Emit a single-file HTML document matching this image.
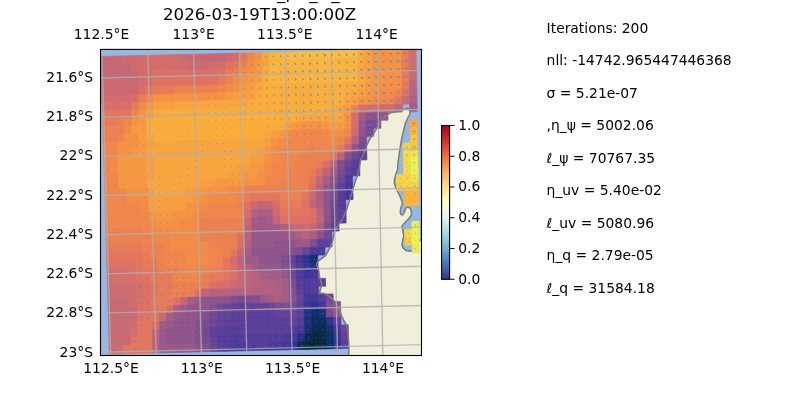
<!DOCTYPE html>
<html lang="en"><head><meta charset="utf-8"><title>2026-03-19T13:00:00Z</title>
<style>html,body{margin:0;padding:0;background:#fff;overflow:hidden}svg{display:block}text{font-family:"DejaVu Sans","Liberation Sans",sans-serif;fill:#000}.t10{font-size:13.89px}.t12{font-size:16.67px}.g{stroke:#b0b0b0;stroke-opacity:.78;stroke-width:1.4;fill:none}.q{fill:#4f8fd4;fill-opacity:.88;stroke:none}.qd{fill:#4f8fd4;fill-opacity:.5;stroke:none}</style></head><body>
<svg width="800" height="400" viewBox="0 0 800 400">
<defs><clipPath id="ax"><rect x="100.5" y="49.4" width="321.0" height="306.1"/></clipPath>
<linearGradient id="cb" x1="0" y1="1" x2="0" y2="0"><stop offset="0%" stop-color="#313695"/><stop offset="10%" stop-color="#4575b4"/><stop offset="20%" stop-color="#74add1"/><stop offset="30%" stop-color="#abd9e9"/><stop offset="40%" stop-color="#e0f3f8"/><stop offset="50%" stop-color="#ffffbf"/><stop offset="60%" stop-color="#fee090"/><stop offset="70%" stop-color="#fdae61"/><stop offset="80%" stop-color="#f46d43"/><stop offset="90%" stop-color="#d73027"/><stop offset="100%" stop-color="#a50026"/></linearGradient></defs>
<rect width="800" height="400" fill="#fff"/>
<g clip-path="url(#ax)">
<rect x="100.5" y="49.4" width="321.0" height="306.1" fill="#97b6e1"/>
<path d="M407.5,108.3 L403.8,109.4 L397.5,111.2 L390.0,113.0 L385.0,116.2 L381.2,120.0 L378.0,126.0 L374.4,132.5 L370.0,138.8 L366.9,145.0 L363.8,153.8 L360.6,160.0 L359.4,167.5 L357.5,175.0 L355.0,182.5 L353.0,188.8 L351.2,195.0 L348.8,202.5 L345.6,212.5 L341.9,220.0 L337.5,226.2 L335.0,230.0 L333.8,235.0 L332.5,241.2 L330.6,246.2 L328.1,251.2 L325.6,255.6 L321.2,258.8 L318.1,261.2 L316.5,264.4 L317.5,266.9 L318.8,271.2 L319.4,276.2 L320.6,280.0 L321.9,285.0 L320.6,288.8 L319.4,293.1 L323.8,293.5 L327.5,295.0 L331.2,298.1 L335.0,301.9 L337.5,305.6 L339.4,310.0 L341.2,315.0 L343.8,320.5 L346.6,325.3 L347.8,331.2 L348.5,340.0 L348.8,347.5 L348.8,358.0 L424.0,358.0 L424.0,236.0 L420.6,240.0 L416.3,245.0 L414.0,248.5 L412.0,250.5 L410.0,251.2 L406.2,250.6 L403.0,248.0 L401.9,245.0 L402.5,241.2 L403.8,236.2 L403.0,231.2 L401.9,226.2 L405.0,222.5 L408.8,218.8 L411.5,215.0 L411.2,211.0 L410.0,208.0 L407.5,207.0 L405.5,208.5 L404.5,212.0 L402.8,215.0 L401.0,214.5 L400.2,212.0 L400.8,208.0 L402.5,203.5 L402.0,201.5 L399.4,195.0 L396.2,188.8 L394.4,183.8 L394.4,180.0 L395.6,175.0 L397.5,170.0 L398.0,162.5 L399.4,152.5 L400.6,145.0 L401.9,137.5 L403.8,130.0 L405.6,122.5 L408.0,117.5 L410.0,113.8 L409.8,110.5Z" fill="#efefdb"/>
<g>
<path d="M100.8,56.5 L122.8,55.9 L123.0,63.8 L101.0,64.3Z" fill="#c76774" stroke="#c76774" stroke-width="0.7"/>
<path d="M122.8,55.9 L137.4,55.6 L137.6,63.4 L123.0,63.8Z" fill="#ce696f" stroke="#ce696f" stroke-width="0.7"/>
<path d="M137.4,55.6 L181.4,54.5 L181.6,62.4 L137.6,63.4Z" fill="#d46c6b" stroke="#d46c6b" stroke-width="0.7"/>
<path d="M181.4,54.5 L188.7,54.4 L188.9,62.2 L181.6,62.4Z" fill="#ce696f" stroke="#ce696f" stroke-width="0.7"/>
<path d="M188.7,54.4 L225.4,53.5 L225.6,61.3 L188.9,62.2Z" fill="#c76774" stroke="#c76774" stroke-width="0.7"/>
<path d="M225.4,53.5 L232.7,53.3 L232.9,61.2 L225.6,61.3Z" fill="#ce696f" stroke="#ce696f" stroke-width="0.7"/>
<path d="M232.7,53.3 L240.1,53.1 L240.2,61.0 L232.9,61.2Z" fill="#d46c6b" stroke="#d46c6b" stroke-width="0.7"/>
<path d="M240.1,53.1 L247.4,53.0 L247.6,60.8 L240.2,61.0Z" fill="#e5765b" stroke="#e5765b" stroke-width="0.7"/>
<path d="M247.4,53.0 L254.7,52.8 L254.9,60.6 L247.6,60.8Z" fill="#f2864b" stroke="#f2864b" stroke-width="0.7"/>
<path d="M254.7,52.8 L262.1,52.6 L262.2,60.5 L254.9,60.6Z" fill="#f79243" stroke="#f79243" stroke-width="0.7"/>
<path d="M262.1,52.6 L269.4,52.5 L269.6,60.3 L262.2,60.5Z" fill="#faa63e" stroke="#faa63e" stroke-width="0.7"/>
<path d="M269.4,52.5 L284.1,52.1 L284.2,59.9 L269.6,60.3Z" fill="#fab53e" stroke="#fab53e" stroke-width="0.7"/>
<path d="M284.1,52.1 L357.4,50.4 L357.5,58.2 L284.2,59.9Z" fill="#f9bc40" stroke="#f9bc40" stroke-width="0.7"/>
<path d="M357.4,50.4 L364.7,50.2 L364.9,58.0 L357.5,58.2Z" fill="#fbad3c" stroke="#fbad3c" stroke-width="0.7"/>
<path d="M364.7,50.2 L372.1,50.0 L372.2,57.9 L364.9,58.0Z" fill="#f99f40" stroke="#f99f40" stroke-width="0.7"/>
<path d="M372.1,50.0 L401.4,49.3 L401.5,57.2 L372.2,57.9Z" fill="#f79243" stroke="#f79243" stroke-width="0.7"/>
<path d="M401.4,49.3 L408.7,49.2 L408.9,57.0 L401.5,57.2Z" fill="#ee8150" stroke="#ee8150" stroke-width="0.7"/>
<path d="M408.7,49.2 L416.1,49.0 L416.2,56.8 L408.9,57.0Z" fill="#db6e66" stroke="#db6e66" stroke-width="0.7"/>
<path d="M101.0,64.3 L130.3,63.6 L130.5,71.4 L101.2,72.1Z" fill="#c76774" stroke="#c76774" stroke-width="0.7"/>
<path d="M130.3,63.6 L137.6,63.4 L137.9,71.2 L130.5,71.4Z" fill="#ce696f" stroke="#ce696f" stroke-width="0.7"/>
<path d="M137.6,63.4 L188.9,62.2 L189.1,70.0 L137.9,71.2Z" fill="#d46c6b" stroke="#d46c6b" stroke-width="0.7"/>
<path d="M188.9,62.2 L210.9,61.7 L211.1,69.5 L189.1,70.0Z" fill="#ce696f" stroke="#ce696f" stroke-width="0.7"/>
<path d="M210.9,61.7 L225.6,61.3 L225.8,69.2 L211.1,69.5Z" fill="#d46c6b" stroke="#d46c6b" stroke-width="0.7"/>
<path d="M225.6,61.3 L232.9,61.2 L233.1,69.0 L225.8,69.2Z" fill="#e17161" stroke="#e17161" stroke-width="0.7"/>
<path d="M232.9,61.2 L240.2,61.0 L240.4,68.8 L233.1,69.0Z" fill="#e5765b" stroke="#e5765b" stroke-width="0.7"/>
<path d="M240.2,61.0 L247.6,60.8 L247.8,68.6 L240.4,68.8Z" fill="#ee8150" stroke="#ee8150" stroke-width="0.7"/>
<path d="M247.6,60.8 L254.9,60.6 L255.1,68.5 L247.8,68.6Z" fill="#f68b45" stroke="#f68b45" stroke-width="0.7"/>
<path d="M254.9,60.6 L262.2,60.5 L262.4,68.3 L255.1,68.5Z" fill="#f89941" stroke="#f89941" stroke-width="0.7"/>
<path d="M262.2,60.5 L269.6,60.3 L269.8,68.1 L262.4,68.3Z" fill="#faa63e" stroke="#faa63e" stroke-width="0.7"/>
<path d="M269.6,60.3 L357.5,58.2 L357.7,66.0 L269.8,68.1Z" fill="#fab53e" stroke="#fab53e" stroke-width="0.7"/>
<path d="M357.5,58.2 L364.9,58.0 L365.0,65.9 L357.7,66.0Z" fill="#fbad3c" stroke="#fbad3c" stroke-width="0.7"/>
<path d="M364.9,58.0 L372.2,57.9 L372.4,65.7 L365.0,65.9Z" fill="#f99f40" stroke="#f99f40" stroke-width="0.7"/>
<path d="M372.2,57.9 L401.5,57.2 L401.7,65.0 L372.4,65.7Z" fill="#f79243" stroke="#f79243" stroke-width="0.7"/>
<path d="M401.5,57.2 L408.9,57.0 L409.0,64.8 L401.7,65.0Z" fill="#e97b56" stroke="#e97b56" stroke-width="0.7"/>
<path d="M408.9,57.0 L416.2,56.8 L416.3,64.6 L409.0,64.8Z" fill="#d46c6b" stroke="#d46c6b" stroke-width="0.7"/>
<path d="M101.2,72.1 L137.9,71.2 L138.1,79.1 L101.4,79.9Z" fill="#c76774" stroke="#c76774" stroke-width="0.7"/>
<path d="M137.9,71.2 L152.5,70.9 L152.7,78.7 L138.1,79.1Z" fill="#d46c6b" stroke="#d46c6b" stroke-width="0.7"/>
<path d="M152.5,70.9 L218.5,69.3 L218.6,77.2 L152.7,78.7Z" fill="#db6e66" stroke="#db6e66" stroke-width="0.7"/>
<path d="M218.5,69.3 L225.8,69.2 L226.0,77.0 L218.6,77.2Z" fill="#e17161" stroke="#e17161" stroke-width="0.7"/>
<path d="M225.8,69.2 L233.1,69.0 L233.3,76.8 L226.0,77.0Z" fill="#e97b56" stroke="#e97b56" stroke-width="0.7"/>
<path d="M233.1,69.0 L240.4,68.8 L240.6,76.6 L233.3,76.8Z" fill="#ee8150" stroke="#ee8150" stroke-width="0.7"/>
<path d="M240.4,68.8 L247.8,68.6 L248.0,76.5 L240.6,76.6Z" fill="#f68b45" stroke="#f68b45" stroke-width="0.7"/>
<path d="M247.8,68.6 L255.1,68.5 L255.3,76.3 L248.0,76.5Z" fill="#f79243" stroke="#f79243" stroke-width="0.7"/>
<path d="M255.1,68.5 L262.4,68.3 L262.6,76.1 L255.3,76.3Z" fill="#f89941" stroke="#f89941" stroke-width="0.7"/>
<path d="M262.4,68.3 L269.8,68.1 L269.9,75.9 L262.6,76.1Z" fill="#faa63e" stroke="#faa63e" stroke-width="0.7"/>
<path d="M269.8,68.1 L357.7,66.0 L357.9,73.9 L269.9,75.9Z" fill="#fab53e" stroke="#fab53e" stroke-width="0.7"/>
<path d="M357.7,66.0 L365.0,65.9 L365.2,73.7 L357.9,73.9Z" fill="#faa63e" stroke="#faa63e" stroke-width="0.7"/>
<path d="M365.0,65.9 L372.4,65.7 L372.5,73.5 L365.2,73.7Z" fill="#f99f40" stroke="#f99f40" stroke-width="0.7"/>
<path d="M372.4,65.7 L401.7,65.0 L401.8,72.8 L372.5,73.5Z" fill="#f79243" stroke="#f79243" stroke-width="0.7"/>
<path d="M401.7,65.0 L409.0,64.8 L409.2,72.7 L401.8,72.8Z" fill="#e97b56" stroke="#e97b56" stroke-width="0.7"/>
<path d="M409.0,64.8 L416.3,64.6 L416.5,72.5 L409.2,72.7Z" fill="#d46c6b" stroke="#d46c6b" stroke-width="0.7"/>
<path d="M101.4,79.9 L138.1,79.1 L138.3,86.9 L101.7,87.8Z" fill="#ce696f" stroke="#ce696f" stroke-width="0.7"/>
<path d="M138.1,79.1 L145.4,78.9 L145.6,86.7 L138.3,86.9Z" fill="#d46c6b" stroke="#d46c6b" stroke-width="0.7"/>
<path d="M145.4,78.9 L152.7,78.7 L152.9,86.6 L145.6,86.7Z" fill="#db6e66" stroke="#db6e66" stroke-width="0.7"/>
<path d="M152.7,78.7 L218.6,77.2 L218.8,85.0 L152.9,86.6Z" fill="#e17161" stroke="#e17161" stroke-width="0.7"/>
<path d="M218.6,77.2 L226.0,77.0 L226.2,84.8 L218.8,85.0Z" fill="#e97b56" stroke="#e97b56" stroke-width="0.7"/>
<path d="M226.0,77.0 L233.3,76.8 L233.5,84.6 L226.2,84.8Z" fill="#ee8150" stroke="#ee8150" stroke-width="0.7"/>
<path d="M233.3,76.8 L240.6,76.6 L240.8,84.5 L233.5,84.6Z" fill="#f68b45" stroke="#f68b45" stroke-width="0.7"/>
<path d="M240.6,76.6 L248.0,76.5 L248.1,84.3 L240.8,84.5Z" fill="#f79243" stroke="#f79243" stroke-width="0.7"/>
<path d="M248.0,76.5 L255.3,76.3 L255.5,84.1 L248.1,84.3Z" fill="#f89941" stroke="#f89941" stroke-width="0.7"/>
<path d="M255.3,76.3 L262.6,76.1 L262.8,84.0 L255.5,84.1Z" fill="#f99f40" stroke="#f99f40" stroke-width="0.7"/>
<path d="M262.6,76.1 L269.9,75.9 L270.1,83.8 L262.8,84.0Z" fill="#fbad3c" stroke="#fbad3c" stroke-width="0.7"/>
<path d="M269.9,75.9 L357.9,73.9 L358.0,81.7 L270.1,83.8Z" fill="#fab53e" stroke="#fab53e" stroke-width="0.7"/>
<path d="M357.9,73.9 L365.2,73.7 L365.3,81.5 L358.0,81.7Z" fill="#faa63e" stroke="#faa63e" stroke-width="0.7"/>
<path d="M365.2,73.7 L372.5,73.5 L372.7,81.4 L365.3,81.5Z" fill="#f99f40" stroke="#f99f40" stroke-width="0.7"/>
<path d="M372.5,73.5 L401.8,72.8 L402.0,80.7 L372.7,81.4Z" fill="#f79243" stroke="#f79243" stroke-width="0.7"/>
<path d="M401.8,72.8 L409.2,72.7 L409.3,80.5 L402.0,80.7Z" fill="#e97b56" stroke="#e97b56" stroke-width="0.7"/>
<path d="M409.2,72.7 L416.5,72.5 L416.6,80.3 L409.3,80.5Z" fill="#ce696f" stroke="#ce696f" stroke-width="0.7"/>
<path d="M101.7,87.8 L138.3,86.9 L138.5,94.7 L101.9,95.6Z" fill="#ce696f" stroke="#ce696f" stroke-width="0.7"/>
<path d="M138.3,86.9 L145.6,86.7 L145.8,94.6 L138.5,94.7Z" fill="#db6e66" stroke="#db6e66" stroke-width="0.7"/>
<path d="M145.6,86.7 L152.9,86.6 L153.1,94.4 L145.8,94.6Z" fill="#e5765b" stroke="#e5765b" stroke-width="0.7"/>
<path d="M152.9,86.6 L174.9,86.0 L175.1,93.9 L153.1,94.4Z" fill="#e97b56" stroke="#e97b56" stroke-width="0.7"/>
<path d="M174.9,86.0 L218.8,85.0 L219.0,92.8 L175.1,93.9Z" fill="#ee8150" stroke="#ee8150" stroke-width="0.7"/>
<path d="M218.8,85.0 L226.2,84.8 L226.4,92.7 L219.0,92.8Z" fill="#f2864b" stroke="#f2864b" stroke-width="0.7"/>
<path d="M226.2,84.8 L233.5,84.6 L233.7,92.5 L226.4,92.7Z" fill="#f68b45" stroke="#f68b45" stroke-width="0.7"/>
<path d="M233.5,84.6 L240.8,84.5 L241.0,92.3 L233.7,92.5Z" fill="#f79243" stroke="#f79243" stroke-width="0.7"/>
<path d="M240.8,84.5 L248.1,84.3 L248.3,92.1 L241.0,92.3Z" fill="#f89941" stroke="#f89941" stroke-width="0.7"/>
<path d="M248.1,84.3 L255.5,84.1 L255.6,92.0 L248.3,92.1Z" fill="#f99f40" stroke="#f99f40" stroke-width="0.7"/>
<path d="M255.5,84.1 L262.8,84.0 L263.0,91.8 L255.6,92.0Z" fill="#faa63e" stroke="#faa63e" stroke-width="0.7"/>
<path d="M262.8,84.0 L358.0,81.7 L358.2,89.5 L263.0,91.8Z" fill="#fbad3c" stroke="#fbad3c" stroke-width="0.7"/>
<path d="M358.0,81.7 L365.3,81.5 L365.5,89.4 L358.2,89.5Z" fill="#faa63e" stroke="#faa63e" stroke-width="0.7"/>
<path d="M365.3,81.5 L372.7,81.4 L372.8,89.2 L365.5,89.4Z" fill="#f89941" stroke="#f89941" stroke-width="0.7"/>
<path d="M372.7,81.4 L402.0,80.7 L402.1,88.5 L372.8,89.2Z" fill="#f79243" stroke="#f79243" stroke-width="0.7"/>
<path d="M402.0,80.7 L409.3,80.5 L409.4,88.3 L402.1,88.5Z" fill="#e97b56" stroke="#e97b56" stroke-width="0.7"/>
<path d="M409.3,80.5 L416.6,80.3 L416.8,88.1 L409.4,88.3Z" fill="#c16479" stroke="#c16479" stroke-width="0.7"/>
<path d="M101.9,95.6 L131.2,94.9 L131.4,102.7 L102.1,103.4Z" fill="#d46c6b" stroke="#d46c6b" stroke-width="0.7"/>
<path d="M131.2,94.9 L138.5,94.7 L138.7,102.6 L131.4,102.7Z" fill="#db6e66" stroke="#db6e66" stroke-width="0.7"/>
<path d="M138.5,94.7 L145.8,94.6 L146.0,102.4 L138.7,102.6Z" fill="#e97b56" stroke="#e97b56" stroke-width="0.7"/>
<path d="M145.8,94.6 L153.1,94.4 L153.4,102.2 L146.0,102.4Z" fill="#f2864b" stroke="#f2864b" stroke-width="0.7"/>
<path d="M153.1,94.4 L226.4,92.7 L226.6,100.5 L153.4,102.2Z" fill="#f79243" stroke="#f79243" stroke-width="0.7"/>
<path d="M226.4,92.7 L233.7,92.5 L233.9,100.3 L226.6,100.5Z" fill="#f89941" stroke="#f89941" stroke-width="0.7"/>
<path d="M233.7,92.5 L255.6,92.0 L255.8,99.8 L233.9,100.3Z" fill="#f99f40" stroke="#f99f40" stroke-width="0.7"/>
<path d="M255.6,92.0 L350.8,89.7 L351.0,97.5 L255.8,99.8Z" fill="#fbad3c" stroke="#fbad3c" stroke-width="0.7"/>
<path d="M350.8,89.7 L358.2,89.5 L358.3,97.4 L351.0,97.5Z" fill="#faa63e" stroke="#faa63e" stroke-width="0.7"/>
<path d="M358.2,89.5 L365.5,89.4 L365.6,97.2 L358.3,97.4Z" fill="#f99f40" stroke="#f99f40" stroke-width="0.7"/>
<path d="M365.5,89.4 L372.8,89.2 L373.0,97.0 L365.6,97.2Z" fill="#f89941" stroke="#f89941" stroke-width="0.7"/>
<path d="M372.8,89.2 L380.1,89.0 L380.3,96.8 L373.0,97.0Z" fill="#f79243" stroke="#f79243" stroke-width="0.7"/>
<path d="M380.1,89.0 L394.8,88.7 L394.9,96.5 L380.3,96.8Z" fill="#f68b45" stroke="#f68b45" stroke-width="0.7"/>
<path d="M394.8,88.7 L402.1,88.5 L402.2,96.3 L394.9,96.5Z" fill="#f2864b" stroke="#f2864b" stroke-width="0.7"/>
<path d="M402.1,88.5 L409.4,88.3 L409.6,96.1 L402.2,96.3Z" fill="#e17161" stroke="#e17161" stroke-width="0.7"/>
<path d="M409.4,88.3 L416.8,88.1 L416.9,96.0 L409.6,96.1Z" fill="#ba627c" stroke="#ba627c" stroke-width="0.7"/>
<path d="M102.1,103.4 L131.4,102.7 L131.6,110.6 L102.4,111.3Z" fill="#db6e66" stroke="#db6e66" stroke-width="0.7"/>
<path d="M131.4,102.7 L138.7,102.6 L138.9,110.4 L131.6,110.6Z" fill="#e97b56" stroke="#e97b56" stroke-width="0.7"/>
<path d="M138.7,102.6 L146.0,102.4 L146.3,110.2 L138.9,110.4Z" fill="#f68b45" stroke="#f68b45" stroke-width="0.7"/>
<path d="M146.0,102.4 L153.4,102.2 L153.6,110.1 L146.3,110.2Z" fill="#f89941" stroke="#f89941" stroke-width="0.7"/>
<path d="M153.4,102.2 L175.3,101.7 L175.5,109.5 L153.6,110.1Z" fill="#f99f40" stroke="#f99f40" stroke-width="0.7"/>
<path d="M175.3,101.7 L248.5,100.0 L248.7,107.8 L175.5,109.5Z" fill="#faa63e" stroke="#faa63e" stroke-width="0.7"/>
<path d="M248.5,100.0 L343.7,97.7 L343.8,105.5 L248.7,107.8Z" fill="#fbad3c" stroke="#fbad3c" stroke-width="0.7"/>
<path d="M343.7,97.7 L351.0,97.5 L351.2,105.4 L343.8,105.5Z" fill="#faa63e" stroke="#faa63e" stroke-width="0.7"/>
<path d="M351.0,97.5 L358.3,97.4 L358.5,105.2 L351.2,105.4Z" fill="#f99f40" stroke="#f99f40" stroke-width="0.7"/>
<path d="M358.3,97.4 L373.0,97.0 L373.1,104.8 L358.5,105.2Z" fill="#f79243" stroke="#f79243" stroke-width="0.7"/>
<path d="M373.0,97.0 L394.9,96.5 L395.1,104.3 L373.1,104.8Z" fill="#f2864b" stroke="#f2864b" stroke-width="0.7"/>
<path d="M394.9,96.5 L402.2,96.3 L402.4,104.2 L395.1,104.3Z" fill="#e5765b" stroke="#e5765b" stroke-width="0.7"/>
<path d="M402.2,96.3 L409.6,96.1 L409.7,104.0 L402.4,104.2Z" fill="#ce696f" stroke="#ce696f" stroke-width="0.7"/>
<path d="M409.6,96.1 L416.9,96.0 L417.0,103.8 L409.7,104.0Z" fill="#b3607f" stroke="#b3607f" stroke-width="0.7"/>
<path d="M102.4,111.3 L131.6,110.6 L131.8,118.4 L102.6,119.1Z" fill="#e5765b" stroke="#e5765b" stroke-width="0.7"/>
<path d="M131.6,110.6 L138.9,110.4 L139.2,118.2 L131.8,118.4Z" fill="#f2864b" stroke="#f2864b" stroke-width="0.7"/>
<path d="M138.9,110.4 L146.3,110.2 L146.5,118.1 L139.2,118.2Z" fill="#f79243" stroke="#f79243" stroke-width="0.7"/>
<path d="M146.3,110.2 L153.6,110.1 L153.8,117.9 L146.5,118.1Z" fill="#f99f40" stroke="#f99f40" stroke-width="0.7"/>
<path d="M153.6,110.1 L336.5,105.7 L336.7,113.5 L153.8,117.9Z" fill="#fbad3c" stroke="#fbad3c" stroke-width="0.7"/>
<path d="M336.5,105.7 L343.8,105.5 L344.0,113.4 L336.7,113.5Z" fill="#faa63e" stroke="#faa63e" stroke-width="0.7"/>
<path d="M343.8,105.5 L351.2,105.4 L351.3,113.2 L344.0,113.4Z" fill="#f89941" stroke="#f89941" stroke-width="0.7"/>
<path d="M351.2,105.4 L358.5,105.2 L358.6,113.0 L351.3,113.2Z" fill="#ee8150" stroke="#ee8150" stroke-width="0.7"/>
<path d="M358.5,105.2 L365.8,105.0 L365.9,112.9 L358.6,113.0Z" fill="#db6e66" stroke="#db6e66" stroke-width="0.7"/>
<path d="M365.8,105.0 L395.1,104.3 L395.2,112.2 L365.9,112.9Z" fill="#d46c6b" stroke="#d46c6b" stroke-width="0.7"/>
<path d="M395.1,104.3 L402.4,104.2 L402.5,112.0 L395.2,112.2Z" fill="#c16479" stroke="#c16479" stroke-width="0.7"/>
<path d="M102.6,119.1 L117.2,118.7 L117.4,126.6 L102.8,126.9Z" fill="#e97b56" stroke="#e97b56" stroke-width="0.7"/>
<path d="M117.2,118.7 L124.5,118.6 L124.8,126.4 L117.4,126.6Z" fill="#ee8150" stroke="#ee8150" stroke-width="0.7"/>
<path d="M124.5,118.6 L131.8,118.4 L132.1,126.2 L124.8,126.4Z" fill="#f2864b" stroke="#f2864b" stroke-width="0.7"/>
<path d="M131.8,118.4 L139.2,118.2 L139.4,126.1 L132.1,126.2Z" fill="#f79243" stroke="#f79243" stroke-width="0.7"/>
<path d="M139.2,118.2 L146.5,118.1 L146.7,125.9 L139.4,126.1Z" fill="#f89941" stroke="#f89941" stroke-width="0.7"/>
<path d="M146.5,118.1 L300.1,114.4 L300.3,122.2 L146.7,125.9Z" fill="#fbad3c" stroke="#fbad3c" stroke-width="0.7"/>
<path d="M300.1,114.4 L344.0,113.4 L344.2,121.2 L300.3,122.2Z" fill="#faa63e" stroke="#faa63e" stroke-width="0.7"/>
<path d="M344.0,113.4 L351.3,113.2 L351.5,121.0 L344.2,121.2Z" fill="#f79243" stroke="#f79243" stroke-width="0.7"/>
<path d="M351.3,113.2 L358.6,113.0 L358.8,120.9 L351.5,121.0Z" fill="#db6e66" stroke="#db6e66" stroke-width="0.7"/>
<path d="M358.6,113.0 L365.9,112.9 L366.1,120.7 L358.8,120.9Z" fill="#a55b84" stroke="#a55b84" stroke-width="0.7"/>
<path d="M365.9,112.9 L380.6,112.5 L380.7,120.3 L366.1,120.7Z" fill="#8b528c" stroke="#8b528c" stroke-width="0.7"/>
<path d="M380.6,112.5 L387.9,112.3 L388.0,120.2 L380.7,120.3Z" fill="#985789" stroke="#985789" stroke-width="0.7"/>
<path d="M102.8,126.9 L124.8,126.4 L125.0,134.2 L103.0,134.8Z" fill="#ee8150" stroke="#ee8150" stroke-width="0.7"/>
<path d="M124.8,126.4 L132.1,126.2 L132.3,134.1 L125.0,134.2Z" fill="#f68b45" stroke="#f68b45" stroke-width="0.7"/>
<path d="M132.1,126.2 L146.7,125.9 L146.9,133.7 L132.3,134.1Z" fill="#f89941" stroke="#f89941" stroke-width="0.7"/>
<path d="M146.7,125.9 L285.6,122.6 L285.8,130.4 L146.9,133.7Z" fill="#fbad3c" stroke="#fbad3c" stroke-width="0.7"/>
<path d="M285.6,122.6 L293.0,122.4 L293.1,130.3 L285.8,130.4Z" fill="#f99f40" stroke="#f99f40" stroke-width="0.7"/>
<path d="M293.0,122.4 L300.3,122.2 L300.4,130.1 L293.1,130.3Z" fill="#f89941" stroke="#f89941" stroke-width="0.7"/>
<path d="M300.3,122.2 L322.2,121.7 L322.4,129.6 L300.4,130.1Z" fill="#f79243" stroke="#f79243" stroke-width="0.7"/>
<path d="M322.2,121.7 L329.5,121.6 L329.7,129.4 L322.4,129.6Z" fill="#f89941" stroke="#f89941" stroke-width="0.7"/>
<path d="M329.5,121.6 L344.2,121.2 L344.3,129.0 L329.7,129.4Z" fill="#f99f40" stroke="#f99f40" stroke-width="0.7"/>
<path d="M344.2,121.2 L351.5,121.0 L351.6,128.9 L344.3,129.0Z" fill="#f79243" stroke="#f79243" stroke-width="0.7"/>
<path d="M351.5,121.0 L358.8,120.9 L358.9,128.7 L351.6,128.9Z" fill="#db6e66" stroke="#db6e66" stroke-width="0.7"/>
<path d="M358.8,120.9 L366.1,120.7 L366.3,128.5 L358.9,128.7Z" fill="#985789" stroke="#985789" stroke-width="0.7"/>
<path d="M366.1,120.7 L373.4,120.5 L373.6,128.3 L366.3,128.5Z" fill="#774a91" stroke="#774a91" stroke-width="0.7"/>
<path d="M373.4,120.5 L380.7,120.3 L380.9,128.2 L373.6,128.3Z" fill="#7e4d8f" stroke="#7e4d8f" stroke-width="0.7"/>
<path d="M103.0,134.8 L117.7,134.4 L117.9,142.2 L103.3,142.6Z" fill="#ee8150" stroke="#ee8150" stroke-width="0.7"/>
<path d="M117.7,134.4 L125.0,134.2 L125.2,142.1 L117.9,142.2Z" fill="#f2864b" stroke="#f2864b" stroke-width="0.7"/>
<path d="M125.0,134.2 L139.6,133.9 L139.8,141.7 L125.2,142.1Z" fill="#f79243" stroke="#f79243" stroke-width="0.7"/>
<path d="M139.6,133.9 L146.9,133.7 L147.1,141.5 L139.8,141.7Z" fill="#f99f40" stroke="#f99f40" stroke-width="0.7"/>
<path d="M146.9,133.7 L154.2,133.5 L154.4,141.4 L147.1,141.5Z" fill="#faa63e" stroke="#faa63e" stroke-width="0.7"/>
<path d="M154.2,133.5 L263.9,130.9 L264.1,138.8 L154.4,141.4Z" fill="#fbad3c" stroke="#fbad3c" stroke-width="0.7"/>
<path d="M263.9,130.9 L271.2,130.8 L271.4,138.6 L264.1,138.8Z" fill="#faa63e" stroke="#faa63e" stroke-width="0.7"/>
<path d="M271.2,130.8 L278.5,130.6 L278.7,138.4 L271.4,138.6Z" fill="#f99f40" stroke="#f99f40" stroke-width="0.7"/>
<path d="M278.5,130.6 L285.8,130.4 L286.0,138.3 L278.7,138.4Z" fill="#f89941" stroke="#f89941" stroke-width="0.7"/>
<path d="M285.8,130.4 L293.1,130.3 L293.3,138.1 L286.0,138.3Z" fill="#f68b45" stroke="#f68b45" stroke-width="0.7"/>
<path d="M293.1,130.3 L322.4,129.6 L322.5,137.4 L293.3,138.1Z" fill="#f2864b" stroke="#f2864b" stroke-width="0.7"/>
<path d="M322.4,129.6 L329.7,129.4 L329.9,137.2 L322.5,137.4Z" fill="#f68b45" stroke="#f68b45" stroke-width="0.7"/>
<path d="M329.7,129.4 L344.3,129.0 L344.5,136.9 L329.9,137.2Z" fill="#f79243" stroke="#f79243" stroke-width="0.7"/>
<path d="M344.3,129.0 L351.6,128.9 L351.8,136.7 L344.5,136.9Z" fill="#f2864b" stroke="#f2864b" stroke-width="0.7"/>
<path d="M351.6,128.9 L358.9,128.7 L359.1,136.5 L351.8,136.7Z" fill="#ce696f" stroke="#ce696f" stroke-width="0.7"/>
<path d="M358.9,128.7 L366.3,128.5 L366.4,136.4 L359.1,136.5Z" fill="#91548a" stroke="#91548a" stroke-width="0.7"/>
<path d="M366.3,128.5 L373.6,128.3 L373.7,136.2 L366.4,136.4Z" fill="#774a91" stroke="#774a91" stroke-width="0.7"/>
<path d="M103.3,142.6 L117.9,142.2 L118.1,150.1 L103.5,150.4Z" fill="#f2864b" stroke="#f2864b" stroke-width="0.7"/>
<path d="M117.9,142.2 L139.8,141.7 L140.0,149.6 L118.1,150.1Z" fill="#f79243" stroke="#f79243" stroke-width="0.7"/>
<path d="M139.8,141.7 L147.1,141.5 L147.3,149.4 L140.0,149.6Z" fill="#f89941" stroke="#f89941" stroke-width="0.7"/>
<path d="M147.1,141.5 L154.4,141.4 L154.6,149.2 L147.3,149.4Z" fill="#f99f40" stroke="#f99f40" stroke-width="0.7"/>
<path d="M154.4,141.4 L264.1,138.8 L264.2,146.6 L154.6,149.2Z" fill="#faa63e" stroke="#faa63e" stroke-width="0.7"/>
<path d="M264.1,138.8 L271.4,138.6 L271.6,146.4 L264.2,146.6Z" fill="#f99f40" stroke="#f99f40" stroke-width="0.7"/>
<path d="M271.4,138.6 L278.7,138.4 L278.9,146.3 L271.6,146.4Z" fill="#f79243" stroke="#f79243" stroke-width="0.7"/>
<path d="M278.7,138.4 L286.0,138.3 L286.2,146.1 L278.9,146.3Z" fill="#f68b45" stroke="#f68b45" stroke-width="0.7"/>
<path d="M286.0,138.3 L329.9,137.2 L330.0,145.0 L286.2,146.1Z" fill="#f2864b" stroke="#f2864b" stroke-width="0.7"/>
<path d="M329.9,137.2 L337.2,137.0 L337.3,144.9 L330.0,145.0Z" fill="#f68b45" stroke="#f68b45" stroke-width="0.7"/>
<path d="M337.2,137.0 L344.5,136.9 L344.6,144.7 L337.3,144.9Z" fill="#f2864b" stroke="#f2864b" stroke-width="0.7"/>
<path d="M344.5,136.9 L351.8,136.7 L351.9,144.5 L344.6,144.7Z" fill="#e5765b" stroke="#e5765b" stroke-width="0.7"/>
<path d="M351.8,136.7 L359.1,136.5 L359.2,144.4 L351.9,144.5Z" fill="#b3607f" stroke="#b3607f" stroke-width="0.7"/>
<path d="M359.1,136.5 L366.4,136.4 L366.6,144.2 L359.2,144.4Z" fill="#7e4d8f" stroke="#7e4d8f" stroke-width="0.7"/>
<path d="M103.5,150.4 L118.1,150.1 L118.3,157.9 L103.7,158.2Z" fill="#f2864b" stroke="#f2864b" stroke-width="0.7"/>
<path d="M118.1,150.1 L132.7,149.7 L132.9,157.6 L118.3,157.9Z" fill="#f79243" stroke="#f79243" stroke-width="0.7"/>
<path d="M132.7,149.7 L147.3,149.4 L147.6,157.2 L132.9,157.6Z" fill="#f89941" stroke="#f89941" stroke-width="0.7"/>
<path d="M147.3,149.4 L256.9,146.8 L257.1,154.6 L147.6,157.2Z" fill="#faa63e" stroke="#faa63e" stroke-width="0.7"/>
<path d="M256.9,146.8 L264.2,146.6 L264.4,154.4 L257.1,154.6Z" fill="#f99f40" stroke="#f99f40" stroke-width="0.7"/>
<path d="M264.2,146.6 L271.6,146.4 L271.7,154.3 L264.4,154.4Z" fill="#f89941" stroke="#f89941" stroke-width="0.7"/>
<path d="M271.6,146.4 L278.9,146.3 L279.0,154.1 L271.7,154.3Z" fill="#f68b45" stroke="#f68b45" stroke-width="0.7"/>
<path d="M278.9,146.3 L308.1,145.6 L308.3,153.4 L279.0,154.1Z" fill="#f2864b" stroke="#f2864b" stroke-width="0.7"/>
<path d="M308.1,145.6 L315.4,145.4 L315.6,153.2 L308.3,153.4Z" fill="#ee8150" stroke="#ee8150" stroke-width="0.7"/>
<path d="M315.4,145.4 L337.3,144.9 L337.5,152.7 L315.6,153.2Z" fill="#f2864b" stroke="#f2864b" stroke-width="0.7"/>
<path d="M337.3,144.9 L344.6,144.7 L344.8,152.5 L337.5,152.7Z" fill="#e97b56" stroke="#e97b56" stroke-width="0.7"/>
<path d="M344.6,144.7 L351.9,144.5 L352.1,152.4 L344.8,152.5Z" fill="#c76774" stroke="#c76774" stroke-width="0.7"/>
<path d="M351.9,144.5 L359.2,144.4 L359.4,152.2 L352.1,152.4Z" fill="#91548a" stroke="#91548a" stroke-width="0.7"/>
<path d="M359.2,144.4 L366.6,144.2 L366.7,152.0 L359.4,152.2Z" fill="#714793" stroke="#714793" stroke-width="0.7"/>
<path d="M103.7,158.2 L111.0,158.1 L111.3,165.9 L104.0,166.1Z" fill="#f2864b" stroke="#f2864b" stroke-width="0.7"/>
<path d="M111.0,158.1 L118.3,157.9 L118.6,165.7 L111.3,165.9Z" fill="#f68b45" stroke="#f68b45" stroke-width="0.7"/>
<path d="M118.3,157.9 L147.6,157.2 L147.8,165.0 L118.6,165.7Z" fill="#f89941" stroke="#f89941" stroke-width="0.7"/>
<path d="M147.6,157.2 L154.9,157.0 L155.1,164.9 L147.8,165.0Z" fill="#f99f40" stroke="#f99f40" stroke-width="0.7"/>
<path d="M154.9,157.0 L249.8,154.8 L250.0,162.6 L155.1,164.9Z" fill="#faa63e" stroke="#faa63e" stroke-width="0.7"/>
<path d="M249.8,154.8 L264.4,154.4 L264.6,162.3 L250.0,162.6Z" fill="#f99f40" stroke="#f99f40" stroke-width="0.7"/>
<path d="M264.4,154.4 L271.7,154.3 L271.9,162.1 L264.6,162.3Z" fill="#f79243" stroke="#f79243" stroke-width="0.7"/>
<path d="M271.7,154.3 L279.0,154.1 L279.2,161.9 L271.9,162.1Z" fill="#f68b45" stroke="#f68b45" stroke-width="0.7"/>
<path d="M279.0,154.1 L301.0,153.6 L301.1,161.4 L279.2,161.9Z" fill="#f2864b" stroke="#f2864b" stroke-width="0.7"/>
<path d="M301.0,153.6 L330.2,152.9 L330.3,160.7 L301.1,161.4Z" fill="#ee8150" stroke="#ee8150" stroke-width="0.7"/>
<path d="M330.2,152.9 L337.5,152.7 L337.6,160.5 L330.3,160.7Z" fill="#e5765b" stroke="#e5765b" stroke-width="0.7"/>
<path d="M337.5,152.7 L344.8,152.5 L344.9,160.4 L337.6,160.5Z" fill="#ba627c" stroke="#ba627c" stroke-width="0.7"/>
<path d="M344.8,152.5 L352.1,152.4 L352.3,160.2 L344.9,160.4Z" fill="#844f8d" stroke="#844f8d" stroke-width="0.7"/>
<path d="M352.1,152.4 L359.4,152.2 L359.6,160.0 L352.3,160.2Z" fill="#6a4495" stroke="#6a4495" stroke-width="0.7"/>
<path d="M359.4,152.2 L366.7,152.0 L366.9,159.8 L359.6,160.0Z" fill="#5d3e99" stroke="#5d3e99" stroke-width="0.7"/>
<path d="M104.0,166.1 L111.3,165.9 L111.5,173.7 L104.2,173.9Z" fill="#f2864b" stroke="#f2864b" stroke-width="0.7"/>
<path d="M111.3,165.9 L118.6,165.7 L118.8,173.6 L111.5,173.7Z" fill="#f68b45" stroke="#f68b45" stroke-width="0.7"/>
<path d="M118.6,165.7 L147.8,165.0 L148.0,172.9 L118.8,173.6Z" fill="#f89941" stroke="#f89941" stroke-width="0.7"/>
<path d="M147.8,165.0 L155.1,164.9 L155.3,172.7 L148.0,172.9Z" fill="#f99f40" stroke="#f99f40" stroke-width="0.7"/>
<path d="M155.1,164.9 L235.4,163.0 L235.6,170.8 L155.3,172.7Z" fill="#faa63e" stroke="#faa63e" stroke-width="0.7"/>
<path d="M235.4,163.0 L250.0,162.6 L250.2,170.4 L235.6,170.8Z" fill="#f99f40" stroke="#f99f40" stroke-width="0.7"/>
<path d="M250.0,162.6 L264.6,162.3 L264.8,170.1 L250.2,170.4Z" fill="#f89941" stroke="#f89941" stroke-width="0.7"/>
<path d="M264.6,162.3 L271.9,162.1 L272.1,169.9 L264.8,170.1Z" fill="#f68b45" stroke="#f68b45" stroke-width="0.7"/>
<path d="M271.9,162.1 L293.8,161.6 L294.0,169.4 L272.1,169.9Z" fill="#f2864b" stroke="#f2864b" stroke-width="0.7"/>
<path d="M293.8,161.6 L315.7,161.1 L315.9,168.9 L294.0,169.4Z" fill="#ee8150" stroke="#ee8150" stroke-width="0.7"/>
<path d="M315.7,161.1 L323.0,160.9 L323.2,168.7 L315.9,168.9Z" fill="#e97b56" stroke="#e97b56" stroke-width="0.7"/>
<path d="M323.0,160.9 L330.3,160.7 L330.5,168.5 L323.2,168.7Z" fill="#db6e66" stroke="#db6e66" stroke-width="0.7"/>
<path d="M330.3,160.7 L337.6,160.5 L337.8,168.4 L330.5,168.5Z" fill="#ba627c" stroke="#ba627c" stroke-width="0.7"/>
<path d="M337.6,160.5 L344.9,160.4 L345.1,168.2 L337.8,168.4Z" fill="#844f8d" stroke="#844f8d" stroke-width="0.7"/>
<path d="M344.9,160.4 L352.3,160.2 L352.4,168.0 L345.1,168.2Z" fill="#6a4495" stroke="#6a4495" stroke-width="0.7"/>
<path d="M352.3,160.2 L359.6,160.0 L359.7,167.9 L352.4,168.0Z" fill="#553c99" stroke="#553c99" stroke-width="0.7"/>
<path d="M104.2,173.9 L118.8,173.6 L119.0,181.4 L104.4,181.7Z" fill="#f2864b" stroke="#f2864b" stroke-width="0.7"/>
<path d="M118.8,173.6 L148.0,172.9 L148.2,180.7 L119.0,181.4Z" fill="#f89941" stroke="#f89941" stroke-width="0.7"/>
<path d="M148.0,172.9 L155.3,172.7 L155.5,180.5 L148.2,180.7Z" fill="#f99f40" stroke="#f99f40" stroke-width="0.7"/>
<path d="M155.3,172.7 L228.3,171.0 L228.5,178.8 L155.5,180.5Z" fill="#faa63e" stroke="#faa63e" stroke-width="0.7"/>
<path d="M228.3,171.0 L242.9,170.6 L243.1,178.5 L228.5,178.8Z" fill="#f99f40" stroke="#f99f40" stroke-width="0.7"/>
<path d="M242.9,170.6 L257.5,170.3 L257.7,178.1 L243.1,178.5Z" fill="#f89941" stroke="#f89941" stroke-width="0.7"/>
<path d="M257.5,170.3 L264.8,170.1 L265.0,177.9 L257.7,178.1Z" fill="#f79243" stroke="#f79243" stroke-width="0.7"/>
<path d="M264.8,170.1 L272.1,169.9 L272.3,177.8 L265.0,177.9Z" fill="#f68b45" stroke="#f68b45" stroke-width="0.7"/>
<path d="M272.1,169.9 L286.7,169.6 L286.9,177.4 L272.3,177.8Z" fill="#f2864b" stroke="#f2864b" stroke-width="0.7"/>
<path d="M286.7,169.6 L308.6,169.1 L308.8,176.9 L286.9,177.4Z" fill="#ee8150" stroke="#ee8150" stroke-width="0.7"/>
<path d="M308.6,169.1 L315.9,168.9 L316.1,176.7 L308.8,176.9Z" fill="#e97b56" stroke="#e97b56" stroke-width="0.7"/>
<path d="M315.9,168.9 L323.2,168.7 L323.4,176.6 L316.1,176.7Z" fill="#db6e66" stroke="#db6e66" stroke-width="0.7"/>
<path d="M323.2,168.7 L330.5,168.5 L330.7,176.4 L323.4,176.6Z" fill="#c16479" stroke="#c16479" stroke-width="0.7"/>
<path d="M330.5,168.5 L337.8,168.4 L338.0,176.2 L330.7,176.4Z" fill="#9e5987" stroke="#9e5987" stroke-width="0.7"/>
<path d="M337.8,168.4 L345.1,168.2 L345.3,176.0 L338.0,176.2Z" fill="#774a91" stroke="#774a91" stroke-width="0.7"/>
<path d="M345.1,168.2 L352.4,168.0 L352.6,175.9 L345.3,176.0Z" fill="#5d3e99" stroke="#5d3e99" stroke-width="0.7"/>
<path d="M352.4,168.0 L359.7,167.9 L359.9,175.7 L352.6,175.9Z" fill="#553c99" stroke="#553c99" stroke-width="0.7"/>
<path d="M104.4,181.7 L119.0,181.4 L119.2,189.2 L104.6,189.6Z" fill="#f2864b" stroke="#f2864b" stroke-width="0.7"/>
<path d="M119.0,181.4 L148.2,180.7 L148.4,188.5 L119.2,189.2Z" fill="#f89941" stroke="#f89941" stroke-width="0.7"/>
<path d="M148.2,180.7 L199.3,179.5 L199.5,187.3 L148.4,188.5Z" fill="#faa63e" stroke="#faa63e" stroke-width="0.7"/>
<path d="M199.3,179.5 L213.9,179.1 L214.1,187.0 L199.5,187.3Z" fill="#f99f40" stroke="#f99f40" stroke-width="0.7"/>
<path d="M213.9,179.1 L243.1,178.5 L243.3,186.3 L214.1,187.0Z" fill="#f89941" stroke="#f89941" stroke-width="0.7"/>
<path d="M243.1,178.5 L265.0,177.9 L265.2,185.8 L243.3,186.3Z" fill="#f79243" stroke="#f79243" stroke-width="0.7"/>
<path d="M265.0,177.9 L279.6,177.6 L279.7,185.4 L265.2,185.8Z" fill="#f2864b" stroke="#f2864b" stroke-width="0.7"/>
<path d="M279.6,177.6 L308.8,176.9 L308.9,184.7 L279.7,185.4Z" fill="#ee8150" stroke="#ee8150" stroke-width="0.7"/>
<path d="M308.8,176.9 L316.1,176.7 L316.2,184.6 L308.9,184.7Z" fill="#e5765b" stroke="#e5765b" stroke-width="0.7"/>
<path d="M316.1,176.7 L323.4,176.6 L323.5,184.4 L316.2,184.6Z" fill="#c76774" stroke="#c76774" stroke-width="0.7"/>
<path d="M323.4,176.6 L330.7,176.4 L330.8,184.2 L323.5,184.4Z" fill="#ac5d81" stroke="#ac5d81" stroke-width="0.7"/>
<path d="M330.7,176.4 L338.0,176.2 L338.1,184.0 L330.8,184.2Z" fill="#8b528c" stroke="#8b528c" stroke-width="0.7"/>
<path d="M338.0,176.2 L345.3,176.0 L345.4,183.9 L338.1,184.0Z" fill="#6a4495" stroke="#6a4495" stroke-width="0.7"/>
<path d="M345.3,176.0 L352.6,175.9 L352.7,183.7 L345.4,183.9Z" fill="#4d399a" stroke="#4d399a" stroke-width="0.7"/>
<path d="M104.6,189.6 L126.5,189.1 L126.8,196.9 L104.9,197.4Z" fill="#f2864b" stroke="#f2864b" stroke-width="0.7"/>
<path d="M126.5,189.1 L148.4,188.5 L148.6,196.4 L126.8,196.9Z" fill="#f79243" stroke="#f79243" stroke-width="0.7"/>
<path d="M148.4,188.5 L155.7,188.4 L155.9,196.2 L148.6,196.4Z" fill="#f99f40" stroke="#f99f40" stroke-width="0.7"/>
<path d="M155.7,188.4 L184.9,187.7 L185.1,195.5 L155.9,196.2Z" fill="#faa63e" stroke="#faa63e" stroke-width="0.7"/>
<path d="M184.9,187.7 L192.2,187.5 L192.4,195.3 L185.1,195.5Z" fill="#f99f40" stroke="#f99f40" stroke-width="0.7"/>
<path d="M192.2,187.5 L206.8,187.2 L207.0,195.0 L192.4,195.3Z" fill="#f89941" stroke="#f89941" stroke-width="0.7"/>
<path d="M206.8,187.2 L228.7,186.6 L228.9,194.5 L207.0,195.0Z" fill="#f79243" stroke="#f79243" stroke-width="0.7"/>
<path d="M228.7,186.6 L243.3,186.3 L243.5,194.1 L228.9,194.5Z" fill="#f68b45" stroke="#f68b45" stroke-width="0.7"/>
<path d="M243.3,186.3 L308.9,184.7 L309.1,192.6 L243.5,194.1Z" fill="#ee8150" stroke="#ee8150" stroke-width="0.7"/>
<path d="M308.9,184.7 L316.2,184.6 L316.4,192.4 L309.1,192.6Z" fill="#db6e66" stroke="#db6e66" stroke-width="0.7"/>
<path d="M316.2,184.6 L323.5,184.4 L323.7,192.2 L316.4,192.4Z" fill="#ba627c" stroke="#ba627c" stroke-width="0.7"/>
<path d="M323.5,184.4 L330.8,184.2 L331.0,192.0 L323.7,192.2Z" fill="#985789" stroke="#985789" stroke-width="0.7"/>
<path d="M330.8,184.2 L338.1,184.0 L338.3,191.9 L331.0,192.0Z" fill="#7e4d8f" stroke="#7e4d8f" stroke-width="0.7"/>
<path d="M338.1,184.0 L345.4,183.9 L345.6,191.7 L338.3,191.9Z" fill="#5d3e99" stroke="#5d3e99" stroke-width="0.7"/>
<path d="M345.4,183.9 L352.7,183.7 L352.9,191.5 L345.6,191.7Z" fill="#45379a" stroke="#45379a" stroke-width="0.7"/>
<path d="M104.9,197.4 L126.8,196.9 L127.0,204.7 L105.1,205.2Z" fill="#f2864b" stroke="#f2864b" stroke-width="0.7"/>
<path d="M126.8,196.9 L148.6,196.4 L148.8,204.2 L127.0,204.7Z" fill="#f68b45" stroke="#f68b45" stroke-width="0.7"/>
<path d="M148.6,196.4 L192.4,195.3 L192.6,203.2 L148.8,204.2Z" fill="#f99f40" stroke="#f99f40" stroke-width="0.7"/>
<path d="M192.4,195.3 L199.7,195.2 L199.9,203.0 L192.6,203.2Z" fill="#f89941" stroke="#f89941" stroke-width="0.7"/>
<path d="M199.7,195.2 L207.0,195.0 L207.2,202.8 L199.9,203.0Z" fill="#f79243" stroke="#f79243" stroke-width="0.7"/>
<path d="M207.0,195.0 L236.2,194.3 L236.4,202.1 L207.2,202.8Z" fill="#f68b45" stroke="#f68b45" stroke-width="0.7"/>
<path d="M236.2,194.3 L243.5,194.1 L243.6,201.9 L236.4,202.1Z" fill="#f2864b" stroke="#f2864b" stroke-width="0.7"/>
<path d="M243.5,194.1 L250.7,193.9 L250.9,201.8 L243.6,201.9Z" fill="#e97b56" stroke="#e97b56" stroke-width="0.7"/>
<path d="M250.7,193.9 L279.9,193.3 L280.1,201.1 L250.9,201.8Z" fill="#e5765b" stroke="#e5765b" stroke-width="0.7"/>
<path d="M279.9,193.3 L301.8,192.7 L302.0,200.6 L280.1,201.1Z" fill="#ee8150" stroke="#ee8150" stroke-width="0.7"/>
<path d="M301.8,192.7 L309.1,192.6 L309.3,200.4 L302.0,200.6Z" fill="#e5765b" stroke="#e5765b" stroke-width="0.7"/>
<path d="M309.1,192.6 L316.4,192.4 L316.6,200.2 L309.3,200.4Z" fill="#ce696f" stroke="#ce696f" stroke-width="0.7"/>
<path d="M316.4,192.4 L323.7,192.2 L323.9,200.0 L316.6,200.2Z" fill="#ac5d81" stroke="#ac5d81" stroke-width="0.7"/>
<path d="M323.7,192.2 L331.0,192.0 L331.2,199.9 L323.9,200.0Z" fill="#91548a" stroke="#91548a" stroke-width="0.7"/>
<path d="M331.0,192.0 L338.3,191.9 L338.5,199.7 L331.2,199.9Z" fill="#774a91" stroke="#774a91" stroke-width="0.7"/>
<path d="M338.3,191.9 L345.6,191.7 L345.7,199.5 L338.5,199.7Z" fill="#553c99" stroke="#553c99" stroke-width="0.7"/>
<path d="M345.6,191.7 L352.9,191.5 L353.0,199.4 L345.7,199.5Z" fill="#45379a" stroke="#45379a" stroke-width="0.7"/>
<path d="M105.1,205.2 L141.6,204.4 L141.8,212.2 L105.3,213.1Z" fill="#f2864b" stroke="#f2864b" stroke-width="0.7"/>
<path d="M141.6,204.4 L148.8,204.2 L149.1,212.0 L141.8,212.2Z" fill="#f68b45" stroke="#f68b45" stroke-width="0.7"/>
<path d="M148.8,204.2 L185.3,203.3 L185.5,211.2 L149.1,212.0Z" fill="#f99f40" stroke="#f99f40" stroke-width="0.7"/>
<path d="M185.3,203.3 L199.9,203.0 L200.1,210.8 L185.5,211.2Z" fill="#f79243" stroke="#f79243" stroke-width="0.7"/>
<path d="M199.9,203.0 L207.2,202.8 L207.4,210.6 L200.1,210.8Z" fill="#f68b45" stroke="#f68b45" stroke-width="0.7"/>
<path d="M207.2,202.8 L236.4,202.1 L236.5,210.0 L207.4,210.6Z" fill="#f2864b" stroke="#f2864b" stroke-width="0.7"/>
<path d="M236.4,202.1 L243.6,201.9 L243.8,209.8 L236.5,210.0Z" fill="#ee8150" stroke="#ee8150" stroke-width="0.7"/>
<path d="M243.6,201.9 L250.9,201.8 L251.1,209.6 L243.8,209.8Z" fill="#e17161" stroke="#e17161" stroke-width="0.7"/>
<path d="M250.9,201.8 L258.2,201.6 L258.4,209.4 L251.1,209.6Z" fill="#ce696f" stroke="#ce696f" stroke-width="0.7"/>
<path d="M258.2,201.6 L265.5,201.4 L265.7,209.3 L258.4,209.4Z" fill="#c16479" stroke="#c16479" stroke-width="0.7"/>
<path d="M265.5,201.4 L272.8,201.3 L273.0,209.1 L265.7,209.3Z" fill="#c76774" stroke="#c76774" stroke-width="0.7"/>
<path d="M272.8,201.3 L280.1,201.1 L280.3,208.9 L273.0,209.1Z" fill="#db6e66" stroke="#db6e66" stroke-width="0.7"/>
<path d="M280.1,201.1 L302.0,200.6 L302.2,208.4 L280.3,208.9Z" fill="#e97b56" stroke="#e97b56" stroke-width="0.7"/>
<path d="M302.0,200.6 L309.3,200.4 L309.4,208.2 L302.2,208.4Z" fill="#e17161" stroke="#e17161" stroke-width="0.7"/>
<path d="M309.3,200.4 L316.6,200.2 L316.7,208.1 L309.4,208.2Z" fill="#c16479" stroke="#c16479" stroke-width="0.7"/>
<path d="M316.6,200.2 L323.9,200.0 L324.0,207.9 L316.7,208.1Z" fill="#ac5d81" stroke="#ac5d81" stroke-width="0.7"/>
<path d="M323.9,200.0 L331.2,199.9 L331.3,207.7 L324.0,207.9Z" fill="#8b528c" stroke="#8b528c" stroke-width="0.7"/>
<path d="M331.2,199.9 L338.5,199.7 L338.6,207.5 L331.3,207.7Z" fill="#714793" stroke="#714793" stroke-width="0.7"/>
<path d="M338.5,199.7 L345.7,199.5 L345.9,207.4 L338.6,207.5Z" fill="#553c99" stroke="#553c99" stroke-width="0.7"/>
<path d="M105.3,213.1 L149.1,212.0 L149.3,219.9 L105.6,220.9Z" fill="#f2864b" stroke="#f2864b" stroke-width="0.7"/>
<path d="M149.1,212.0 L156.4,211.9 L156.6,219.7 L149.3,219.9Z" fill="#f79243" stroke="#f79243" stroke-width="0.7"/>
<path d="M156.4,211.9 L170.9,211.5 L171.1,219.3 L156.6,219.7Z" fill="#f89941" stroke="#f89941" stroke-width="0.7"/>
<path d="M170.9,211.5 L192.8,211.0 L193.0,218.8 L171.1,219.3Z" fill="#f79243" stroke="#f79243" stroke-width="0.7"/>
<path d="M192.8,211.0 L200.1,210.8 L200.3,218.6 L193.0,218.8Z" fill="#f68b45" stroke="#f68b45" stroke-width="0.7"/>
<path d="M200.1,210.8 L243.8,209.8 L244.0,217.6 L200.3,218.6Z" fill="#f2864b" stroke="#f2864b" stroke-width="0.7"/>
<path d="M243.8,209.8 L251.1,209.6 L251.3,217.4 L244.0,217.6Z" fill="#db6e66" stroke="#db6e66" stroke-width="0.7"/>
<path d="M251.1,209.6 L258.4,209.4 L258.6,217.3 L251.3,217.4Z" fill="#b3607f" stroke="#b3607f" stroke-width="0.7"/>
<path d="M258.4,209.4 L265.7,209.3 L265.9,217.1 L258.6,217.3Z" fill="#ac5d81" stroke="#ac5d81" stroke-width="0.7"/>
<path d="M265.7,209.3 L273.0,209.1 L273.2,216.9 L265.9,217.1Z" fill="#b3607f" stroke="#b3607f" stroke-width="0.7"/>
<path d="M273.0,209.1 L280.3,208.9 L280.5,216.7 L273.2,216.9Z" fill="#ce696f" stroke="#ce696f" stroke-width="0.7"/>
<path d="M280.3,208.9 L309.4,208.2 L309.6,216.1 L280.5,216.7Z" fill="#e5765b" stroke="#e5765b" stroke-width="0.7"/>
<path d="M309.4,208.2 L316.7,208.1 L316.9,215.9 L309.6,216.1Z" fill="#db6e66" stroke="#db6e66" stroke-width="0.7"/>
<path d="M316.7,208.1 L324.0,207.9 L324.2,215.7 L316.9,215.9Z" fill="#ba627c" stroke="#ba627c" stroke-width="0.7"/>
<path d="M324.0,207.9 L331.3,207.7 L331.5,215.5 L324.2,215.7Z" fill="#91548a" stroke="#91548a" stroke-width="0.7"/>
<path d="M331.3,207.7 L338.6,207.5 L338.8,215.4 L331.5,215.5Z" fill="#6a4495" stroke="#6a4495" stroke-width="0.7"/>
<path d="M338.6,207.5 L345.9,207.4 L346.1,215.2 L338.8,215.4Z" fill="#5d3e99" stroke="#5d3e99" stroke-width="0.7"/>
<path d="M105.6,220.9 L149.3,219.9 L149.5,227.7 L105.8,228.7Z" fill="#f2864b" stroke="#f2864b" stroke-width="0.7"/>
<path d="M149.3,219.9 L156.6,219.7 L156.8,227.5 L149.5,227.7Z" fill="#f68b45" stroke="#f68b45" stroke-width="0.7"/>
<path d="M156.6,219.7 L178.4,219.2 L178.6,227.0 L156.8,227.5Z" fill="#f79243" stroke="#f79243" stroke-width="0.7"/>
<path d="M178.4,219.2 L200.3,218.6 L200.5,226.5 L178.6,227.0Z" fill="#f68b45" stroke="#f68b45" stroke-width="0.7"/>
<path d="M200.3,218.6 L244.0,217.6 L244.2,225.4 L200.5,226.5Z" fill="#ee8150" stroke="#ee8150" stroke-width="0.7"/>
<path d="M244.0,217.6 L251.3,217.4 L251.5,225.3 L244.2,225.4Z" fill="#ce696f" stroke="#ce696f" stroke-width="0.7"/>
<path d="M251.3,217.4 L258.6,217.3 L258.8,225.1 L251.5,225.3Z" fill="#a55b84" stroke="#a55b84" stroke-width="0.7"/>
<path d="M258.6,217.3 L265.9,217.1 L266.1,224.9 L258.8,225.1Z" fill="#9e5987" stroke="#9e5987" stroke-width="0.7"/>
<path d="M265.9,217.1 L273.2,216.9 L273.4,224.8 L266.1,224.9Z" fill="#a55b84" stroke="#a55b84" stroke-width="0.7"/>
<path d="M273.2,216.9 L280.5,216.7 L280.6,224.6 L273.4,224.8Z" fill="#c16479" stroke="#c16479" stroke-width="0.7"/>
<path d="M280.5,216.7 L309.6,216.1 L309.8,223.9 L280.6,224.6Z" fill="#e17161" stroke="#e17161" stroke-width="0.7"/>
<path d="M309.6,216.1 L316.9,215.9 L317.1,223.7 L309.8,223.9Z" fill="#db6e66" stroke="#db6e66" stroke-width="0.7"/>
<path d="M316.9,215.9 L324.2,215.7 L324.4,223.5 L317.1,223.7Z" fill="#c16479" stroke="#c16479" stroke-width="0.7"/>
<path d="M324.2,215.7 L331.5,215.5 L331.6,223.4 L324.4,223.5Z" fill="#8b528c" stroke="#8b528c" stroke-width="0.7"/>
<path d="M331.5,215.5 L338.8,215.4 L338.9,223.2 L331.6,223.4Z" fill="#6a4495" stroke="#6a4495" stroke-width="0.7"/>
<path d="M338.8,215.4 L346.1,215.2 L346.2,223.0 L338.9,223.2Z" fill="#5d3e99" stroke="#5d3e99" stroke-width="0.7"/>
<path d="M105.8,228.7 L142.2,227.9 L142.4,235.7 L106.0,236.6Z" fill="#ee8150" stroke="#ee8150" stroke-width="0.7"/>
<path d="M142.2,227.9 L149.5,227.7 L149.7,235.5 L142.4,235.7Z" fill="#f2864b" stroke="#f2864b" stroke-width="0.7"/>
<path d="M149.5,227.7 L200.5,226.5 L200.7,234.3 L149.7,235.5Z" fill="#f68b45" stroke="#f68b45" stroke-width="0.7"/>
<path d="M200.5,226.5 L244.2,225.4 L244.4,233.3 L200.7,234.3Z" fill="#ee8150" stroke="#ee8150" stroke-width="0.7"/>
<path d="M244.2,225.4 L251.5,225.3 L251.7,233.1 L244.4,233.3Z" fill="#c16479" stroke="#c16479" stroke-width="0.7"/>
<path d="M251.5,225.3 L280.6,224.6 L280.8,232.4 L251.7,233.1Z" fill="#9e5987" stroke="#9e5987" stroke-width="0.7"/>
<path d="M280.6,224.6 L287.9,224.4 L288.1,232.2 L280.8,232.4Z" fill="#ac5d81" stroke="#ac5d81" stroke-width="0.7"/>
<path d="M287.9,224.4 L295.2,224.2 L295.4,232.1 L288.1,232.2Z" fill="#c16479" stroke="#c16479" stroke-width="0.7"/>
<path d="M295.2,224.2 L302.5,224.1 L302.7,231.9 L295.4,232.1Z" fill="#c76774" stroke="#c76774" stroke-width="0.7"/>
<path d="M302.5,224.1 L309.8,223.9 L310.0,231.7 L302.7,231.9Z" fill="#ce696f" stroke="#ce696f" stroke-width="0.7"/>
<path d="M309.8,223.9 L317.1,223.7 L317.2,231.5 L310.0,231.7Z" fill="#c76774" stroke="#c76774" stroke-width="0.7"/>
<path d="M317.1,223.7 L324.4,223.5 L324.5,231.4 L317.2,231.5Z" fill="#ac5d81" stroke="#ac5d81" stroke-width="0.7"/>
<path d="M324.4,223.5 L331.6,223.4 L331.8,231.2 L324.5,231.4Z" fill="#7e4d8f" stroke="#7e4d8f" stroke-width="0.7"/>
<path d="M331.6,223.4 L338.9,223.2 L339.1,231.0 L331.8,231.2Z" fill="#5d3e99" stroke="#5d3e99" stroke-width="0.7"/>
<path d="M106.0,236.6 L149.7,235.5 L149.9,243.3 L106.2,244.4Z" fill="#ee8150" stroke="#ee8150" stroke-width="0.7"/>
<path d="M149.7,235.5 L171.6,235.0 L171.8,242.8 L149.9,243.3Z" fill="#f2864b" stroke="#f2864b" stroke-width="0.7"/>
<path d="M171.6,235.0 L200.7,234.3 L200.9,242.1 L171.8,242.8Z" fill="#f68b45" stroke="#f68b45" stroke-width="0.7"/>
<path d="M200.7,234.3 L237.1,233.4 L237.3,241.3 L200.9,242.1Z" fill="#ee8150" stroke="#ee8150" stroke-width="0.7"/>
<path d="M237.1,233.4 L244.4,233.3 L244.6,241.1 L237.3,241.3Z" fill="#e17161" stroke="#e17161" stroke-width="0.7"/>
<path d="M244.4,233.3 L251.7,233.1 L251.9,240.9 L244.6,241.1Z" fill="#ba627c" stroke="#ba627c" stroke-width="0.7"/>
<path d="M251.7,233.1 L288.1,232.2 L288.3,240.1 L251.9,240.9Z" fill="#985789" stroke="#985789" stroke-width="0.7"/>
<path d="M288.1,232.2 L295.4,232.1 L295.6,239.9 L288.3,240.1Z" fill="#9e5987" stroke="#9e5987" stroke-width="0.7"/>
<path d="M295.4,232.1 L302.7,231.9 L302.8,239.7 L295.6,239.9Z" fill="#ac5d81" stroke="#ac5d81" stroke-width="0.7"/>
<path d="M302.7,231.9 L310.0,231.7 L310.1,239.6 L302.8,239.7Z" fill="#ba627c" stroke="#ba627c" stroke-width="0.7"/>
<path d="M310.0,231.7 L317.2,231.5 L317.4,239.4 L310.1,239.6Z" fill="#ac5d81" stroke="#ac5d81" stroke-width="0.7"/>
<path d="M317.2,231.5 L324.5,231.4 L324.7,239.2 L317.4,239.4Z" fill="#8b528c" stroke="#8b528c" stroke-width="0.7"/>
<path d="M324.5,231.4 L331.8,231.2 L332.0,239.0 L324.7,239.2Z" fill="#714793" stroke="#714793" stroke-width="0.7"/>
<path d="M106.2,244.4 L142.6,243.5 L142.9,251.4 L106.5,252.2Z" fill="#e97b56" stroke="#e97b56" stroke-width="0.7"/>
<path d="M142.6,243.5 L164.5,243.0 L164.7,250.8 L142.9,251.4Z" fill="#ee8150" stroke="#ee8150" stroke-width="0.7"/>
<path d="M164.5,243.0 L171.8,242.8 L172.0,250.7 L164.7,250.8Z" fill="#f2864b" stroke="#f2864b" stroke-width="0.7"/>
<path d="M171.8,242.8 L208.2,242.0 L208.4,249.8 L172.0,250.7Z" fill="#f68b45" stroke="#f68b45" stroke-width="0.7"/>
<path d="M208.2,242.0 L215.5,241.8 L215.7,249.6 L208.4,249.8Z" fill="#f2864b" stroke="#f2864b" stroke-width="0.7"/>
<path d="M215.5,241.8 L237.3,241.3 L237.5,249.1 L215.7,249.6Z" fill="#ee8150" stroke="#ee8150" stroke-width="0.7"/>
<path d="M237.3,241.3 L244.6,241.1 L244.8,248.9 L237.5,249.1Z" fill="#db6e66" stroke="#db6e66" stroke-width="0.7"/>
<path d="M244.6,241.1 L251.9,240.9 L252.1,248.8 L244.8,248.9Z" fill="#b3607f" stroke="#b3607f" stroke-width="0.7"/>
<path d="M251.9,240.9 L273.7,240.4 L273.9,248.2 L252.1,248.8Z" fill="#985789" stroke="#985789" stroke-width="0.7"/>
<path d="M273.7,240.4 L295.6,239.9 L295.7,247.7 L273.9,248.2Z" fill="#91548a" stroke="#91548a" stroke-width="0.7"/>
<path d="M295.6,239.9 L302.8,239.7 L303.0,247.6 L295.7,247.7Z" fill="#985789" stroke="#985789" stroke-width="0.7"/>
<path d="M302.8,239.7 L310.1,239.6 L310.3,247.4 L303.0,247.6Z" fill="#9e5987" stroke="#9e5987" stroke-width="0.7"/>
<path d="M310.1,239.6 L317.4,239.4 L317.6,247.2 L310.3,247.4Z" fill="#7e4d8f" stroke="#7e4d8f" stroke-width="0.7"/>
<path d="M317.4,239.4 L332.0,239.0 L332.1,246.9 L317.6,247.2Z" fill="#5d3e99" stroke="#5d3e99" stroke-width="0.7"/>
<path d="M106.5,252.2 L142.9,251.4 L143.1,259.2 L106.7,260.0Z" fill="#e5765b" stroke="#e5765b" stroke-width="0.7"/>
<path d="M142.9,251.4 L150.1,251.2 L150.4,259.0 L143.1,259.2Z" fill="#e97b56" stroke="#e97b56" stroke-width="0.7"/>
<path d="M150.1,251.2 L164.7,250.8 L164.9,258.7 L150.4,259.0Z" fill="#ee8150" stroke="#ee8150" stroke-width="0.7"/>
<path d="M164.7,250.8 L186.5,250.3 L186.7,258.1 L164.9,258.7Z" fill="#f2864b" stroke="#f2864b" stroke-width="0.7"/>
<path d="M186.5,250.3 L208.4,249.8 L208.6,257.6 L186.7,258.1Z" fill="#f68b45" stroke="#f68b45" stroke-width="0.7"/>
<path d="M208.4,249.8 L222.9,249.5 L223.1,257.3 L208.6,257.6Z" fill="#f2864b" stroke="#f2864b" stroke-width="0.7"/>
<path d="M222.9,249.5 L230.2,249.3 L230.4,257.1 L223.1,257.3Z" fill="#ee8150" stroke="#ee8150" stroke-width="0.7"/>
<path d="M230.2,249.3 L237.5,249.1 L237.7,256.9 L230.4,257.1Z" fill="#e5765b" stroke="#e5765b" stroke-width="0.7"/>
<path d="M237.5,249.1 L244.8,248.9 L245.0,256.8 L237.7,256.9Z" fill="#c76774" stroke="#c76774" stroke-width="0.7"/>
<path d="M244.8,248.9 L252.1,248.8 L252.2,256.6 L245.0,256.8Z" fill="#a55b84" stroke="#a55b84" stroke-width="0.7"/>
<path d="M252.1,248.8 L288.5,247.9 L288.6,255.7 L252.2,256.6Z" fill="#91548a" stroke="#91548a" stroke-width="0.7"/>
<path d="M288.5,247.9 L295.7,247.7 L295.9,255.6 L288.6,255.7Z" fill="#844f8d" stroke="#844f8d" stroke-width="0.7"/>
<path d="M295.7,247.7 L303.0,247.6 L303.2,255.4 L295.9,255.6Z" fill="#7e4d8f" stroke="#7e4d8f" stroke-width="0.7"/>
<path d="M303.0,247.6 L310.3,247.4 L310.5,255.2 L303.2,255.4Z" fill="#6a4495" stroke="#6a4495" stroke-width="0.7"/>
<path d="M310.3,247.4 L324.9,247.0 L325.0,254.9 L310.5,255.2Z" fill="#4d399a" stroke="#4d399a" stroke-width="0.7"/>
<path d="M106.7,260.0 L135.8,259.4 L136.0,267.2 L106.9,267.9Z" fill="#e17161" stroke="#e17161" stroke-width="0.7"/>
<path d="M135.8,259.4 L143.1,259.2 L143.3,267.0 L136.0,267.2Z" fill="#e5765b" stroke="#e5765b" stroke-width="0.7"/>
<path d="M143.1,259.2 L157.6,258.8 L157.9,266.7 L143.3,267.0Z" fill="#e97b56" stroke="#e97b56" stroke-width="0.7"/>
<path d="M157.6,258.8 L164.9,258.7 L165.1,266.5 L157.9,266.7Z" fill="#ee8150" stroke="#ee8150" stroke-width="0.7"/>
<path d="M164.9,258.7 L186.7,258.1 L186.9,266.0 L165.1,266.5Z" fill="#f2864b" stroke="#f2864b" stroke-width="0.7"/>
<path d="M186.7,258.1 L208.6,257.6 L208.8,265.5 L186.9,266.0Z" fill="#f68b45" stroke="#f68b45" stroke-width="0.7"/>
<path d="M208.6,257.6 L215.9,257.5 L216.0,265.3 L208.8,265.5Z" fill="#f2864b" stroke="#f2864b" stroke-width="0.7"/>
<path d="M215.9,257.5 L223.1,257.3 L223.3,265.1 L216.0,265.3Z" fill="#ee8150" stroke="#ee8150" stroke-width="0.7"/>
<path d="M223.1,257.3 L230.4,257.1 L230.6,264.9 L223.3,265.1Z" fill="#e5765b" stroke="#e5765b" stroke-width="0.7"/>
<path d="M230.4,257.1 L237.7,256.9 L237.9,264.8 L230.6,264.9Z" fill="#d46c6b" stroke="#d46c6b" stroke-width="0.7"/>
<path d="M237.7,256.9 L245.0,256.8 L245.2,264.6 L237.9,264.8Z" fill="#ba627c" stroke="#ba627c" stroke-width="0.7"/>
<path d="M245.0,256.8 L259.5,256.4 L259.7,264.3 L245.2,264.6Z" fill="#9e5987" stroke="#9e5987" stroke-width="0.7"/>
<path d="M259.5,256.4 L274.1,256.1 L274.3,263.9 L259.7,264.3Z" fill="#91548a" stroke="#91548a" stroke-width="0.7"/>
<path d="M274.1,256.1 L281.4,255.9 L281.5,263.7 L274.3,263.9Z" fill="#8b528c" stroke="#8b528c" stroke-width="0.7"/>
<path d="M281.4,255.9 L288.6,255.7 L288.8,263.6 L281.5,263.7Z" fill="#7e4d8f" stroke="#7e4d8f" stroke-width="0.7"/>
<path d="M288.6,255.7 L295.9,255.6 L296.1,263.4 L288.8,263.6Z" fill="#644197" stroke="#644197" stroke-width="0.7"/>
<path d="M295.9,255.6 L303.2,255.4 L303.4,263.2 L296.1,263.4Z" fill="#45379a" stroke="#45379a" stroke-width="0.7"/>
<path d="M303.2,255.4 L310.5,255.2 L310.6,263.0 L303.4,263.2Z" fill="#2d3290" stroke="#2d3290" stroke-width="0.7"/>
<path d="M310.5,255.2 L317.7,255.0 L317.9,262.9 L310.6,263.0Z" fill="#15306f" stroke="#15306f" stroke-width="0.7"/>
<path d="M106.9,267.9 L128.8,267.4 L129.0,275.2 L107.2,275.7Z" fill="#db6e66" stroke="#db6e66" stroke-width="0.7"/>
<path d="M128.8,267.4 L136.0,267.2 L136.2,275.0 L129.0,275.2Z" fill="#e17161" stroke="#e17161" stroke-width="0.7"/>
<path d="M136.0,267.2 L157.9,266.7 L158.1,274.5 L136.2,275.0Z" fill="#e5765b" stroke="#e5765b" stroke-width="0.7"/>
<path d="M157.9,266.7 L179.7,266.2 L179.9,274.0 L158.1,274.5Z" fill="#ee8150" stroke="#ee8150" stroke-width="0.7"/>
<path d="M179.7,266.2 L208.8,265.5 L209.0,273.3 L179.9,274.0Z" fill="#f2864b" stroke="#f2864b" stroke-width="0.7"/>
<path d="M208.8,265.5 L223.3,265.1 L223.5,272.9 L209.0,273.3Z" fill="#ee8150" stroke="#ee8150" stroke-width="0.7"/>
<path d="M223.3,265.1 L230.6,264.9 L230.8,272.8 L223.5,272.9Z" fill="#e5765b" stroke="#e5765b" stroke-width="0.7"/>
<path d="M230.6,264.9 L237.9,264.8 L238.1,272.6 L230.8,272.8Z" fill="#db6e66" stroke="#db6e66" stroke-width="0.7"/>
<path d="M237.9,264.8 L245.2,264.6 L245.3,272.4 L238.1,272.6Z" fill="#c16479" stroke="#c16479" stroke-width="0.7"/>
<path d="M245.2,264.6 L252.4,264.4 L252.6,272.3 L245.3,272.4Z" fill="#b3607f" stroke="#b3607f" stroke-width="0.7"/>
<path d="M252.4,264.4 L259.7,264.3 L259.9,272.1 L252.6,272.3Z" fill="#a55b84" stroke="#a55b84" stroke-width="0.7"/>
<path d="M259.7,264.3 L281.5,263.7 L281.7,271.6 L259.9,272.1Z" fill="#985789" stroke="#985789" stroke-width="0.7"/>
<path d="M281.5,263.7 L288.8,263.6 L289.0,271.4 L281.7,271.6Z" fill="#844f8d" stroke="#844f8d" stroke-width="0.7"/>
<path d="M288.8,263.6 L296.1,263.4 L296.3,271.2 L289.0,271.4Z" fill="#6a4495" stroke="#6a4495" stroke-width="0.7"/>
<path d="M296.1,263.4 L303.4,263.2 L303.5,271.1 L296.3,271.2Z" fill="#4d399a" stroke="#4d399a" stroke-width="0.7"/>
<path d="M303.4,263.2 L310.6,263.0 L310.8,270.9 L303.5,271.1Z" fill="#35329b" stroke="#35329b" stroke-width="0.7"/>
<path d="M310.6,263.0 L317.9,262.9 L318.1,270.7 L310.8,270.9Z" fill="#253185" stroke="#253185" stroke-width="0.7"/>
<path d="M107.2,275.7 L136.2,275.0 L136.5,282.8 L107.4,283.5Z" fill="#db6e66" stroke="#db6e66" stroke-width="0.7"/>
<path d="M136.2,275.0 L150.8,274.7 L151.0,282.5 L136.5,282.8Z" fill="#e17161" stroke="#e17161" stroke-width="0.7"/>
<path d="M150.8,274.7 L172.6,274.2 L172.8,282.0 L151.0,282.5Z" fill="#e97b56" stroke="#e97b56" stroke-width="0.7"/>
<path d="M172.6,274.2 L201.7,273.5 L201.9,281.3 L172.8,282.0Z" fill="#f2864b" stroke="#f2864b" stroke-width="0.7"/>
<path d="M201.7,273.5 L209.0,273.3 L209.2,281.1 L201.9,281.3Z" fill="#ee8150" stroke="#ee8150" stroke-width="0.7"/>
<path d="M209.0,273.3 L223.5,272.9 L223.7,280.8 L209.2,281.1Z" fill="#e97b56" stroke="#e97b56" stroke-width="0.7"/>
<path d="M223.5,272.9 L230.8,272.8 L231.0,280.6 L223.7,280.8Z" fill="#e5765b" stroke="#e5765b" stroke-width="0.7"/>
<path d="M230.8,272.8 L238.1,272.6 L238.3,280.4 L231.0,280.6Z" fill="#db6e66" stroke="#db6e66" stroke-width="0.7"/>
<path d="M238.1,272.6 L245.3,272.4 L245.5,280.3 L238.3,280.4Z" fill="#c76774" stroke="#c76774" stroke-width="0.7"/>
<path d="M245.3,272.4 L252.6,272.3 L252.8,280.1 L245.5,280.3Z" fill="#c16479" stroke="#c16479" stroke-width="0.7"/>
<path d="M252.6,272.3 L259.9,272.1 L260.1,279.9 L252.8,280.1Z" fill="#ba627c" stroke="#ba627c" stroke-width="0.7"/>
<path d="M259.9,272.1 L267.2,271.9 L267.3,279.7 L260.1,279.9Z" fill="#ac5d81" stroke="#ac5d81" stroke-width="0.7"/>
<path d="M267.2,271.9 L281.7,271.6 L281.9,279.4 L267.3,279.7Z" fill="#a55b84" stroke="#a55b84" stroke-width="0.7"/>
<path d="M281.7,271.6 L289.0,271.4 L289.2,279.2 L281.9,279.4Z" fill="#985789" stroke="#985789" stroke-width="0.7"/>
<path d="M289.0,271.4 L296.3,271.2 L296.4,279.1 L289.2,279.2Z" fill="#714793" stroke="#714793" stroke-width="0.7"/>
<path d="M296.3,271.2 L303.5,271.1 L303.7,278.9 L296.4,279.1Z" fill="#4d399a" stroke="#4d399a" stroke-width="0.7"/>
<path d="M303.5,271.1 L310.8,270.9 L311.0,278.7 L303.7,278.9Z" fill="#3d349b" stroke="#3d349b" stroke-width="0.7"/>
<path d="M310.8,270.9 L318.1,270.7 L318.2,278.5 L311.0,278.7Z" fill="#45379a" stroke="#45379a" stroke-width="0.7"/>
<path d="M107.4,283.5 L136.5,282.8 L136.7,290.7 L107.6,291.4Z" fill="#d46c6b" stroke="#d46c6b" stroke-width="0.7"/>
<path d="M136.5,282.8 L143.7,282.7 L144.0,290.5 L136.7,290.7Z" fill="#db6e66" stroke="#db6e66" stroke-width="0.7"/>
<path d="M143.7,282.7 L151.0,282.5 L151.2,290.3 L144.0,290.5Z" fill="#e17161" stroke="#e17161" stroke-width="0.7"/>
<path d="M151.0,282.5 L158.3,282.3 L158.5,290.2 L151.2,290.3Z" fill="#e5765b" stroke="#e5765b" stroke-width="0.7"/>
<path d="M158.3,282.3 L172.8,282.0 L173.0,289.8 L158.5,290.2Z" fill="#e97b56" stroke="#e97b56" stroke-width="0.7"/>
<path d="M172.8,282.0 L201.9,281.3 L202.1,289.1 L173.0,289.8Z" fill="#ee8150" stroke="#ee8150" stroke-width="0.7"/>
<path d="M201.9,281.3 L209.2,281.1 L209.4,289.0 L202.1,289.1Z" fill="#e97b56" stroke="#e97b56" stroke-width="0.7"/>
<path d="M209.2,281.1 L216.4,281.0 L216.6,288.8 L209.4,289.0Z" fill="#e17161" stroke="#e17161" stroke-width="0.7"/>
<path d="M216.4,281.0 L231.0,280.6 L231.2,288.4 L216.6,288.8Z" fill="#db6e66" stroke="#db6e66" stroke-width="0.7"/>
<path d="M231.0,280.6 L238.3,280.4 L238.4,288.3 L231.2,288.4Z" fill="#ce696f" stroke="#ce696f" stroke-width="0.7"/>
<path d="M238.3,280.4 L245.5,280.3 L245.7,288.1 L238.4,288.3Z" fill="#c76774" stroke="#c76774" stroke-width="0.7"/>
<path d="M245.5,280.3 L252.8,280.1 L253.0,287.9 L245.7,288.1Z" fill="#c16479" stroke="#c16479" stroke-width="0.7"/>
<path d="M252.8,280.1 L260.1,279.9 L260.3,287.8 L253.0,287.9Z" fill="#ba627c" stroke="#ba627c" stroke-width="0.7"/>
<path d="M260.1,279.9 L274.6,279.6 L274.8,287.4 L260.3,287.8Z" fill="#b3607f" stroke="#b3607f" stroke-width="0.7"/>
<path d="M274.6,279.6 L281.9,279.4 L282.1,287.2 L274.8,287.4Z" fill="#ac5d81" stroke="#ac5d81" stroke-width="0.7"/>
<path d="M281.9,279.4 L289.2,279.2 L289.3,287.1 L282.1,287.2Z" fill="#a55b84" stroke="#a55b84" stroke-width="0.7"/>
<path d="M289.2,279.2 L296.4,279.1 L296.6,286.9 L289.3,287.1Z" fill="#774a91" stroke="#774a91" stroke-width="0.7"/>
<path d="M296.4,279.1 L303.7,278.9 L303.9,286.7 L296.6,286.9Z" fill="#553c99" stroke="#553c99" stroke-width="0.7"/>
<path d="M303.7,278.9 L311.0,278.7 L311.1,286.5 L303.9,286.7Z" fill="#4d399a" stroke="#4d399a" stroke-width="0.7"/>
<path d="M311.0,278.7 L318.2,278.5 L318.4,286.4 L311.1,286.5Z" fill="#553c99" stroke="#553c99" stroke-width="0.7"/>
<path d="M318.2,278.5 L325.5,278.4 L325.7,286.2 L318.4,286.4Z" fill="#5d3e99" stroke="#5d3e99" stroke-width="0.7"/>
<path d="M107.6,291.4 L136.7,290.7 L136.9,298.5 L107.8,299.2Z" fill="#d46c6b" stroke="#d46c6b" stroke-width="0.7"/>
<path d="M136.7,290.7 L144.0,290.5 L144.2,298.3 L136.9,298.5Z" fill="#db6e66" stroke="#db6e66" stroke-width="0.7"/>
<path d="M144.0,290.5 L151.2,290.3 L151.4,298.2 L144.2,298.3Z" fill="#e17161" stroke="#e17161" stroke-width="0.7"/>
<path d="M151.2,290.3 L158.5,290.2 L158.7,298.0 L151.4,298.2Z" fill="#e5765b" stroke="#e5765b" stroke-width="0.7"/>
<path d="M158.5,290.2 L173.0,289.8 L173.2,297.6 L158.7,298.0Z" fill="#e97b56" stroke="#e97b56" stroke-width="0.7"/>
<path d="M173.0,289.8 L194.8,289.3 L195.0,297.1 L173.2,297.6Z" fill="#ee8150" stroke="#ee8150" stroke-width="0.7"/>
<path d="M194.8,289.3 L202.1,289.1 L202.3,297.0 L195.0,297.1Z" fill="#e17161" stroke="#e17161" stroke-width="0.7"/>
<path d="M202.1,289.1 L209.4,289.0 L209.6,296.8 L202.3,297.0Z" fill="#c16479" stroke="#c16479" stroke-width="0.7"/>
<path d="M209.4,289.0 L253.0,287.9 L253.2,295.8 L209.6,296.8Z" fill="#ba627c" stroke="#ba627c" stroke-width="0.7"/>
<path d="M253.0,287.9 L282.1,287.2 L282.2,295.1 L253.2,295.8Z" fill="#b3607f" stroke="#b3607f" stroke-width="0.7"/>
<path d="M282.1,287.2 L289.3,287.1 L289.5,294.9 L282.2,295.1Z" fill="#a55b84" stroke="#a55b84" stroke-width="0.7"/>
<path d="M289.3,287.1 L296.6,286.9 L296.8,294.7 L289.5,294.9Z" fill="#7e4d8f" stroke="#7e4d8f" stroke-width="0.7"/>
<path d="M296.6,286.9 L303.9,286.7 L304.0,294.5 L296.8,294.7Z" fill="#5d3e99" stroke="#5d3e99" stroke-width="0.7"/>
<path d="M303.9,286.7 L311.1,286.5 L311.3,294.4 L304.0,294.5Z" fill="#4d399a" stroke="#4d399a" stroke-width="0.7"/>
<path d="M311.1,286.5 L318.4,286.4 L318.6,294.2 L311.3,294.4Z" fill="#553c99" stroke="#553c99" stroke-width="0.7"/>
<path d="M107.8,299.2 L129.6,298.7 L129.9,306.5 L108.1,307.0Z" fill="#ce696f" stroke="#ce696f" stroke-width="0.7"/>
<path d="M129.6,298.7 L136.9,298.5 L137.1,306.3 L129.9,306.5Z" fill="#d46c6b" stroke="#d46c6b" stroke-width="0.7"/>
<path d="M136.9,298.5 L151.4,298.2 L151.7,306.0 L137.1,306.3Z" fill="#e17161" stroke="#e17161" stroke-width="0.7"/>
<path d="M151.4,298.2 L173.2,297.6 L173.4,305.5 L151.7,306.0Z" fill="#e97b56" stroke="#e97b56" stroke-width="0.7"/>
<path d="M173.2,297.6 L180.5,297.5 L180.7,305.3 L173.4,305.5Z" fill="#e17161" stroke="#e17161" stroke-width="0.7"/>
<path d="M180.5,297.5 L187.8,297.3 L188.0,305.1 L180.7,305.3Z" fill="#c76774" stroke="#c76774" stroke-width="0.7"/>
<path d="M187.8,297.3 L195.0,297.1 L195.2,305.0 L188.0,305.1Z" fill="#a55b84" stroke="#a55b84" stroke-width="0.7"/>
<path d="M195.0,297.1 L202.3,297.0 L202.5,304.8 L195.2,305.0Z" fill="#985789" stroke="#985789" stroke-width="0.7"/>
<path d="M202.3,297.0 L224.1,296.4 L224.3,304.3 L202.5,304.8Z" fill="#91548a" stroke="#91548a" stroke-width="0.7"/>
<path d="M224.1,296.4 L231.4,296.3 L231.6,304.1 L224.3,304.3Z" fill="#8b528c" stroke="#8b528c" stroke-width="0.7"/>
<path d="M231.4,296.3 L238.6,296.1 L238.8,303.9 L231.6,304.1Z" fill="#7e4d8f" stroke="#7e4d8f" stroke-width="0.7"/>
<path d="M238.6,296.1 L245.9,295.9 L246.1,303.8 L238.8,303.9Z" fill="#774a91" stroke="#774a91" stroke-width="0.7"/>
<path d="M245.9,295.9 L253.2,295.8 L253.4,303.6 L246.1,303.8Z" fill="#7e4d8f" stroke="#7e4d8f" stroke-width="0.7"/>
<path d="M253.2,295.8 L260.4,295.6 L260.6,303.4 L253.4,303.6Z" fill="#844f8d" stroke="#844f8d" stroke-width="0.7"/>
<path d="M260.4,295.6 L267.7,295.4 L267.9,303.2 L260.6,303.4Z" fill="#985789" stroke="#985789" stroke-width="0.7"/>
<path d="M267.7,295.4 L275.0,295.2 L275.2,303.1 L267.9,303.2Z" fill="#a55b84" stroke="#a55b84" stroke-width="0.7"/>
<path d="M275.0,295.2 L282.2,295.1 L282.4,302.9 L275.2,303.1Z" fill="#ac5d81" stroke="#ac5d81" stroke-width="0.7"/>
<path d="M282.2,295.1 L289.5,294.9 L289.7,302.7 L282.4,302.9Z" fill="#a55b84" stroke="#a55b84" stroke-width="0.7"/>
<path d="M289.5,294.9 L296.8,294.7 L297.0,302.6 L289.7,302.7Z" fill="#844f8d" stroke="#844f8d" stroke-width="0.7"/>
<path d="M296.8,294.7 L304.0,294.5 L304.2,302.4 L297.0,302.6Z" fill="#644197" stroke="#644197" stroke-width="0.7"/>
<path d="M304.0,294.5 L318.6,294.2 L318.7,302.0 L304.2,302.4Z" fill="#45379a" stroke="#45379a" stroke-width="0.7"/>
<path d="M318.6,294.2 L325.8,294.0 L326.0,301.9 L318.7,302.0Z" fill="#553c99" stroke="#553c99" stroke-width="0.7"/>
<path d="M325.8,294.0 L333.1,293.9 L333.3,301.7 L326.0,301.9Z" fill="#714793" stroke="#714793" stroke-width="0.7"/>
<path d="M108.1,307.0 L137.1,306.3 L137.3,314.2 L108.3,314.9Z" fill="#ce696f" stroke="#ce696f" stroke-width="0.7"/>
<path d="M137.1,306.3 L158.9,305.8 L159.1,313.7 L137.3,314.2Z" fill="#e17161" stroke="#e17161" stroke-width="0.7"/>
<path d="M158.9,305.8 L166.2,305.7 L166.4,313.5 L159.1,313.7Z" fill="#e97b56" stroke="#e97b56" stroke-width="0.7"/>
<path d="M166.2,305.7 L173.4,305.5 L173.7,313.3 L166.4,313.5Z" fill="#db6e66" stroke="#db6e66" stroke-width="0.7"/>
<path d="M173.4,305.5 L180.7,305.3 L180.9,313.1 L173.7,313.3Z" fill="#ac5d81" stroke="#ac5d81" stroke-width="0.7"/>
<path d="M180.7,305.3 L188.0,305.1 L188.2,313.0 L180.9,313.1Z" fill="#9e5987" stroke="#9e5987" stroke-width="0.7"/>
<path d="M188.0,305.1 L209.8,304.6 L210.0,312.5 L188.2,313.0Z" fill="#91548a" stroke="#91548a" stroke-width="0.7"/>
<path d="M209.8,304.6 L217.0,304.4 L217.2,312.3 L210.0,312.5Z" fill="#844f8d" stroke="#844f8d" stroke-width="0.7"/>
<path d="M217.0,304.4 L224.3,304.3 L224.5,312.1 L217.2,312.3Z" fill="#714793" stroke="#714793" stroke-width="0.7"/>
<path d="M224.3,304.3 L231.6,304.1 L231.8,311.9 L224.5,312.1Z" fill="#6a4495" stroke="#6a4495" stroke-width="0.7"/>
<path d="M231.6,304.1 L267.9,303.2 L268.1,311.1 L231.8,311.9Z" fill="#644197" stroke="#644197" stroke-width="0.7"/>
<path d="M267.9,303.2 L275.2,303.1 L275.3,310.9 L268.1,311.1Z" fill="#6a4495" stroke="#6a4495" stroke-width="0.7"/>
<path d="M275.2,303.1 L282.4,302.9 L282.6,310.7 L275.3,310.9Z" fill="#774a91" stroke="#774a91" stroke-width="0.7"/>
<path d="M282.4,302.9 L289.7,302.7 L289.9,310.6 L282.6,310.7Z" fill="#7e4d8f" stroke="#7e4d8f" stroke-width="0.7"/>
<path d="M289.7,302.7 L297.0,302.6 L297.1,310.4 L289.9,310.6Z" fill="#774a91" stroke="#774a91" stroke-width="0.7"/>
<path d="M297.0,302.6 L304.2,302.4 L304.4,310.2 L297.1,310.4Z" fill="#5d3e99" stroke="#5d3e99" stroke-width="0.7"/>
<path d="M304.2,302.4 L311.5,302.2 L311.7,310.0 L304.4,310.2Z" fill="#3d349b" stroke="#3d349b" stroke-width="0.7"/>
<path d="M311.5,302.2 L318.7,302.0 L318.9,309.9 L311.7,310.0Z" fill="#2d3290" stroke="#2d3290" stroke-width="0.7"/>
<path d="M318.7,302.0 L326.0,301.9 L326.2,309.7 L318.9,309.9Z" fill="#45379a" stroke="#45379a" stroke-width="0.7"/>
<path d="M326.0,301.9 L333.3,301.7 L333.4,309.5 L326.2,309.7Z" fill="#7e4d8f" stroke="#7e4d8f" stroke-width="0.7"/>
<path d="M333.3,301.7 L340.5,301.5 L340.7,309.4 L333.4,309.5Z" fill="#8b528c" stroke="#8b528c" stroke-width="0.7"/>
<path d="M108.3,314.9 L137.3,314.2 L137.6,322.0 L108.5,322.7Z" fill="#ce696f" stroke="#ce696f" stroke-width="0.7"/>
<path d="M137.3,314.2 L144.6,314.0 L144.8,321.8 L137.6,322.0Z" fill="#e17161" stroke="#e17161" stroke-width="0.7"/>
<path d="M144.6,314.0 L159.1,313.7 L159.3,321.5 L144.8,321.8Z" fill="#e5765b" stroke="#e5765b" stroke-width="0.7"/>
<path d="M159.1,313.7 L166.4,313.5 L166.6,321.3 L159.3,321.5Z" fill="#ce696f" stroke="#ce696f" stroke-width="0.7"/>
<path d="M166.4,313.5 L173.7,313.3 L173.9,321.1 L166.6,321.3Z" fill="#a55b84" stroke="#a55b84" stroke-width="0.7"/>
<path d="M173.7,313.3 L180.9,313.1 L181.1,321.0 L173.9,321.1Z" fill="#985789" stroke="#985789" stroke-width="0.7"/>
<path d="M180.9,313.1 L195.4,312.8 L195.6,320.6 L181.1,321.0Z" fill="#91548a" stroke="#91548a" stroke-width="0.7"/>
<path d="M195.4,312.8 L202.7,312.6 L202.9,320.5 L195.6,320.6Z" fill="#8b528c" stroke="#8b528c" stroke-width="0.7"/>
<path d="M202.7,312.6 L210.0,312.5 L210.2,320.3 L202.9,320.5Z" fill="#7e4d8f" stroke="#7e4d8f" stroke-width="0.7"/>
<path d="M210.0,312.5 L217.2,312.3 L217.4,320.1 L210.2,320.3Z" fill="#714793" stroke="#714793" stroke-width="0.7"/>
<path d="M217.2,312.3 L231.8,311.9 L231.9,319.8 L217.4,320.1Z" fill="#644197" stroke="#644197" stroke-width="0.7"/>
<path d="M231.8,311.9 L275.3,310.9 L275.5,318.7 L231.9,319.8Z" fill="#5d3e99" stroke="#5d3e99" stroke-width="0.7"/>
<path d="M275.3,310.9 L289.9,310.6 L290.0,318.4 L275.5,318.7Z" fill="#644197" stroke="#644197" stroke-width="0.7"/>
<path d="M289.9,310.6 L297.1,310.4 L297.3,318.2 L290.0,318.4Z" fill="#6a4495" stroke="#6a4495" stroke-width="0.7"/>
<path d="M297.1,310.4 L304.4,310.2 L304.6,318.0 L297.3,318.2Z" fill="#5d3e99" stroke="#5d3e99" stroke-width="0.7"/>
<path d="M304.4,310.2 L311.7,310.0 L311.8,317.9 L304.6,318.0Z" fill="#253185" stroke="#253185" stroke-width="0.7"/>
<path d="M311.7,310.0 L318.9,309.9 L319.1,317.7 L311.8,317.9Z" fill="#0d3064" stroke="#0d3064" stroke-width="0.7"/>
<path d="M318.9,309.9 L326.2,309.7 L326.3,317.5 L319.1,317.7Z" fill="#1d317a" stroke="#1d317a" stroke-width="0.7"/>
<path d="M326.2,309.7 L333.4,309.5 L333.6,317.4 L326.3,317.5Z" fill="#774a91" stroke="#774a91" stroke-width="0.7"/>
<path d="M333.4,309.5 L340.7,309.4 L340.9,317.2 L333.6,317.4Z" fill="#985789" stroke="#985789" stroke-width="0.7"/>
<path d="M108.5,322.7 L130.3,322.2 L130.5,330.0 L108.8,330.5Z" fill="#ce696f" stroke="#ce696f" stroke-width="0.7"/>
<path d="M130.3,322.2 L137.6,322.0 L137.8,329.8 L130.5,330.0Z" fill="#d46c6b" stroke="#d46c6b" stroke-width="0.7"/>
<path d="M137.6,322.0 L152.1,321.7 L152.3,329.5 L137.8,329.8Z" fill="#e5765b" stroke="#e5765b" stroke-width="0.7"/>
<path d="M152.1,321.7 L159.3,321.5 L159.6,329.3 L152.3,329.5Z" fill="#db6e66" stroke="#db6e66" stroke-width="0.7"/>
<path d="M159.3,321.5 L166.6,321.3 L166.8,329.1 L159.6,329.3Z" fill="#9e5987" stroke="#9e5987" stroke-width="0.7"/>
<path d="M166.6,321.3 L173.9,321.1 L174.1,329.0 L166.8,329.1Z" fill="#985789" stroke="#985789" stroke-width="0.7"/>
<path d="M173.9,321.1 L195.6,320.6 L195.9,328.5 L174.1,329.0Z" fill="#91548a" stroke="#91548a" stroke-width="0.7"/>
<path d="M195.6,320.6 L202.9,320.5 L203.1,328.3 L195.9,328.5Z" fill="#844f8d" stroke="#844f8d" stroke-width="0.7"/>
<path d="M202.9,320.5 L210.2,320.3 L210.4,328.1 L203.1,328.3Z" fill="#774a91" stroke="#774a91" stroke-width="0.7"/>
<path d="M210.2,320.3 L217.4,320.1 L217.6,327.9 L210.4,328.1Z" fill="#6a4495" stroke="#6a4495" stroke-width="0.7"/>
<path d="M217.4,320.1 L224.7,319.9 L224.9,327.8 L217.6,327.9Z" fill="#644197" stroke="#644197" stroke-width="0.7"/>
<path d="M224.7,319.9 L290.0,318.4 L290.2,326.2 L224.9,327.8Z" fill="#5d3e99" stroke="#5d3e99" stroke-width="0.7"/>
<path d="M290.0,318.4 L297.3,318.2 L297.5,326.0 L290.2,326.2Z" fill="#644197" stroke="#644197" stroke-width="0.7"/>
<path d="M297.3,318.2 L304.6,318.0 L304.7,325.9 L297.5,326.0Z" fill="#553c99" stroke="#553c99" stroke-width="0.7"/>
<path d="M304.6,318.0 L311.8,317.9 L312.0,325.7 L304.7,325.9Z" fill="#1d317a" stroke="#1d317a" stroke-width="0.7"/>
<path d="M311.8,317.9 L326.3,317.5 L326.5,325.4 L312.0,325.7Z" fill="#0b2d5a" stroke="#0b2d5a" stroke-width="0.7"/>
<path d="M326.3,317.5 L333.6,317.4 L333.8,325.2 L326.5,325.4Z" fill="#2d3290" stroke="#2d3290" stroke-width="0.7"/>
<path d="M333.6,317.4 L340.9,317.2 L341.0,325.0 L333.8,325.2Z" fill="#5d3e99" stroke="#5d3e99" stroke-width="0.7"/>
<path d="M108.8,330.5 L130.5,330.0 L130.8,337.8 L109.0,338.4Z" fill="#ce696f" stroke="#ce696f" stroke-width="0.7"/>
<path d="M130.5,330.0 L137.8,329.8 L138.0,337.7 L130.8,337.8Z" fill="#db6e66" stroke="#db6e66" stroke-width="0.7"/>
<path d="M137.8,329.8 L152.3,329.5 L152.5,337.3 L138.0,337.7Z" fill="#e5765b" stroke="#e5765b" stroke-width="0.7"/>
<path d="M152.3,329.5 L159.6,329.3 L159.8,337.1 L152.5,337.3Z" fill="#c16479" stroke="#c16479" stroke-width="0.7"/>
<path d="M159.6,329.3 L166.8,329.1 L167.0,337.0 L159.8,337.1Z" fill="#985789" stroke="#985789" stroke-width="0.7"/>
<path d="M166.8,329.1 L195.9,328.5 L196.1,336.3 L167.0,337.0Z" fill="#91548a" stroke="#91548a" stroke-width="0.7"/>
<path d="M195.9,328.5 L203.1,328.3 L203.3,336.1 L196.1,336.3Z" fill="#844f8d" stroke="#844f8d" stroke-width="0.7"/>
<path d="M203.1,328.3 L210.4,328.1 L210.6,335.9 L203.3,336.1Z" fill="#714793" stroke="#714793" stroke-width="0.7"/>
<path d="M210.4,328.1 L224.9,327.8 L225.1,335.6 L210.6,335.9Z" fill="#5d3e99" stroke="#5d3e99" stroke-width="0.7"/>
<path d="M224.9,327.8 L239.4,327.4 L239.6,335.3 L225.1,335.6Z" fill="#553c99" stroke="#553c99" stroke-width="0.7"/>
<path d="M239.4,327.4 L290.2,326.2 L290.4,334.1 L239.6,335.3Z" fill="#5d3e99" stroke="#5d3e99" stroke-width="0.7"/>
<path d="M290.2,326.2 L297.5,326.0 L297.6,333.9 L290.4,334.1Z" fill="#553c99" stroke="#553c99" stroke-width="0.7"/>
<path d="M297.5,326.0 L304.7,325.9 L304.9,333.7 L297.6,333.9Z" fill="#45379a" stroke="#45379a" stroke-width="0.7"/>
<path d="M304.7,325.9 L312.0,325.7 L312.2,333.5 L304.9,333.7Z" fill="#15306f" stroke="#15306f" stroke-width="0.7"/>
<path d="M312.0,325.7 L326.5,325.4 L326.7,333.2 L312.2,333.5Z" fill="#092b50" stroke="#092b50" stroke-width="0.7"/>
<path d="M326.5,325.4 L333.8,325.2 L333.9,333.0 L326.7,333.2Z" fill="#15306f" stroke="#15306f" stroke-width="0.7"/>
<path d="M333.8,325.2 L341.0,325.0 L341.2,332.8 L333.9,333.0Z" fill="#45379a" stroke="#45379a" stroke-width="0.7"/>
<path d="M341.0,325.0 L348.3,324.8 L348.4,332.7 L341.2,332.8Z" fill="#6a4495" stroke="#6a4495" stroke-width="0.7"/>
<path d="M109.0,338.4 L130.8,337.8 L131.0,345.7 L109.2,346.2Z" fill="#ce696f" stroke="#ce696f" stroke-width="0.7"/>
<path d="M130.8,337.8 L152.5,337.3 L152.7,345.2 L131.0,345.7Z" fill="#e5765b" stroke="#e5765b" stroke-width="0.7"/>
<path d="M152.5,337.3 L159.8,337.1 L160.0,345.0 L152.7,345.2Z" fill="#b3607f" stroke="#b3607f" stroke-width="0.7"/>
<path d="M159.8,337.1 L167.0,337.0 L167.2,344.8 L160.0,345.0Z" fill="#985789" stroke="#985789" stroke-width="0.7"/>
<path d="M167.0,337.0 L196.1,336.3 L196.3,344.1 L167.2,344.8Z" fill="#91548a" stroke="#91548a" stroke-width="0.7"/>
<path d="M196.1,336.3 L203.3,336.1 L203.5,343.9 L196.3,344.1Z" fill="#844f8d" stroke="#844f8d" stroke-width="0.7"/>
<path d="M203.3,336.1 L210.6,335.9 L210.8,343.8 L203.5,343.9Z" fill="#774a91" stroke="#774a91" stroke-width="0.7"/>
<path d="M210.6,335.9 L217.8,335.8 L218.0,343.6 L210.8,343.8Z" fill="#644197" stroke="#644197" stroke-width="0.7"/>
<path d="M217.8,335.8 L232.3,335.4 L232.5,343.3 L218.0,343.6Z" fill="#553c99" stroke="#553c99" stroke-width="0.7"/>
<path d="M232.3,335.4 L239.6,335.3 L239.8,343.1 L232.5,343.3Z" fill="#4d399a" stroke="#4d399a" stroke-width="0.7"/>
<path d="M239.6,335.3 L283.1,334.2 L283.3,342.1 L239.8,343.1Z" fill="#553c99" stroke="#553c99" stroke-width="0.7"/>
<path d="M283.1,334.2 L290.4,334.1 L290.6,341.9 L283.3,342.1Z" fill="#4d399a" stroke="#4d399a" stroke-width="0.7"/>
<path d="M290.4,334.1 L297.6,333.9 L297.8,341.7 L290.6,341.9Z" fill="#45379a" stroke="#45379a" stroke-width="0.7"/>
<path d="M297.6,333.9 L304.9,333.7 L305.1,341.5 L297.8,341.7Z" fill="#253185" stroke="#253185" stroke-width="0.7"/>
<path d="M304.9,333.7 L312.2,333.5 L312.3,341.4 L305.1,341.5Z" fill="#092b50" stroke="#092b50" stroke-width="0.7"/>
<path d="M312.2,333.5 L319.4,333.4 L319.6,341.2 L312.3,341.4Z" fill="#05263d" stroke="#05263d" stroke-width="0.7"/>
<path d="M319.4,333.4 L326.7,333.2 L326.8,341.0 L319.6,341.2Z" fill="#072847" stroke="#072847" stroke-width="0.7"/>
<path d="M326.7,333.2 L333.9,333.0 L334.1,340.9 L326.8,341.0Z" fill="#0d3064" stroke="#0d3064" stroke-width="0.7"/>
<path d="M333.9,333.0 L341.2,332.8 L341.4,340.7 L334.1,340.9Z" fill="#3d349b" stroke="#3d349b" stroke-width="0.7"/>
<path d="M341.2,332.8 L348.4,332.7 L348.6,340.5 L341.4,340.7Z" fill="#644197" stroke="#644197" stroke-width="0.7"/>
<path d="M109.2,346.2 L116.5,346.0 L116.7,353.8 L109.4,354.0Z" fill="#ce696f" stroke="#ce696f" stroke-width="0.7"/>
<path d="M116.5,346.0 L123.7,345.8 L123.9,353.7 L116.7,353.8Z" fill="#d46c6b" stroke="#d46c6b" stroke-width="0.7"/>
<path d="M123.7,345.8 L152.7,345.2 L153.0,353.0 L123.9,353.7Z" fill="#e5765b" stroke="#e5765b" stroke-width="0.7"/>
<path d="M152.7,345.2 L160.0,345.0 L160.2,352.8 L153.0,353.0Z" fill="#b3607f" stroke="#b3607f" stroke-width="0.7"/>
<path d="M160.0,345.0 L196.3,344.1 L196.5,352.0 L160.2,352.8Z" fill="#985789" stroke="#985789" stroke-width="0.7"/>
<path d="M196.3,344.1 L203.5,343.9 L203.7,351.8 L196.5,352.0Z" fill="#8b528c" stroke="#8b528c" stroke-width="0.7"/>
<path d="M203.5,343.9 L210.8,343.8 L211.0,351.6 L203.7,351.8Z" fill="#7e4d8f" stroke="#7e4d8f" stroke-width="0.7"/>
<path d="M210.8,343.8 L218.0,343.6 L218.2,351.4 L211.0,351.6Z" fill="#6a4495" stroke="#6a4495" stroke-width="0.7"/>
<path d="M218.0,343.6 L225.3,343.4 L225.5,351.3 L218.2,351.4Z" fill="#5d3e99" stroke="#5d3e99" stroke-width="0.7"/>
<path d="M225.3,343.4 L232.5,343.3 L232.7,351.1 L225.5,351.3Z" fill="#553c99" stroke="#553c99" stroke-width="0.7"/>
<path d="M232.5,343.3 L247.0,342.9 L247.2,350.7 L232.7,351.1Z" fill="#4d399a" stroke="#4d399a" stroke-width="0.7"/>
<path d="M247.0,342.9 L268.8,342.4 L269.0,350.2 L247.2,350.7Z" fill="#553c99" stroke="#553c99" stroke-width="0.7"/>
<path d="M268.8,342.4 L283.3,342.1 L283.5,349.9 L269.0,350.2Z" fill="#4d399a" stroke="#4d399a" stroke-width="0.7"/>
<path d="M283.3,342.1 L290.6,341.9 L290.7,349.7 L283.5,349.9Z" fill="#45379a" stroke="#45379a" stroke-width="0.7"/>
<path d="M290.6,341.9 L297.8,341.7 L298.0,349.5 L290.7,349.7Z" fill="#2d3290" stroke="#2d3290" stroke-width="0.7"/>
<path d="M297.8,341.7 L305.1,341.5 L305.2,349.4 L298.0,349.5Z" fill="#0b2d5a" stroke="#0b2d5a" stroke-width="0.7"/>
<path d="M305.1,341.5 L319.6,341.2 L319.8,349.0 L305.2,349.4Z" fill="#05263d" stroke="#05263d" stroke-width="0.7"/>
<path d="M319.6,341.2 L326.8,341.0 L327.0,348.9 L319.8,349.0Z" fill="#072847" stroke="#072847" stroke-width="0.7"/>
<path d="M326.8,341.0 L334.1,340.9 L334.3,348.7 L327.0,348.9Z" fill="#0d3064" stroke="#0d3064" stroke-width="0.7"/>
<path d="M334.1,340.9 L341.4,340.7 L341.5,348.5 L334.3,348.7Z" fill="#3d349b" stroke="#3d349b" stroke-width="0.7"/>
<path d="M341.4,340.7 L348.6,340.5 L348.8,348.3 L341.5,348.5Z" fill="#5d3e99" stroke="#5d3e99" stroke-width="0.7"/>
</g>
<path d="M407.5,108.3 L403.8,109.4 L397.5,111.2 L390.0,113.0 L385.0,116.2 L381.2,120.0 L378.0,126.0 L374.4,132.5 L370.0,138.8 L366.9,145.0 L363.8,153.8 L360.6,160.0 L359.4,167.5 L357.5,175.0 L355.0,182.5 L353.0,188.8 L351.2,195.0 L348.8,202.5 L345.6,212.5 L341.9,220.0 L337.5,226.2 L335.0,230.0 L333.8,235.0 L332.5,241.2 L330.6,246.2 L328.1,251.2 L325.6,255.6 L321.2,258.8 L318.1,261.2 L316.5,264.4 L317.5,266.9 L318.8,271.2 L319.4,276.2 L320.6,280.0 L321.9,285.0 L320.6,288.8 L319.4,293.1 L323.8,293.5 L327.5,295.0 L331.2,298.1 L335.0,301.9 L337.5,305.6 L339.4,310.0 L341.2,315.0 L343.8,320.5 L346.6,325.3 L347.8,331.2 L348.5,340.0 L348.8,347.5 L348.8,358.0 L424.0,358.0 L424.0,236.0 L420.6,240.0 L416.3,245.0 L414.0,248.5 L412.0,250.5 L410.0,251.2 L406.2,250.6 L403.0,248.0 L401.9,245.0 L402.5,241.2 L403.8,236.2 L403.0,231.2 L401.9,226.2 L405.0,222.5 L408.8,218.8 L411.5,215.0 L411.2,211.0 L410.0,208.0 L407.5,207.0 L405.5,208.5 L404.5,212.0 L402.8,215.0 L401.0,214.5 L400.2,212.0 L400.8,208.0 L402.5,203.5 L402.0,201.5 L399.4,195.0 L396.2,188.8 L394.4,183.8 L394.4,180.0 L395.6,175.0 L397.5,170.0 L398.0,162.5 L399.4,152.5 L400.6,145.0 L401.9,137.5 L403.8,130.0 L405.6,122.5 L408.0,117.5 L410.0,113.8 L409.8,110.5Z" fill="none" stroke="#7c7c7c" stroke-width="1.5" stroke-linejoin="round"/>
<g>
<path d="M409.7,104.0 L417.0,103.8 L417.2,111.6 L409.9,111.8Z" fill="#a55b84" stroke="#a55b84" stroke-width="0.7"/>
<path d="M410.0,119.6 L417.3,119.5 L417.4,127.3 L410.1,127.5Z" fill="#faa63e" stroke="#faa63e" stroke-width="0.7"/>
<path d="M410.1,127.5 L417.4,127.3 L417.6,135.1 L410.3,135.3Z" fill="#fab53e" stroke="#fab53e" stroke-width="0.7"/>
<path d="M410.3,135.3 L417.6,135.1 L417.7,143.0 L410.4,143.1Z" fill="#f8c442" stroke="#f8c442" stroke-width="0.7"/>
<path d="M403.1,143.3 L410.4,143.1 L410.6,151.0 L403.2,151.2Z" fill="#f6d346" stroke="#f6d346" stroke-width="0.7"/>
<path d="M410.4,143.1 L417.7,143.0 L417.9,150.8 L410.6,151.0Z" fill="#f8c442" stroke="#f8c442" stroke-width="0.7"/>
<path d="M403.2,151.2 L410.6,151.0 L410.7,158.8 L403.4,159.0Z" fill="#f3db4a" stroke="#f3db4a" stroke-width="0.7"/>
<path d="M410.6,151.0 L417.9,150.8 L418.0,158.6 L410.7,158.8Z" fill="#f0e34e" stroke="#f0e34e" stroke-width="0.7"/>
<path d="M403.4,159.0 L410.7,158.8 L410.8,166.6 L403.5,166.8Z" fill="#f3db4a" stroke="#f3db4a" stroke-width="0.7"/>
<path d="M410.7,158.8 L418.0,158.6 L418.1,166.5 L410.8,166.6Z" fill="#eaf256" stroke="#eaf256" stroke-width="0.7"/>
<path d="M403.5,166.8 L410.8,166.6 L411.0,174.5 L403.7,174.6Z" fill="#f3db4a" stroke="#f3db4a" stroke-width="0.7"/>
<path d="M410.8,166.6 L418.1,166.5 L418.3,174.3 L411.0,174.5Z" fill="#eaf256" stroke="#eaf256" stroke-width="0.7"/>
<path d="M396.4,174.8 L411.0,174.5 L411.1,182.3 L396.5,182.7Z" fill="#f6d346" stroke="#f6d346" stroke-width="0.7"/>
<path d="M411.0,174.5 L418.3,174.3 L418.4,182.1 L411.1,182.3Z" fill="#f0e34e" stroke="#f0e34e" stroke-width="0.7"/>
<path d="M396.5,182.7 L403.8,182.5 L404.0,190.3 L396.7,190.5Z" fill="#f7cb44" stroke="#f7cb44" stroke-width="0.7"/>
<path d="M403.8,182.5 L418.4,182.1 L418.5,190.0 L404.0,190.3Z" fill="#f6d346" stroke="#f6d346" stroke-width="0.7"/>
<path d="M404.0,190.3 L418.5,190.0 L418.7,197.8 L404.1,198.1Z" fill="#fab53e" stroke="#fab53e" stroke-width="0.7"/>
<path d="M404.1,198.1 L418.7,197.8 L418.8,205.6 L404.2,206.0Z" fill="#fab53e" stroke="#fab53e" stroke-width="0.7"/>
<path d="M411.8,221.5 L419.1,221.3 L419.2,229.1 L412.0,229.3Z" fill="#eaf256" stroke="#eaf256" stroke-width="0.7"/>
<path d="M404.7,229.5 L412.0,229.3 L412.1,237.1 L404.8,237.3Z" fill="#f3db4a" stroke="#f3db4a" stroke-width="0.7"/>
<path d="M412.0,229.3 L419.2,229.1 L419.4,237.0 L412.1,237.1Z" fill="#eaf256" stroke="#eaf256" stroke-width="0.7"/>
<path d="M404.8,237.3 L412.1,237.1 L412.2,245.0 L405.0,245.1Z" fill="#f7cb44" stroke="#f7cb44" stroke-width="0.7"/>
<path d="M412.1,237.1 L419.4,237.0 L419.5,244.8 L412.2,245.0Z" fill="#eaf256" stroke="#eaf256" stroke-width="0.7"/>
<path d="M412.2,245.0 L419.5,244.8 L419.7,252.6 L412.4,252.8Z" fill="#edea52" stroke="#edea52" stroke-width="0.7"/>
</g>
<path class="q" d="M103.4,60.2L105.6,59.5L104.2,61.4L104.0,60.7ZM110.6,60.5L112.7,58.9L112.0,61.4L111.4,60.7ZM118.2,59.9L120.1,59.2L119.0,60.9L118.8,60.3ZM125.5,60.0L127.3,58.8L126.5,60.8L126.2,60.2ZM133.0,59.8L134.5,58.8L133.9,60.5L133.5,60.0ZM140.4,59.6L141.7,58.6L141.3,60.2L140.9,59.8ZM147.8,59.5L148.9,58.4L148.7,60.0L148.3,59.6ZM155.2,59.3L156.2,58.4L156.0,59.7L155.7,59.4ZM162.6,59.2L163.5,58.2L163.3,59.5L163.0,59.2ZM170.0,59.0L170.7,58.0L170.8,59.3L170.4,59.1ZM177.4,59.0L177.9,57.8L178.2,59.1L177.8,58.9ZM184.7,58.8L185.2,57.7L185.5,58.9L185.1,58.7ZM214.1,58.2L214.5,57.0L214.9,58.1L214.5,58.0ZM221.5,58.2L221.6,56.6L222.5,58.0L222.0,57.9ZM228.7,58.0L229.0,56.4L229.8,57.9L229.2,57.8ZM236.1,58.0L236.2,56.1L237.3,57.7L236.6,57.7ZM243.3,57.9L243.6,55.8L244.6,57.7L243.9,57.6ZM250.7,58.0L250.7,55.5L252.2,57.5L251.4,57.5ZM258.0,57.8L258.1,55.2L259.5,57.4L258.7,57.4ZM265.3,57.8L265.3,54.9L267.0,57.2L266.1,57.2ZM272.6,57.6L272.7,54.7L274.3,57.1L273.4,57.1ZM279.8,57.3L280.2,54.5L281.5,57.1L280.6,56.9ZM287.2,57.3L287.4,54.2L289.0,56.9L288.0,56.8ZM294.5,57.3L294.6,53.9L296.5,56.7L295.4,56.7ZM301.6,57.0L302.2,53.7L303.6,56.7L302.6,56.5ZM309.0,57.0L309.4,53.4L311.1,56.6L310.0,56.4ZM316.6,56.9L316.4,53.3L318.7,56.2L317.5,56.2ZM324.5,57.0L323.1,53.3L326.4,55.5L325.2,56.0ZM331.8,56.7L330.5,53.2L333.6,55.3L332.5,55.7ZM339.0,56.4L338.0,53.1L340.7,55.2L339.7,55.5ZM346.6,56.3L345.1,53.1L348.2,54.8L347.2,55.3ZM354.0,56.0L352.4,53.0L355.5,54.6L354.5,55.1ZM361.7,55.9L359.3,53.0L363.0,54.0L362.0,54.8ZM369.4,55.8L366.3,53.1L370.4,53.5L369.6,54.5ZM376.8,55.5L373.6,53.0L377.7,53.3L376.9,54.3ZM383.9,55.3L381.2,52.7L384.9,53.4L384.1,54.2ZM391.5,55.1L388.3,52.8L392.3,52.9L391.5,53.9ZM398.8,54.9L395.7,52.6L399.6,52.8L398.8,53.7ZM406.4,54.7L402.8,52.7L406.9,52.3L406.3,53.4ZM413.5,54.5L410.4,52.3L414.2,52.4L413.5,53.3ZM103.6,68.2L105.7,67.2L104.6,69.2L104.3,68.6ZM111.0,68.3L112.9,66.8L112.2,69.1L111.7,68.5ZM118.4,68.0L120.2,66.8L119.5,68.8L119.1,68.3ZM125.8,67.8L127.4,66.7L126.8,68.5L126.4,68.0ZM133.3,67.6L134.7,66.6L134.1,68.3L133.8,67.8ZM140.6,67.6L141.8,66.3L141.6,68.1L141.2,67.7ZM148.1,67.4L149.1,66.2L149.0,67.8L148.6,67.5ZM155.5,67.2L156.3,66.2L156.3,67.5L155.9,67.3ZM162.8,67.1L163.6,66.0L163.6,67.3L163.3,67.1ZM170.2,66.9L170.9,65.8L171.0,67.1L170.6,66.9ZM214.3,66.0L214.7,64.8L215.1,66.0L214.7,65.9ZM221.6,65.9L221.9,64.5L222.5,65.8L222.1,65.7ZM228.9,65.8L229.3,64.3L229.9,65.7L229.4,65.6ZM236.4,65.9L236.3,63.9L237.6,65.5L236.9,65.5ZM243.6,65.8L243.6,63.6L244.9,65.4L244.2,65.4ZM251.0,65.8L250.8,63.3L252.4,65.2L251.6,65.3ZM258.3,65.7L258.1,63.0L259.8,65.1L259.0,65.2ZM265.4,65.3L265.8,62.9L266.8,65.1L266.1,65.0ZM272.8,65.5L272.8,62.5L274.5,64.9L273.6,64.9ZM280.3,65.5L279.9,62.2L282.1,64.7L281.1,64.8ZM287.3,65.1L287.6,62.1L289.1,64.7L288.2,64.6ZM294.8,65.3L294.5,61.7L296.8,64.4L295.7,64.5ZM301.9,64.8L302.3,61.6L303.9,64.5L302.8,64.4ZM309.6,65.2L309.0,61.2L311.7,64.1L310.5,64.3ZM316.7,64.6L316.8,61.2L318.7,64.0L317.6,64.0ZM324.3,64.5L323.8,61.1L326.1,63.6L325.1,63.8ZM331.9,64.5L330.8,61.1L333.6,63.2L332.6,63.6ZM339.3,64.2L338.1,61.0L340.9,63.0L339.9,63.3ZM346.8,64.1L345.3,60.9L348.3,62.6L347.3,63.1ZM354.4,63.9L352.3,60.9L355.7,62.2L354.8,62.8ZM361.6,63.7L359.8,60.7L362.9,62.1L362.0,62.7ZM369.4,63.5L366.7,60.8L370.4,61.5L369.6,62.4ZM377.0,63.3L373.8,60.9L377.8,61.1L377.0,62.1ZM383.9,63.1L381.6,60.5L385.0,61.3L384.1,62.0ZM391.3,62.9L388.8,60.4L392.3,61.0L391.5,61.8ZM399.1,62.7L395.8,60.5L399.7,60.4L399.0,61.5ZM406.5,62.5L403.0,60.5L407.0,60.1L406.4,61.2ZM413.8,62.3L410.4,60.3L414.3,60.0L413.7,61.1ZM104.0,76.0L105.9,75.1L104.9,77.0L104.6,76.3ZM111.4,75.9L113.1,75.0L112.2,76.7L111.9,76.2ZM118.7,75.8L120.3,74.7L119.7,76.6L119.3,76.0ZM126.1,75.7L127.6,74.6L127.0,76.3L126.7,75.8ZM133.5,75.7L134.7,74.2L134.6,76.1L134.1,75.8ZM140.9,75.4L142.0,74.2L141.8,75.8L141.4,75.5ZM148.3,75.3L149.3,74.1L149.2,75.6L148.8,75.3ZM155.7,75.1L156.5,74.0L156.5,75.4L156.2,75.1ZM163.1,74.9L163.8,73.8L163.9,75.1L163.5,74.9ZM170.4,74.8L171.1,73.7L171.2,74.9L170.8,74.7ZM185.2,74.5L185.6,73.3L186.0,74.5L185.6,74.4ZM192.5,74.3L192.9,73.1L193.3,74.3L192.9,74.2ZM214.5,73.9L214.8,72.6L215.4,73.8L214.9,73.7ZM221.9,73.9L222.0,72.3L222.9,73.6L222.3,73.6ZM229.1,73.7L229.4,72.1L230.1,73.5L229.6,73.4ZM236.5,73.7L236.5,71.7L237.7,73.3L237.1,73.3ZM243.7,73.5L244.0,71.5L245.0,73.3L244.3,73.2ZM251.1,73.4L251.2,71.2L252.4,73.1L251.7,73.1ZM258.4,73.4L258.5,71.0L259.8,73.0L259.0,73.0ZM265.6,73.1L266.0,70.8L267.0,72.9L266.3,72.8ZM272.9,73.0L273.3,70.5L274.4,72.8L273.6,72.7ZM280.3,73.0L280.4,70.2L281.9,72.6L281.0,72.6ZM287.8,73.2L287.4,69.9L289.6,72.3L288.6,72.5ZM294.9,72.9L294.9,69.6L296.8,72.3L295.8,72.3ZM302.1,72.6L302.5,69.4L304.0,72.3L303.0,72.2ZM309.6,72.8L309.5,69.1L311.6,72.1L310.5,72.1ZM317.2,72.7L316.5,69.0L319.1,71.6L318.0,71.8ZM324.3,72.2L324.2,69.0L326.1,71.5L325.1,71.6ZM332.1,72.3L330.9,69.0L333.8,71.0L332.7,71.4ZM339.3,71.9L338.5,68.9L340.9,70.9L339.9,71.1ZM347.0,71.9L345.4,68.8L348.4,70.4L347.5,70.9ZM354.3,71.6L352.7,68.7L355.7,70.2L354.8,70.7ZM362.2,71.6L359.5,68.8L363.3,69.5L362.4,70.4ZM369.6,71.4L366.8,68.7L370.6,69.3L369.8,70.2ZM377.1,71.1L374.0,68.7L377.9,69.0L377.1,69.9ZM384.2,70.9L381.5,68.4L385.2,69.0L384.4,69.8ZM391.6,70.7L388.8,68.3L392.5,68.7L391.7,69.6ZM399.0,70.5L396.1,68.2L399.8,68.5L399.1,69.4ZM406.4,70.3L403.4,68.1L407.1,68.3L406.4,69.2ZM413.5,70.2L410.9,67.8L414.4,68.2L413.7,69.1ZM104.2,84.0L105.9,82.8L105.3,84.8L104.9,84.2ZM111.6,83.9L113.2,82.6L112.7,84.6L112.2,84.1ZM119.0,83.7L120.4,82.5L120.0,84.3L119.6,83.9ZM126.4,83.8L127.6,82.2L127.5,84.1L127.0,83.8ZM133.8,83.5L134.9,82.2L134.8,83.9L134.3,83.5ZM141.2,83.4L142.1,82.0L142.2,83.7L141.7,83.4ZM148.6,83.2L149.4,81.9L149.5,83.4L149.1,83.1ZM155.9,82.8L156.8,81.9L156.7,83.1L156.4,82.9ZM163.3,82.9L163.9,81.6L164.2,83.0L163.8,82.8ZM185.4,82.3L185.8,81.1L186.2,82.4L185.8,82.2ZM192.7,82.1L193.1,81.0L193.5,82.2L193.1,82.0ZM214.7,81.6L215.1,80.5L215.5,81.6L215.1,81.5ZM222.0,81.6L222.3,80.2L222.9,81.5L222.5,81.4ZM229.3,81.5L229.6,79.9L230.3,81.4L229.8,81.3ZM236.6,81.3L237.0,79.7L237.6,81.2L237.1,81.1ZM243.9,81.2L244.3,79.5L245.0,81.1L244.4,81.0ZM251.2,81.1L251.6,79.2L252.4,81.0L251.8,80.9ZM258.6,81.2L258.7,78.9L260.0,80.8L259.2,80.8ZM266.0,81.2L265.8,78.6L267.4,80.6L266.6,80.6ZM273.1,80.8L273.5,78.4L274.6,80.6L273.8,80.5ZM280.4,80.7L280.8,78.1L282.0,80.5L281.1,80.3ZM287.7,80.6L288.1,77.9L289.3,80.3L288.5,80.2ZM295.3,80.9L294.8,77.5L297.2,80.0L296.1,80.1ZM302.3,80.4L302.7,77.4L304.1,80.1L303.1,79.9ZM309.9,80.7L309.4,77.0L311.9,79.8L310.7,79.9ZM317.2,80.3L316.9,77.0L319.0,79.6L318.0,79.6ZM324.9,80.3L323.8,76.9L326.6,79.1L325.5,79.4ZM332.4,80.1L330.9,76.9L334.0,78.7L333.0,79.1ZM339.7,79.8L338.3,76.8L341.2,78.5L340.3,78.9ZM347.0,79.6L345.8,76.7L348.5,78.3L347.5,78.7ZM354.6,79.5L352.8,76.6L355.9,77.9L355.0,78.5ZM362.3,79.4L359.7,76.7L363.4,77.4L362.5,78.2ZM369.9,79.1L366.8,76.7L370.7,76.9L370.0,77.9ZM376.8,78.9L374.6,76.3L377.9,77.2L377.1,77.9ZM384.5,78.7L381.6,76.4L385.3,76.6L384.6,77.6ZM391.7,78.5L389.0,76.1L392.6,76.6L391.8,77.4ZM399.1,78.4L396.3,76.0L399.9,76.3L399.2,77.2ZM406.7,78.1L403.4,76.1L407.3,75.9L406.6,76.9ZM413.7,78.0L411.1,75.7L414.5,76.1L413.8,76.9ZM104.5,91.9L106.1,90.7L105.6,92.6L105.1,92.1ZM111.9,92.0L113.2,90.3L113.1,92.4L112.6,92.0ZM119.3,91.7L120.5,90.3L120.3,92.1L119.9,91.7ZM126.7,91.3L127.9,90.3L127.5,91.9L127.2,91.5ZM134.0,91.2L135.1,90.1L134.9,91.6L134.5,91.3ZM141.4,91.1L142.4,90.0L142.3,91.4L141.9,91.1ZM148.8,91.1L149.5,89.7L149.8,91.2L149.3,91.0ZM156.2,90.8L156.9,89.7L157.0,91.0L156.6,90.8ZM170.9,90.5L171.5,89.3L171.7,90.6L171.3,90.4ZM178.2,90.3L178.7,89.1L179.0,90.4L178.6,90.2ZM185.6,90.2L186.0,89.0L186.4,90.2L186.0,90.1ZM192.9,90.0L193.3,88.8L193.7,90.0L193.3,89.9ZM214.9,89.5L215.3,88.3L215.7,89.5L215.3,89.4ZM222.2,89.4L222.6,88.0L223.0,89.3L222.6,89.2ZM229.5,89.3L229.8,87.8L230.5,89.2L230.0,89.1ZM236.8,89.2L237.1,87.5L237.8,89.0L237.3,89.0ZM244.2,89.2L244.2,87.2L245.4,88.8L244.8,88.8ZM251.5,89.1L251.5,87.0L252.8,88.7L252.1,88.7ZM258.7,88.9L259.0,86.8L260.0,88.6L259.3,88.6ZM266.2,89.0L265.9,86.5L267.6,88.4L266.8,88.5ZM273.4,88.7L273.5,86.2L274.8,88.3L274.0,88.3ZM280.8,88.8L280.6,85.9L282.4,88.1L281.5,88.2ZM288.0,88.5L288.1,85.7L289.6,88.1L288.7,88.0ZM295.5,88.7L295.0,85.4L297.3,87.8L296.3,87.9ZM302.6,88.3L302.7,85.2L304.4,87.8L303.4,87.8ZM309.9,88.3L309.8,84.9L311.9,87.7L310.8,87.7ZM317.4,88.2L317.0,84.8L319.3,87.3L318.2,87.4ZM324.8,87.9L324.4,84.8L326.5,87.1L325.5,87.2ZM332.3,87.8L331.4,84.7L333.9,86.7L333.0,87.0ZM340.2,87.7L338.2,84.8L341.5,86.0L340.6,86.7ZM347.1,87.3L346.0,84.5L348.5,86.2L347.6,86.5ZM355.1,87.3L352.6,84.7L356.2,85.4L355.3,86.2ZM362.5,87.2L359.9,84.6L363.5,85.2L362.7,86.0ZM369.9,87.0L367.1,84.5L370.8,84.9L370.1,85.8ZM377.0,86.7L374.7,84.2L378.1,85.0L377.2,85.7ZM384.6,86.6L381.8,84.2L385.4,84.5L384.7,85.4ZM391.8,86.4L389.3,83.9L392.7,84.5L391.9,85.3ZM399.6,86.1L396.2,84.2L400.1,83.8L399.5,84.9ZM406.7,86.0L403.7,83.8L407.4,83.9L406.7,84.8ZM414.2,85.8L410.9,83.8L414.7,83.5L414.1,84.6ZM104.8,99.7L106.2,98.5L105.8,100.3L105.4,99.9ZM112.2,99.6L113.5,98.4L113.2,100.1L112.8,99.7ZM119.6,99.4L120.7,98.2L120.5,99.9L120.1,99.5ZM127.0,99.5L127.8,97.9L128.1,99.7L127.5,99.4ZM134.3,99.1L135.3,97.9L135.2,99.4L134.8,99.1ZM141.7,98.9L142.5,97.8L142.5,99.2L142.1,98.9ZM149.1,98.9L149.7,97.6L150.0,99.0L149.5,98.8ZM156.5,98.8L156.9,97.4L157.4,98.8L156.9,98.6ZM163.8,98.5L164.3,97.3L164.6,98.6L164.2,98.4ZM171.1,98.4L171.5,97.1L172.0,98.4L171.6,98.3ZM178.5,98.2L178.8,96.9L179.3,98.2L178.9,98.1ZM185.8,98.0L186.2,96.8L186.6,98.0L186.2,97.9ZM193.1,97.9L193.4,96.6L194.0,97.8L193.6,97.7ZM200.4,97.6L200.8,96.5L201.2,97.6L200.8,97.5ZM215.1,97.4L215.4,96.1L216.0,97.3L215.5,97.2ZM222.4,97.3L222.7,95.8L223.3,97.2L222.8,97.1ZM229.7,97.1L230.0,95.6L230.7,97.0L230.2,96.9ZM237.0,96.9L237.4,95.4L237.9,96.9L237.4,96.7ZM244.4,97.0L244.4,95.1L245.6,96.6L244.9,96.7ZM251.8,96.9L251.6,94.8L253.0,96.5L252.3,96.5ZM259.0,96.7L259.1,94.6L260.2,96.4L259.6,96.4ZM266.4,96.7L266.3,94.4L267.7,96.2L267.0,96.2ZM273.6,96.6L273.6,94.1L275.0,96.1L274.3,96.1ZM281.0,96.5L280.8,93.8L282.5,95.9L281.6,96.0ZM288.3,96.5L288.0,93.5L289.9,95.8L289.0,95.9ZM295.4,96.2L295.6,93.3L297.1,95.8L296.2,95.7ZM302.7,96.0L303.0,93.1L304.4,95.7L303.5,95.6ZM310.3,96.3L309.7,92.7L312.2,95.3L311.1,95.5ZM317.8,96.1L316.8,92.7L319.6,94.9L318.5,95.2ZM325.2,95.8L324.3,92.7L326.8,94.7L325.8,95.0ZM332.8,95.7L331.2,92.7L334.3,94.2L333.3,94.7ZM340.1,95.5L338.6,92.6L341.5,94.1L340.6,94.5ZM347.7,95.3L345.7,92.5L348.9,93.7L348.0,94.3ZM355.2,95.1L352.9,92.5L356.3,93.3L355.4,94.1ZM362.4,94.9L360.3,92.3L363.5,93.3L362.7,93.9ZM370.1,94.8L367.2,92.4L371.0,92.7L370.2,93.6ZM377.6,94.5L374.4,92.4L378.3,92.3L377.6,93.3ZM385.1,94.3L381.7,92.3L385.6,92.0L385.0,93.1ZM392.0,94.2L389.4,91.8L392.8,92.3L392.1,93.1ZM399.2,94.0L396.8,91.6L400.1,92.2L399.4,92.9ZM407.2,93.7L403.6,92.0L407.5,91.4L407.0,92.5ZM414.3,93.6L411.1,91.6L414.8,91.4L414.2,92.4ZM105.2,108.0L106.0,106.1L106.5,108.1L105.8,107.9ZM112.5,107.7L113.4,106.0L113.7,107.9L113.1,107.6ZM119.8,107.3L120.9,106.1L120.8,107.7L120.4,107.3ZM127.2,107.1L128.2,105.9L128.1,107.4L127.7,107.1ZM134.6,107.2L135.2,105.6L135.7,107.2L135.1,107.0ZM141.9,106.8L142.7,105.6L142.8,107.0L142.4,106.8ZM149.3,106.6L150.0,105.5L150.1,106.8L149.7,106.6ZM156.6,106.4L157.3,105.4L157.4,106.6L157.1,106.4ZM164.0,106.4L164.5,105.1L164.9,106.4L164.4,106.3ZM171.3,106.2L171.8,105.0L172.1,106.2L171.7,106.1ZM178.7,106.1L179.1,104.8L179.5,106.0L179.1,105.9ZM186.0,105.9L186.3,104.6L186.9,105.8L186.4,105.7ZM193.3,105.7L193.7,104.4L194.2,105.7L193.7,105.6ZM200.7,105.6L200.9,104.3L201.5,105.5L201.1,105.4ZM208.0,105.3L208.4,104.1L208.7,105.3L208.4,105.2ZM215.3,105.3L215.5,103.9L216.2,105.1L215.7,105.1ZM222.6,105.0L223.0,103.7L223.4,105.0L223.0,104.9ZM230.0,105.0L230.1,103.4L231.0,104.8L230.4,104.8ZM237.2,104.9L237.4,103.2L238.3,104.6L237.7,104.6ZM244.6,104.8L244.6,103.0L245.7,104.4L245.1,104.5ZM251.9,104.6L252.0,102.8L253.0,104.3L252.4,104.3ZM259.3,104.6L259.2,102.5L260.5,104.1L259.8,104.2ZM266.4,104.3L266.7,102.3L267.6,104.1L267.0,104.0ZM273.7,104.2L274.0,102.1L275.0,104.0L274.3,103.9ZM281.1,104.3L281.1,101.7L282.6,103.8L281.8,103.8ZM288.3,103.9L288.7,101.6L289.7,103.7L289.0,103.6ZM295.8,104.2L295.4,101.2L297.5,103.4L296.6,103.5ZM303.1,104.1L302.8,100.9L304.9,103.3L303.9,103.4ZM310.4,104.0L310.0,100.6L312.3,103.2L311.2,103.3ZM317.7,103.6L317.6,100.6L319.4,103.0L318.4,103.0ZM325.2,103.5L324.7,100.5L326.8,102.6L325.9,102.8ZM332.8,103.4L331.6,100.5L334.3,102.2L333.4,102.6ZM340.3,103.3L338.8,100.4L341.6,101.9L340.8,102.3ZM347.7,103.1L346.0,100.4L349.0,101.6L348.1,102.1ZM355.0,102.8L353.4,100.2L356.2,101.4L355.4,101.9ZM362.6,102.7L360.5,100.2L363.7,101.0L362.9,101.7ZM370.5,102.5L367.3,100.4L371.1,100.3L370.4,101.3ZM377.9,102.3L374.5,100.3L378.4,100.1L377.8,101.1ZM384.7,102.2L382.3,99.8L385.6,100.4L384.9,101.1ZM392.6,101.9L389.1,100.1L393.0,99.6L392.4,100.7ZM399.5,101.8L396.8,99.6L400.3,99.8L399.6,100.7ZM406.9,101.6L404.1,99.5L407.6,99.6L406.9,100.5ZM414.6,101.4L411.1,99.7L415.0,99.0L414.4,100.1ZM105.4,115.6L106.4,114.2L106.5,115.9L106.0,115.6ZM112.8,115.4L113.7,114.0L113.8,115.7L113.3,115.4ZM120.2,115.5L120.7,113.7L121.4,115.4L120.8,115.3ZM127.5,115.2L128.2,113.6L128.5,115.2L128.0,115.0ZM134.9,115.0L135.4,113.5L135.9,115.0L135.4,114.9ZM142.2,114.7L142.8,113.4L143.1,114.8L142.7,114.6ZM149.6,114.6L150.0,113.2L150.5,114.6L150.0,114.5ZM156.9,114.3L157.5,113.2L157.7,114.4L157.3,114.2ZM164.3,114.3L164.6,112.9L165.2,114.2L164.7,114.1ZM171.6,114.1L171.9,112.7L172.5,114.0L172.0,113.9ZM178.8,113.8L179.4,112.7L179.6,113.9L179.2,113.7ZM186.2,113.8L186.5,112.4L187.1,113.7L186.7,113.6ZM200.8,113.3L201.2,112.1L201.6,113.3L201.2,113.2ZM208.2,113.2L208.4,111.9L209.1,113.1L208.6,113.0ZM215.5,113.0L215.8,111.7L216.3,113.0L215.9,112.9ZM222.8,112.9L223.1,111.5L223.7,112.8L223.2,112.7ZM230.1,112.8L230.3,111.3L231.1,112.6L230.6,112.6ZM237.5,112.7L237.6,111.1L238.5,112.5L237.9,112.4ZM244.8,112.6L244.8,110.8L245.9,112.3L245.3,112.3ZM252.0,112.3L252.4,110.7L253.0,112.2L252.5,112.1ZM259.4,112.3L259.5,110.4L260.5,112.0L259.9,112.0ZM266.6,112.1L266.9,110.2L267.8,111.9L267.2,111.8ZM273.9,111.9L274.3,110.0L275.1,111.8L274.5,111.7ZM281.3,112.0L281.3,109.6L282.7,111.6L281.9,111.6ZM288.7,112.0L288.5,109.3L290.2,111.4L289.3,111.5ZM296.0,111.9L295.7,109.1L297.6,111.3L296.7,111.3ZM303.1,111.6L303.4,108.9L304.7,111.3L303.8,111.2ZM310.4,111.6L310.6,108.6L312.1,111.1L311.2,111.1ZM317.9,111.4L317.7,108.5L319.5,110.8L318.6,110.8ZM325.3,111.2L325.0,108.5L326.8,110.5L325.9,110.6ZM332.8,111.1L332.0,108.4L334.3,110.2L333.4,110.4ZM340.4,111.0L339.0,108.3L341.7,109.7L340.9,110.2ZM347.9,110.9L346.2,108.2L349.1,109.4L348.3,109.9ZM355.4,110.7L353.3,108.2L356.5,109.0L355.7,109.7ZM363.1,110.6L360.3,108.2L363.9,108.5L363.2,109.4ZM370.1,110.3L367.9,107.9L371.1,108.6L370.4,109.3ZM378.0,110.1L374.7,108.2L378.5,107.9L377.9,108.9ZM384.8,110.0L382.5,107.6L385.7,108.2L385.0,109.0ZM392.4,109.8L389.5,107.7L393.1,107.8L392.5,108.7ZM399.7,109.6L396.9,107.5L400.4,107.6L399.8,108.5ZM414.7,109.2L411.2,107.5L415.1,106.9L414.5,108.0ZM105.8,123.5L106.5,121.9L106.8,123.6L106.3,123.4ZM113.2,123.5L113.5,121.7L114.4,123.4L113.7,123.3ZM120.4,123.1L121.1,121.7L121.4,123.2L120.9,123.0ZM127.8,122.9L128.4,121.5L128.7,123.0L128.3,122.8ZM135.1,122.7L135.7,121.5L136.0,122.8L135.5,122.6ZM142.4,122.5L143.0,121.3L143.3,122.6L142.9,122.4ZM149.8,122.4L150.2,121.1L150.7,122.4L150.3,122.3ZM157.2,122.3L157.4,120.9L158.1,122.2L157.6,122.1ZM164.5,122.1L164.8,120.8L165.3,122.0L164.9,121.9ZM179.1,121.7L179.4,120.4L180.0,121.7L179.5,121.6ZM193.7,121.3L194.1,120.1L194.5,121.3L194.1,121.2ZM215.7,120.9L216.0,119.6L216.5,120.8L216.1,120.7ZM223.0,120.7L223.3,119.4L223.9,120.6L223.4,120.5ZM230.4,120.7L230.4,119.1L231.3,120.4L230.8,120.4ZM237.7,120.5L237.8,118.9L238.6,120.3L238.1,120.2ZM245.0,120.4L245.1,118.7L246.0,120.1L245.5,120.1ZM252.4,120.3L252.3,118.5L253.4,119.9L252.8,119.9ZM259.5,120.0L259.8,118.4L260.5,119.8L260.0,119.7ZM266.9,120.0L267.0,118.1L268.0,119.7L267.4,119.6ZM274.3,120.0L274.1,117.8L275.5,119.4L274.8,119.5ZM281.5,119.8L281.5,117.5L282.8,119.4L282.1,119.4ZM288.9,119.8L288.7,117.3L290.3,119.2L289.5,119.3ZM295.9,119.4L296.4,117.1L297.3,119.2L296.6,119.1ZM303.5,119.6L303.1,116.7L305.1,118.9L304.2,119.0ZM310.8,119.5L310.4,116.5L312.5,118.7L311.5,118.9ZM318.3,119.3L317.6,116.4L319.8,118.4L318.9,118.6ZM325.7,119.1L324.9,116.4L327.1,118.1L326.2,118.4ZM333.0,118.8L332.2,116.3L334.4,117.9L333.5,118.2ZM340.6,118.7L339.3,116.3L341.8,117.5L341.0,117.9ZM348.0,118.5L346.5,116.2L349.1,117.3L348.3,117.7ZM355.7,118.4L353.4,116.2L356.5,116.7L355.9,117.4ZM362.8,118.2L361.0,115.9L363.8,116.7L363.1,117.3ZM370.4,118.1L368.0,116.0L371.2,116.3L370.5,117.0ZM377.5,117.9L375.6,115.6L378.4,116.3L377.7,116.9ZM385.3,117.7L382.4,115.8L385.9,115.7L385.3,116.6ZM106.2,131.6L106.4,129.7L107.3,131.3L106.7,131.3ZM113.4,131.2L113.9,129.7L114.4,131.2L113.9,131.0ZM120.7,131.0L121.2,129.5L121.7,131.0L121.2,130.9ZM128.1,130.9L128.4,129.4L129.1,130.8L128.6,130.7ZM135.4,130.6L135.9,129.3L136.2,130.6L135.8,130.4ZM142.8,130.5L143.0,129.1L143.7,130.4L143.2,130.3ZM150.1,130.2L150.4,129.0L150.9,130.2L150.5,130.1ZM157.4,130.1L157.7,128.8L158.2,130.0L157.8,129.9ZM164.7,129.9L165.0,128.7L165.5,129.8L165.1,129.7ZM179.4,129.6L179.6,128.3L180.2,129.4L179.8,129.4ZM194.0,129.2L194.2,128.0L194.8,129.1L194.4,129.0ZM201.3,129.1L201.5,127.8L202.1,128.9L201.7,128.9ZM208.6,128.9L208.8,127.6L209.5,128.7L209.0,128.7ZM223.2,128.5L223.5,127.3L224.0,128.4L223.6,128.3ZM230.5,128.3L230.9,127.1L231.3,128.3L230.9,128.2ZM237.8,128.2L238.2,126.9L238.6,128.1L238.2,128.0ZM245.2,128.1L245.3,126.6L246.1,127.9L245.6,127.9ZM252.4,127.8L252.8,126.5L253.3,127.8L252.8,127.7ZM259.7,127.7L260.1,126.3L260.6,127.6L260.1,127.5ZM267.1,127.7L267.2,126.0L268.2,127.4L267.6,127.4ZM274.4,127.6L274.4,125.7L275.6,127.3L274.9,127.3ZM281.6,127.5L281.8,125.5L282.8,127.2L282.2,127.1ZM289.0,127.4L289.0,125.2L290.3,127.0L289.6,127.0ZM296.2,127.2L296.4,125.0L297.6,126.9L296.8,126.9ZM303.6,127.2L303.6,124.7L305.0,126.7L304.2,126.7ZM310.7,126.9L311.1,124.6L312.2,126.7L311.4,126.6ZM318.5,127.0L317.8,124.4L319.8,126.2L319.0,126.4ZM325.8,126.7L325.3,124.4L327.0,126.0L326.3,126.1ZM333.2,126.5L332.5,124.3L334.3,125.7L333.6,125.9ZM340.8,126.4L339.5,124.3L341.8,125.2L341.1,125.7ZM348.1,126.2L346.9,124.2L349.0,125.0L348.4,125.5ZM355.9,126.0L353.7,124.3L356.5,124.4L355.9,125.1ZM363.2,125.8L361.1,124.1L363.8,124.3L363.2,125.0ZM370.6,125.7L368.3,124.0L371.1,124.0L370.6,124.8ZM377.8,125.5L375.7,123.7L378.4,124.0L377.9,124.7ZM414.8,124.7L411.8,123.1L415.2,122.7L414.7,123.6ZM106.5,139.4L106.5,137.6L107.5,139.1L106.9,139.1ZM113.8,139.2L113.8,137.5L114.8,138.9L114.3,138.9ZM121.2,139.0L121.1,137.3L122.2,138.6L121.6,138.7ZM128.4,138.8L128.5,137.2L129.4,138.5L128.9,138.5ZM135.7,138.5L136.0,137.1L136.6,138.4L136.1,138.3ZM143.0,138.3L143.3,137.0L143.8,138.2L143.4,138.1ZM150.4,138.2L150.4,136.8L151.2,137.9L150.8,137.9ZM157.7,137.9L157.8,136.7L158.5,137.8L158.0,137.7ZM165.0,137.8L165.1,136.5L165.8,137.6L165.4,137.6ZM186.9,137.2L187.0,136.0L187.7,137.0L187.3,137.0ZM201.5,136.9L201.7,135.7L202.3,136.7L201.9,136.7ZM216.2,136.5L216.3,135.3L216.9,136.4L216.5,136.3ZM223.5,136.4L223.6,135.1L224.3,136.2L223.8,136.2ZM230.8,136.2L230.9,134.9L231.6,136.0L231.2,136.0ZM238.0,135.9L238.4,134.8L238.8,135.9L238.4,135.8ZM245.3,135.9L245.6,134.5L246.2,135.7L245.7,135.7ZM252.7,135.8L252.8,134.3L253.6,135.5L253.1,135.5ZM260.0,135.6L260.1,134.1L260.9,135.4L260.4,135.4ZM267.2,135.4L267.5,133.9L268.2,135.3L267.7,135.2ZM274.5,135.3L274.8,133.7L275.5,135.1L275.0,135.1ZM281.9,135.2L282.0,133.4L283.0,135.0L282.4,134.9ZM289.2,135.1L289.2,133.2L290.3,134.8L289.7,134.8ZM296.6,135.1L296.4,132.9L297.8,134.6L297.1,134.7ZM303.7,134.8L303.9,132.7L305.0,134.5L304.3,134.5ZM310.9,134.6L311.4,132.6L312.2,134.4L311.6,134.3ZM318.4,134.4L318.5,132.5L319.6,134.1L318.9,134.1ZM326.0,134.4L325.5,132.4L327.1,133.7L326.4,133.9ZM333.5,134.2L332.6,132.4L334.4,133.3L333.8,133.6ZM340.9,134.0L339.9,132.3L341.7,133.1L341.2,133.4ZM348.4,133.8L347.0,132.3L349.0,132.7L348.6,133.2ZM355.7,133.6L354.4,132.1L356.3,132.6L355.8,133.0ZM363.3,133.4L361.5,132.1L363.7,132.1L363.3,132.7ZM370.8,133.3L368.6,132.1L371.0,131.8L370.7,132.5ZM414.6,132.5L412.3,130.7L415.2,130.9L414.7,131.6ZM106.8,147.2L106.6,145.5L107.8,146.8L107.2,146.9ZM114.0,146.8L114.2,145.4L114.9,146.7L114.4,146.6ZM121.3,146.7L121.5,145.3L122.2,146.5L121.7,146.5ZM128.7,146.6L128.6,145.1L129.6,146.2L129.1,146.3ZM136.1,146.4L135.9,144.9L136.9,146.0L136.4,146.1ZM143.4,146.3L143.2,144.8L144.3,145.8L143.8,145.9ZM150.6,146.0L150.6,144.7L151.4,145.7L151.0,145.7ZM158.0,145.8L157.9,144.5L158.7,145.5L158.3,145.5ZM165.3,145.7L165.2,144.4L166.1,145.3L165.7,145.4ZM231.0,144.0L231.1,142.8L231.8,143.8L231.4,143.8ZM238.3,143.9L238.4,142.6L239.1,143.7L238.7,143.6ZM245.6,143.7L245.8,142.4L246.4,143.5L245.9,143.5ZM260.2,143.4L260.3,142.0L261.0,143.2L260.6,143.1ZM267.4,143.1L267.8,141.9L268.2,143.1L267.8,143.0ZM274.7,142.9L275.1,141.7L275.5,142.9L275.1,142.8ZM282.0,142.9L282.4,141.4L282.9,142.8L282.5,142.7ZM289.4,142.9L289.4,141.1L290.5,142.5L289.9,142.6ZM296.6,142.6L297.0,141.0L297.6,142.5L297.1,142.4ZM303.9,142.5L304.1,140.7L305.1,142.3L304.5,142.3ZM311.2,142.3L311.5,140.5L312.3,142.2L311.7,142.1ZM318.7,142.2L318.6,140.4L319.7,141.8L319.2,141.9ZM326.1,142.0L325.9,140.4L327.0,141.6L326.5,141.6ZM333.6,141.9L332.9,140.4L334.4,141.2L333.9,141.4ZM341.1,141.6L340.1,140.3L341.7,140.8L341.3,141.1ZM348.5,141.4L347.4,140.3L349.0,140.6L348.6,140.9ZM355.9,141.2L354.7,140.2L356.3,140.3L355.9,140.7ZM363.2,141.0L362.0,140.1L363.6,140.1L363.2,140.5ZM414.9,140.3L412.4,138.7L415.3,138.6L414.8,139.4ZM107.1,155.0L106.9,153.4L108.0,154.6L107.5,154.7ZM114.3,154.8L114.3,153.3L115.2,154.4L114.7,154.5ZM121.7,154.6L121.5,153.1L122.6,154.2L122.1,154.3ZM129.1,154.5L128.7,153.0L129.9,153.9L129.4,154.1ZM136.2,154.2L136.2,152.8L137.1,153.9L136.6,153.9ZM143.6,154.0L143.5,152.7L144.3,153.7L143.9,153.7ZM150.9,153.8L150.9,152.6L151.6,153.5L151.2,153.5ZM260.4,151.2L260.5,149.9L261.2,151.0L260.8,151.0ZM282.3,150.7L282.5,149.3L283.1,150.5L282.7,150.5ZM289.5,150.4L289.9,149.2L290.3,150.4L289.9,150.3ZM296.9,150.4L297.0,148.9L297.8,150.2L297.3,150.2ZM304.2,150.3L304.3,148.7L305.2,150.1L304.6,150.0ZM311.4,150.1L311.6,148.5L312.5,149.9L311.9,149.9ZM318.9,149.9L318.9,148.4L319.7,149.6L319.3,149.6ZM363.5,148.6L362.2,148.2L363.4,147.7L363.3,148.2ZM407.5,148.2L405.5,146.7L408.0,146.8L407.5,147.4ZM414.8,148.1L412.7,146.5L415.4,146.6L414.9,147.2ZM107.3,162.8L107.1,161.3L108.2,162.4L107.7,162.5ZM114.7,162.7L114.3,161.1L115.6,162.1L115.1,162.3ZM122.1,162.6L121.5,161.0L122.9,161.9L122.4,162.1ZM129.3,162.3L129.0,160.8L130.1,161.8L129.6,161.9ZM136.6,162.1L136.3,160.7L137.3,161.6L136.9,161.7ZM143.9,161.9L143.6,160.6L144.6,161.4L144.2,161.5ZM151.1,161.6L151.0,160.4L151.9,161.3L151.5,161.4ZM311.6,157.7L312.0,156.5L312.4,157.7L312.0,157.6ZM407.4,155.9L405.9,154.4L408.0,154.8L407.5,155.2ZM414.8,155.9L413.0,154.3L415.4,154.5L414.9,155.1ZM107.7,170.8L107.1,169.2L108.6,170.1L108.0,170.3ZM115.0,170.5L114.4,169.0L115.8,169.9L115.3,170.1ZM122.4,170.4L121.6,168.9L123.2,169.6L122.7,169.9ZM129.7,170.2L129.0,168.7L130.4,169.5L129.9,169.7ZM136.9,169.9L136.4,168.6L137.6,169.4L137.2,169.5ZM144.2,169.7L143.8,168.4L144.9,169.2L144.5,169.4ZM151.5,169.5L151.1,168.3L152.2,169.0L151.8,169.2ZM407.2,163.6L406.5,162.2L407.9,162.9L407.4,163.1ZM414.6,163.6L413.5,161.9L415.4,162.6L414.9,163.0ZM108.1,178.6L107.2,177.0L108.8,177.8L108.3,178.1ZM115.2,178.3L114.7,176.8L116.0,177.8L115.5,177.9ZM122.5,178.2L122.0,176.7L123.3,177.6L122.8,177.7ZM129.8,177.9L129.4,176.6L130.5,177.4L130.1,177.6ZM137.2,177.8L136.6,176.4L137.9,177.2L137.4,177.4ZM144.5,177.6L143.9,176.3L145.2,176.9L144.7,177.2ZM151.8,177.4L151.2,176.1L152.4,176.8L152.0,177.0ZM407.3,171.4L406.6,170.0L408.0,170.7L407.6,171.0ZM414.5,171.4L413.9,169.7L415.4,170.7L414.9,170.9ZM108.3,186.5L107.4,184.9L109.1,185.6L108.6,185.9ZM115.4,186.2L114.9,184.7L116.2,185.6L115.7,185.8ZM122.8,186.0L122.2,184.5L123.5,185.4L123.1,185.6ZM130.1,185.8L129.5,184.4L130.8,185.2L130.3,185.4ZM137.3,185.6L136.9,184.2L138.0,185.1L137.6,185.2ZM144.6,185.4L144.2,184.1L145.3,184.9L144.9,185.0ZM151.9,185.2L151.5,183.9L152.6,184.7L152.2,184.8ZM400.2,179.3L399.5,178.2L400.7,178.6L400.4,178.9ZM407.4,179.2L406.8,177.8L408.1,178.6L407.7,178.8ZM414.8,179.3L413.9,177.6L415.6,178.4L415.1,178.7ZM108.4,194.3L107.8,192.6L109.3,193.6L108.7,193.8ZM115.7,194.0L115.1,192.5L116.5,193.4L116.0,193.6ZM123.0,193.9L122.4,192.3L123.8,193.2L123.3,193.4ZM130.3,193.7L129.7,192.2L131.1,193.0L130.6,193.2ZM137.6,193.5L137.0,192.1L138.3,192.8L137.9,193.0ZM144.9,193.3L144.3,191.9L145.6,192.7L145.1,192.8ZM152.1,193.0L151.7,191.8L152.8,192.5L152.4,192.7ZM159.4,192.8L159.1,191.6L160.1,192.3L159.7,192.5ZM407.7,187.1L406.8,185.7L408.3,186.3L407.9,186.6ZM415.0,187.1L413.9,185.4L415.8,186.1L415.3,186.5ZM108.6,202.1L108.0,200.4L109.5,201.5L108.9,201.6ZM115.8,201.8L115.5,200.3L116.7,201.4L116.1,201.5ZM123.0,201.6L122.9,200.1L123.9,201.2L123.4,201.3ZM130.3,201.4L130.2,200.0L131.1,201.0L130.7,201.1ZM137.7,201.2L137.4,199.8L138.4,200.8L138.0,200.9ZM144.9,201.0L144.7,199.7L145.7,200.6L145.3,200.7ZM407.6,194.8L407.2,193.5L408.4,194.3L407.9,194.5ZM415.0,194.9L414.3,193.2L415.8,194.1L415.3,194.4ZM108.8,209.9L108.3,208.2L109.7,209.3L109.1,209.5ZM115.9,209.6L115.8,208.1L116.9,209.2L116.3,209.3ZM123.3,209.5L123.0,207.9L124.2,209.0L123.7,209.1ZM130.6,209.3L130.3,207.8L131.4,208.8L130.9,208.9ZM137.7,208.9L137.8,207.7L138.6,208.7L138.1,208.7ZM152.4,208.6L152.3,207.4L153.2,208.3L152.8,208.4ZM407.9,202.8L407.2,201.3L408.6,202.1L408.1,202.3ZM415.0,202.6L414.6,201.0L415.9,202.0L415.4,202.2ZM108.8,217.6L108.9,216.0L109.7,217.4L109.2,217.3ZM116.0,217.4L116.2,215.9L117.0,217.2L116.5,217.1ZM123.3,217.2L123.5,215.7L124.3,217.0L123.8,217.0ZM130.6,216.9L130.9,215.6L131.4,216.8L131.0,216.7ZM138.0,216.9L137.9,215.4L138.9,216.5L138.4,216.6ZM109.0,225.6L109.0,223.8L110.1,225.2L109.5,225.2ZM116.3,225.4L116.3,223.6L117.3,225.0L116.8,225.0ZM123.6,225.1L123.6,223.5L124.6,224.8L124.0,224.8ZM130.8,224.7L131.1,223.4L131.6,224.7L131.2,224.6ZM138.1,224.6L138.3,223.3L139.0,224.5L138.5,224.4ZM145.4,224.4L145.6,223.1L146.3,224.3L145.8,224.2ZM152.8,224.3L152.8,223.0L153.6,224.0L153.1,224.0ZM109.1,233.3L109.4,231.6L110.1,233.1L109.6,233.0ZM116.5,233.2L116.5,231.4L117.6,232.9L117.0,232.9ZM123.7,232.8L124.0,231.3L124.7,232.7L124.2,232.6ZM131.0,232.6L131.3,231.2L131.9,232.5L131.4,232.5ZM138.2,232.3L138.7,231.1L139.1,232.4L138.7,232.2ZM145.5,232.1L146.0,231.0L146.3,232.2L145.9,232.0ZM152.9,232.0L153.2,230.8L153.7,232.0L153.3,231.9ZM415.7,226.2L414.7,224.6L416.5,225.3L415.9,225.7ZM109.2,241.0L109.8,239.4L110.3,241.1L109.8,240.9ZM116.5,240.8L117.1,239.3L117.5,240.9L117.0,240.7ZM123.8,240.7L124.3,239.1L124.9,240.7L124.3,240.5ZM131.1,240.5L131.6,238.9L132.2,240.5L131.7,240.3ZM138.4,240.1L139.1,238.9L139.2,240.3L138.8,240.1ZM145.7,239.9L146.3,238.8L146.5,240.1L146.1,239.9ZM153.0,239.9L153.5,238.5L153.9,239.9L153.4,239.7ZM167.5,239.4L168.2,238.3L168.3,239.5L168.0,239.3ZM408.5,234.1L407.7,232.7L409.2,233.3L408.7,233.6ZM415.8,234.0L415.0,232.5L416.5,233.2L416.0,233.5ZM109.3,248.7L110.3,247.2L110.4,249.0L109.9,248.7ZM116.6,248.6L117.5,247.0L117.7,248.9L117.1,248.5ZM123.9,248.5L124.7,246.8L125.0,248.7L124.5,248.4ZM131.1,248.0L132.2,246.9L132.0,248.4L131.6,248.1ZM138.4,247.9L139.5,246.7L139.4,248.3L139.0,247.9ZM145.7,247.6L146.8,246.7L146.5,248.0L146.2,247.7ZM153.0,247.4L154.1,246.6L153.7,247.8L153.5,247.5ZM160.3,247.2L161.4,246.4L161.0,247.7L160.7,247.3ZM167.6,247.0L168.6,246.2L168.3,247.5L168.0,247.1ZM189.5,246.6L190.4,245.7L190.2,246.9L189.9,246.6ZM415.7,241.6L415.4,240.3L416.5,241.1L416.0,241.3ZM109.3,256.4L110.8,255.0L110.4,257.0L110.0,256.5ZM116.6,256.3L118.0,254.8L117.8,256.8L117.3,256.4ZM123.9,256.1L125.3,254.7L125.0,256.6L124.5,256.2ZM131.2,255.8L132.6,254.7L132.1,256.4L131.8,255.9ZM138.5,255.6L139.9,254.6L139.4,256.2L139.0,255.7ZM145.8,255.3L147.2,254.4L146.6,256.0L146.3,255.5ZM153.1,255.1L154.5,254.4L153.8,255.8L153.6,255.3ZM160.4,254.9L161.8,254.2L161.1,255.6L160.9,255.2ZM167.7,254.7L169.0,254.0L168.4,255.4L168.2,255.0ZM175.0,254.7L176.3,253.8L175.8,255.3L175.5,254.8ZM182.3,254.4L183.5,253.7L183.0,255.0L182.7,254.6ZM189.7,254.1L190.8,253.7L190.2,254.8L190.0,254.4ZM204.2,253.9L205.3,253.3L204.8,254.4L204.6,254.1ZM109.4,264.2L111.2,262.8L110.5,265.0L110.1,264.4ZM116.7,263.9L118.5,262.8L117.7,264.8L117.3,264.2ZM124.0,263.9L125.7,262.5L125.1,264.6L124.6,264.1ZM131.3,263.5L133.1,262.5L132.2,264.3L131.9,263.8ZM138.5,263.5L140.2,262.1L139.7,264.3L139.2,263.7ZM145.9,263.0L147.6,262.3L146.7,263.9L146.4,263.3ZM153.1,263.0L154.9,261.9L154.1,263.8L153.7,263.3ZM160.5,262.7L162.2,262.0L161.2,263.6L161.0,263.0ZM167.8,262.4L169.5,262.0L168.4,263.3L168.3,262.8ZM175.0,262.4L176.7,261.6L175.9,263.2L175.6,262.7ZM182.4,262.1L183.9,261.7L183.0,262.9L182.8,262.4ZM189.8,261.8L191.2,261.6L190.2,262.6L190.1,262.2ZM197.0,261.9L198.4,261.2L197.7,262.6L197.4,262.1ZM204.3,261.6L205.7,261.2L204.8,262.3L204.7,261.9ZM211.7,261.3L213.0,261.1L212.1,262.1L212.0,261.6ZM219.0,261.1L220.2,261.0L219.4,261.9L219.3,261.4ZM109.4,272.2L111.5,270.3L110.9,273.1L110.3,272.4ZM116.7,271.8L118.9,270.4L117.9,272.8L117.5,272.1ZM124.1,271.5L126.2,270.4L125.1,272.5L124.7,271.8ZM131.3,271.4L133.4,270.1L132.5,272.4L132.0,271.7ZM138.6,271.2L140.7,270.0L139.7,272.2L139.3,271.5ZM145.9,271.0L148.0,269.8L146.9,272.0L146.6,271.3ZM153.2,270.7L155.3,269.8L154.2,271.8L153.8,271.1ZM160.5,270.5L162.6,269.7L161.3,271.6L161.1,270.9ZM167.8,270.4L169.8,269.4L168.7,271.4L168.4,270.8ZM175.2,270.1L177.1,269.5L175.9,271.1L175.7,270.5ZM182.6,269.8L184.3,269.6L183.0,270.7L183.0,270.2ZM189.9,269.6L191.5,269.5L190.3,270.5L190.3,270.0ZM197.2,269.5L198.8,269.2L197.6,270.4L197.5,269.9ZM204.5,269.2L206.0,269.1L204.9,270.1L204.8,269.6ZM211.9,269.0L213.3,269.1L212.1,269.8L212.1,269.4ZM219.1,268.9L220.5,268.8L219.5,269.7L219.4,269.3ZM226.5,268.7L227.8,268.8L226.7,269.5L226.7,269.0ZM233.7,268.5L235.0,268.5L234.0,269.3L234.0,268.9ZM241.1,268.3L242.3,268.5L241.2,269.1L241.3,268.7ZM109.5,279.8L112.1,278.3L110.8,281.0L110.3,280.2ZM116.8,279.5L119.4,278.2L118.0,280.7L117.6,279.9ZM124.0,279.4L126.6,277.9L125.4,280.6L124.9,279.8ZM131.4,279.1L133.9,278.0L132.5,280.3L132.1,279.5ZM138.7,278.8L141.2,277.9L139.7,280.1L139.4,279.3ZM146.1,278.5L148.5,277.9L146.9,279.8L146.7,279.0ZM153.2,278.5L155.7,277.6L154.2,279.8L153.9,279.0ZM160.7,278.1L163.0,277.7L161.3,279.4L161.2,278.6ZM168.0,277.9L170.2,277.5L168.6,279.2L168.5,278.5ZM175.2,277.8L177.5,277.3L176.0,279.1L175.8,278.3ZM182.6,277.6L184.7,277.2L183.2,278.8L183.1,278.1ZM189.9,277.4L191.9,277.1L190.5,278.5L190.4,277.9ZM197.2,277.3L199.2,276.9L197.8,278.4L197.7,277.7ZM204.6,277.1L206.4,276.9L205.0,278.1L205.0,277.5ZM211.8,276.9L213.6,276.7L212.4,277.9L212.3,277.4ZM219.2,276.7L220.8,276.7L219.6,277.6L219.5,277.1ZM226.7,276.4L228.0,276.7L226.8,277.3L226.9,276.8ZM233.9,276.2L235.3,276.5L234.1,277.1L234.1,276.7ZM241.3,276.0L242.6,276.4L241.3,276.9L241.4,276.5ZM248.7,275.8L249.8,276.4L248.6,276.6L248.7,276.2ZM255.9,275.6L257.1,276.2L255.8,276.4L256.0,276.0ZM109.5,287.7L112.4,285.8L111.1,289.1L110.5,288.1ZM116.9,287.2L119.8,286.1L118.0,288.7L117.7,287.7ZM124.1,287.1L127.1,285.9L125.4,288.5L125.0,287.6ZM131.3,287.0L134.3,285.5L132.8,288.5L132.3,287.5ZM138.7,286.7L141.6,285.5L139.9,288.2L139.5,287.3ZM146.0,286.5L148.9,285.4L147.2,288.0L146.8,287.1ZM153.4,286.1L156.2,285.6L154.2,287.6L154.0,286.7ZM160.8,285.8L163.4,285.6L161.4,287.3L161.3,286.5ZM167.9,285.8L170.7,285.1L168.8,287.3L168.6,286.4ZM175.5,285.4L177.8,285.4L175.9,286.8L175.9,286.0ZM182.5,285.6L185.1,284.8L183.5,286.9L183.2,286.1ZM190.0,285.2L192.3,284.8L190.6,286.5L190.5,285.8ZM197.3,285.1L199.5,284.7L197.9,286.3L197.8,285.6ZM204.7,284.8L206.7,284.8L205.1,285.9L205.1,285.3ZM212.1,284.6L213.9,284.7L212.4,285.7L212.4,285.1ZM219.5,284.3L221.1,284.7L219.6,285.3L219.7,284.8ZM226.9,284.1L228.3,284.6L226.9,285.1L227.0,284.6ZM234.2,283.9L235.5,284.5L234.1,284.9L234.3,284.4ZM241.6,283.7L242.7,284.4L241.4,284.6L241.6,284.2ZM248.9,283.5L250.0,284.3L248.7,284.4L248.9,284.0ZM256.3,283.3L257.2,284.2L255.9,284.1L256.2,283.8ZM263.6,283.1L264.4,284.1L263.2,283.9L263.5,283.6ZM109.8,295.1L112.9,294.1L110.9,296.7L110.6,295.7ZM117.1,294.9L120.2,294.0L118.1,296.5L117.9,295.5ZM124.4,294.6L127.4,294.0L125.3,296.2L125.1,295.3ZM131.7,294.4L134.7,293.9L132.6,296.0L132.4,295.1ZM138.9,294.3L142.0,293.5L139.9,296.0L139.7,295.0ZM146.4,294.0L149.2,293.7L147.0,295.6L146.9,294.6ZM153.5,293.9L156.5,293.3L154.4,295.5L154.2,294.6ZM160.6,294.0L163.7,292.8L161.8,295.6L161.5,294.6ZM168.1,293.5L171.0,293.1L168.9,295.1L168.8,294.2ZM175.5,293.3L178.2,293.0L176.2,294.8L176.1,294.0ZM182.9,293.1L185.4,293.0L183.4,294.5L183.4,293.7ZM190.1,293.0L192.6,292.6L190.8,294.4L190.7,293.6ZM197.4,292.9L199.8,292.5L198.1,294.2L198.0,293.4ZM204.9,292.6L207.0,292.6L205.2,293.8L205.3,293.1ZM212.2,292.4L214.2,292.5L212.5,293.6L212.6,292.9ZM219.7,292.1L221.4,292.5L219.8,293.2L219.9,292.7ZM227.0,291.9L228.6,292.4L227.0,293.0L227.2,292.4ZM234.2,291.8L235.9,292.1L234.3,292.9L234.4,292.3ZM241.7,291.5L243.0,292.2L241.5,292.5L241.7,292.0ZM249.0,291.3L250.3,292.1L248.8,292.3L249.0,291.8ZM256.3,291.1L257.5,292.0L256.0,292.0L256.3,291.6ZM263.9,290.9L264.5,292.1L263.3,291.6L263.7,291.3ZM271.1,290.8L271.8,291.9L270.6,291.4L271.0,291.2ZM278.3,290.6L279.2,291.6L277.9,291.3L278.2,291.0ZM110.0,303.0L113.1,301.9L111.2,304.6L110.8,303.6ZM117.1,303.1L120.3,301.3L118.7,304.6L118.1,303.6ZM124.5,302.7L127.6,301.4L125.8,304.3L125.4,303.3ZM131.7,302.6L134.9,301.2L133.1,304.1L132.6,303.2ZM139.1,302.2L142.2,301.3L140.2,303.8L139.9,302.9ZM146.4,302.0L149.4,301.3L147.4,303.6L147.2,302.6ZM153.9,301.6L156.7,301.4L154.5,303.1L154.4,302.3ZM161.0,301.5L163.9,301.1L161.9,303.1L161.7,302.2ZM168.5,301.2L171.1,301.1L169.0,302.7L169.0,301.9ZM175.6,301.4L178.3,300.5L176.6,302.8L176.3,302.0ZM183.2,300.9L185.5,300.9L183.6,302.3L183.6,301.5ZM190.3,301.0L192.8,300.4L191.1,302.3L190.9,301.5ZM197.7,300.7L200.0,300.4L198.3,302.0L198.2,301.2ZM205.0,300.5L207.2,300.3L205.5,301.7L205.5,301.0ZM212.6,300.1L214.3,300.5L212.7,301.3L212.8,300.7ZM219.8,300.0L221.6,300.3L220.0,301.1L220.1,300.5ZM227.0,299.9L228.8,300.0L227.3,301.0L227.3,300.4ZM234.7,299.5L235.9,300.3L234.5,300.4L234.7,300.0ZM241.8,299.4L243.3,300.0L241.7,300.4L241.9,299.9ZM249.4,299.2L250.3,300.1L249.0,299.9L249.3,299.6ZM256.6,298.9L257.7,299.9L256.2,299.8L256.5,299.4ZM263.9,298.7L265.0,299.8L263.4,299.6L263.8,299.2ZM271.2,298.6L272.1,299.6L270.7,299.4L271.1,299.0ZM278.5,298.5L279.3,299.5L278.1,299.1L278.4,298.9ZM110.1,311.1L113.3,309.4L111.6,312.6L111.1,311.6ZM117.4,310.8L120.5,309.3L118.8,312.4L118.4,311.4ZM124.9,310.3L127.9,309.6L125.8,311.9L125.6,311.0ZM131.9,310.5L135.0,308.9L133.4,312.0L132.9,311.1ZM139.3,310.2L142.3,309.0L140.5,311.7L140.1,310.8ZM146.6,309.9L149.6,308.9L147.7,311.5L147.4,310.5ZM154.0,309.6L156.9,309.0L154.8,311.1L154.7,310.2ZM161.4,309.3L164.1,309.0L162.0,310.8L161.9,310.0ZM168.5,309.4L171.3,308.5L169.5,310.9L169.2,310.0ZM175.9,309.0L178.5,308.6L176.6,310.5L176.5,309.7ZM183.3,308.8L185.7,308.6L183.9,310.2L183.8,309.4ZM190.8,308.5L192.9,308.7L191.1,309.8L191.1,309.1ZM198.0,308.4L200.1,308.5L198.4,309.6L198.4,309.0ZM205.2,308.4L207.4,308.1L205.8,309.6L205.7,308.9ZM212.8,308.0L214.5,308.4L212.9,309.0L213.0,308.5ZM220.1,307.8L221.7,308.2L220.2,308.8L220.3,308.3ZM227.3,307.7L229.0,308.0L227.5,308.7L227.5,308.2ZM234.9,307.4L236.1,308.1L234.7,308.3L234.9,307.8ZM242.0,307.2L243.4,307.9L241.9,308.2L242.1,307.7ZM249.4,307.0L250.6,307.8L249.2,307.9L249.4,307.5ZM256.9,306.8L257.7,307.8L256.4,307.5L256.8,307.2ZM264.2,306.6L265.0,307.7L263.6,307.3L264.0,307.0ZM271.5,306.4L272.2,307.5L271.0,307.1L271.3,306.8ZM278.6,306.3L279.5,307.3L278.2,307.0L278.5,306.7ZM110.4,318.8L113.5,317.4L111.8,320.4L111.3,319.4ZM117.7,318.6L120.8,317.3L119.0,320.1L118.6,319.2ZM125.1,318.2L128.1,317.4L126.1,319.8L125.8,318.8ZM132.4,318.0L135.3,317.3L133.3,319.5L133.1,318.6ZM139.6,317.9L142.6,317.0L140.6,319.4L140.4,318.5ZM146.7,317.9L149.8,316.6L148.1,319.4L147.6,318.5ZM154.1,317.6L157.1,316.7L155.2,319.1L154.9,318.2ZM161.5,317.3L164.3,316.6L162.4,318.8L162.1,317.9ZM168.8,317.1L171.5,316.6L169.6,318.5L169.4,317.7ZM176.2,316.9L178.7,316.5L176.9,318.3L176.7,317.5ZM183.4,316.8L185.9,316.2L184.2,318.1L184.0,317.3ZM190.8,316.6L193.1,316.2L191.4,317.8L191.3,317.1ZM198.2,316.3L200.3,316.2L198.6,317.5L198.6,316.8ZM205.5,316.1L207.5,316.1L205.9,317.3L205.9,316.6ZM213.0,315.8L214.7,316.1L213.1,316.9L213.2,316.3ZM220.2,315.7L221.9,315.9L220.4,316.7L220.5,316.2ZM227.7,315.4L229.1,316.0L227.6,316.4L227.8,315.9ZM234.9,315.3L236.4,315.8L234.9,316.3L235.0,315.8ZM242.3,315.0L243.6,315.7L242.1,316.0L242.3,315.5ZM249.6,314.8L250.8,315.7L249.3,315.7L249.6,315.3ZM257.0,314.6L258.0,315.6L256.6,315.4L256.9,315.1ZM264.4,314.4L265.2,315.6L263.8,315.1L264.2,314.8ZM271.7,314.3L272.4,315.4L271.1,314.9L271.5,314.7ZM110.6,326.7L113.7,325.1L112.0,328.2L111.5,327.2ZM117.9,326.4L121.0,325.2L119.2,327.9L118.8,326.9ZM125.2,326.3L128.2,324.9L126.5,327.8L126.1,326.8ZM132.5,326.0L135.5,324.8L133.7,327.5L133.3,326.6ZM139.9,325.6L142.8,325.0L140.8,327.2L140.6,326.2ZM147.2,325.4L150.0,324.9L148.0,326.9L147.8,326.0ZM154.3,325.4L157.2,324.4L155.4,326.9L155.1,326.0ZM161.6,325.3L164.5,324.2L162.7,326.8L162.4,325.9ZM168.9,325.1L171.7,324.2L169.9,326.5L169.7,325.6ZM176.3,324.8L178.9,324.1L177.2,326.2L177.0,325.4ZM183.7,324.5L186.1,324.2L184.4,325.9L184.2,325.1ZM191.1,324.4L193.3,324.1L191.6,325.6L191.5,324.9ZM198.5,324.0L200.4,324.2L198.8,325.2L198.8,324.6ZM205.9,323.8L207.6,324.1L206.1,324.9L206.1,324.4ZM213.1,323.7L214.9,323.9L213.4,324.8L213.4,324.2ZM220.4,323.5L222.1,323.8L220.6,324.6L220.7,324.0ZM227.7,323.3L229.3,323.7L227.9,324.4L228.0,323.8ZM235.3,323.1L236.4,323.8L235.1,323.9L235.3,323.5ZM242.5,322.9L243.7,323.6L242.3,323.8L242.5,323.3ZM249.7,322.6L251.0,323.4L249.5,323.6L249.8,323.2ZM257.1,322.4L258.3,323.4L256.7,323.3L257.0,322.9ZM264.5,322.2L265.4,323.4L264.0,323.0L264.4,322.7ZM271.8,322.1L272.6,323.2L271.3,322.8L271.7,322.5ZM279.0,321.9L279.9,322.9L278.6,322.7L278.9,322.4ZM110.8,334.5L113.9,332.9L112.3,336.0L111.8,335.1ZM118.2,334.2L121.2,333.0L119.4,335.7L119.0,334.8ZM125.6,333.8L128.5,333.2L126.5,335.3L126.3,334.4ZM132.6,334.0L135.6,332.5L134.1,335.5L133.6,334.5ZM139.9,333.8L142.9,332.4L141.3,335.2L140.8,334.3ZM147.3,333.4L150.2,332.5L148.4,334.9L148.1,334.0ZM154.6,333.3L157.4,332.3L155.6,334.7L155.3,333.8ZM161.9,333.0L164.7,332.2L162.9,334.5L162.6,333.6ZM169.2,332.9L171.9,332.0L170.2,334.3L169.9,333.5ZM176.5,332.7L179.1,331.9L177.4,334.0L177.2,333.2ZM184.1,332.2L186.2,332.3L184.5,333.5L184.5,332.8ZM191.4,332.1L193.4,332.1L191.8,333.3L191.8,332.7ZM198.6,332.1L200.7,331.7L199.2,333.2L199.0,332.6ZM206.0,331.7L207.8,331.9L206.3,332.8L206.3,332.2ZM213.4,331.5L215.0,331.8L213.6,332.5L213.6,332.0ZM220.6,331.4L222.3,331.5L220.9,332.4L220.9,331.9ZM228.1,331.1L229.4,331.7L228.0,332.0L228.2,331.6ZM235.3,330.9L236.8,331.4L235.3,331.9L235.4,331.4ZM242.6,330.7L244.0,331.3L242.5,331.7L242.7,331.2ZM250.0,330.5L251.2,331.4L249.7,331.3L250.0,330.9ZM257.5,330.3L258.3,331.4L257.0,331.0L257.3,330.7ZM264.8,330.0L265.5,331.3L264.2,330.7L264.6,330.5ZM272.1,329.9L272.7,331.1L271.5,330.5L271.9,330.3ZM111.1,342.2L114.2,341.1L112.3,343.7L112.0,342.7ZM118.3,342.3L121.4,340.5L119.8,343.7L119.3,342.7ZM125.7,341.9L128.7,340.7L126.9,343.4L126.5,342.4ZM132.9,341.9L135.8,340.2L134.4,343.3L133.8,342.4ZM140.2,341.6L143.1,340.3L141.5,343.0L141.1,342.1ZM147.7,341.1L150.4,340.6L148.5,342.6L148.3,341.7ZM154.9,341.0L157.6,340.2L155.8,342.5L155.6,341.6ZM162.0,341.1L164.8,339.8L163.2,342.4L162.9,341.6ZM169.5,340.6L172.1,340.0L170.3,342.0L170.1,341.2ZM177.0,340.3L179.2,340.2L177.5,341.6L177.4,340.9ZM184.2,340.2L186.4,339.8L184.8,341.5L184.7,340.8ZM191.5,340.0L193.6,339.8L192.0,341.2L192.0,340.5ZM198.9,339.8L200.8,339.8L199.3,340.9L199.3,340.3ZM206.2,339.7L208.0,339.6L206.6,340.7L206.5,340.1ZM213.5,339.5L215.2,339.4L213.9,340.5L213.8,339.9ZM221.0,339.1L222.4,339.6L221.0,340.1L221.1,339.6ZM228.2,339.0L229.7,339.4L228.3,340.0L228.4,339.5ZM235.6,338.7L236.9,339.3L235.5,339.7L235.7,339.2ZM242.8,338.5L244.2,339.2L242.7,339.5L242.9,339.0ZM250.2,338.3L251.4,339.2L249.9,339.2L250.2,338.8ZM257.6,338.1L258.6,339.1L257.1,338.9L257.5,338.5ZM264.9,337.8L265.7,339.1L264.3,338.6L264.8,338.3ZM272.2,337.7L272.9,338.9L271.7,338.4L272.0,338.1ZM279.4,337.6L280.2,338.6L278.9,338.3L279.3,338.0ZM111.2,350.3L114.3,348.5L112.9,351.8L112.3,350.8ZM118.8,349.7L121.7,348.9L119.7,351.2L119.5,350.3ZM126.0,349.5L128.9,348.8L127.0,351.0L126.7,350.1ZM133.1,349.8L136.0,348.1L134.6,351.1L134.1,350.2ZM140.6,349.1L143.3,348.6L141.4,350.6L141.3,349.7ZM147.9,348.9L150.6,348.4L148.7,350.4L148.5,349.5ZM155.0,349.0L157.8,348.0L156.1,350.4L155.8,349.5ZM162.4,348.7L165.0,347.9L163.3,350.1L163.1,349.2ZM169.8,348.4L172.2,348.0L170.5,349.7L170.3,348.9ZM177.1,348.2L179.4,347.9L177.7,349.5L177.6,348.7ZM184.3,348.2L186.6,347.5L185.2,349.4L184.9,348.7ZM191.7,347.9L193.8,347.6L192.3,349.0L192.2,348.4ZM199.2,347.6L201.0,347.7L199.5,348.6L199.5,348.1ZM206.5,347.4L208.2,347.5L206.8,348.5L206.8,347.9ZM213.7,347.3L215.4,347.3L214.1,348.3L214.0,347.8ZM221.2,347.0L222.6,347.4L221.2,347.9L221.3,347.5ZM228.3,346.9L229.9,347.1L228.5,347.8L228.6,347.3ZM235.9,346.6L237.0,347.3L235.7,347.4L235.9,347.0ZM243.2,346.3L244.2,347.2L242.9,347.1L243.2,346.8ZM250.3,346.1L251.6,347.0L250.1,347.1L250.3,346.6ZM257.7,345.9L258.8,347.0L257.3,346.8L257.6,346.4ZM265.0,345.6L266.0,346.9L264.5,346.5L264.9,346.2ZM272.4,345.6L273.1,346.7L271.8,346.2L272.2,346.0ZM279.6,345.4L280.4,346.5L279.1,346.2L279.4,345.9Z"/>
<path class="qd" d="M192,58h1v1h-1zM199,58h1v1h-1zM207,57h1v1h-1zM178,66h1v1h-1zM185,66h1v1h-1zM192,66h1v1h-1zM200,65h1v1h-1zM207,65h1v1h-1zM178,74h1v1h-1zM200,73h1v1h-1zM207,73h1v1h-1zM171,82h1v1h-1zM178,82h1v1h-1zM200,81h1v1h-1zM207,81h1v1h-1zM164,90h1v1h-1zM200,89h1v1h-1zM207,89h1v1h-1zM208,97h1v1h-1zM193,113h1v1h-1zM172,121h1v1h-1zM186,121h1v1h-1zM201,120h1v1h-1zM208,120h1v1h-1zM172,129h1v1h-1zM187,128h1v1h-1zM216,128h1v1h-1zM172,137h1v1h-1zM179,136h1v1h-1zM194,136h1v1h-1zM209,136h1v1h-1zM172,144h1v1h-1zM180,144h1v1h-1zM187,144h1v1h-1zM194,144h1v1h-1zM202,144h1v1h-1zM209,143h1v1h-1zM216,143h1v1h-1zM223,143h1v1h-1zM253,142h1v1h-1zM158,153h1v1h-1zM165,152h1v1h-1zM173,152h1v1h-1zM180,152h1v1h-1zM187,152h1v1h-1zM194,152h1v1h-1zM202,151h1v1h-1zM209,151h1v1h-1zM216,151h1v1h-1zM224,151h1v1h-1zM231,151h1v1h-1zM238,151h1v1h-1zM246,150h1v1h-1zM253,150h1v1h-1zM267,150h1v1h-1zM275,150h1v1h-1zM326,149h1v1h-1zM333,148h1v1h-1zM341,148h1v1h-1zM348,148h1v1h-1zM355,148h1v1h-1zM158,160h1v1h-1zM165,160h1v1h-1zM173,160h1v1h-1zM180,160h1v1h-1zM187,160h1v1h-1zM195,160h1v1h-1zM202,159h1v1h-1zM209,159h1v1h-1zM217,159h1v1h-1zM224,159h1v1h-1zM231,159h1v1h-1zM238,158h1v1h-1zM246,158h1v1h-1zM253,158h1v1h-1zM260,158h1v1h-1zM268,158h1v1h-1zM275,158h1v1h-1zM282,157h1v1h-1zM290,157h1v1h-1zM297,157h1v1h-1zM304,157h1v1h-1zM319,157h1v1h-1zM326,156h1v1h-1zM333,156h1v1h-1zM341,156h1v1h-1zM348,156h1v1h-1zM355,156h1v1h-1zM363,156h1v1h-1zM158,168h1v1h-1zM166,168h1v1h-1zM173,168h1v1h-1zM180,168h1v1h-1zM188,168h1v1h-1zM195,167h1v1h-1zM202,167h1v1h-1zM209,167h1v1h-1zM217,167h1v1h-1zM224,167h1v1h-1zM231,166h1v1h-1zM239,166h1v1h-1zM246,166h1v1h-1zM253,166h1v1h-1zM261,166h1v1h-1zM268,166h1v1h-1zM275,165h1v1h-1zM282,165h1v1h-1zM290,165h1v1h-1zM297,165h1v1h-1zM304,165h1v1h-1zM312,165h1v1h-1zM319,164h1v1h-1zM326,164h1v1h-1zM334,164h1v1h-1zM341,164h1v1h-1zM348,164h1v1h-1zM355,164h1v1h-1zM159,176h1v1h-1zM166,176h1v1h-1zM173,176h1v1h-1zM180,176h1v1h-1zM188,175h1v1h-1zM195,175h1v1h-1zM202,175h1v1h-1zM210,175h1v1h-1zM217,175h1v1h-1zM224,174h1v1h-1zM232,174h1v1h-1zM239,174h1v1h-1zM246,174h1v1h-1zM253,174h1v1h-1zM261,174h1v1h-1zM268,173h1v1h-1zM275,173h1v1h-1zM283,173h1v1h-1zM290,173h1v1h-1zM297,173h1v1h-1zM305,173h1v1h-1zM312,172h1v1h-1zM319,172h1v1h-1zM326,172h1v1h-1zM334,172h1v1h-1zM341,172h1v1h-1zM348,172h1v1h-1zM356,171h1v1h-1zM159,184h1v1h-1zM166,184h1v1h-1zM173,184h1v1h-1zM181,183h1v1h-1zM188,183h1v1h-1zM195,183h1v1h-1zM203,183h1v1h-1zM210,183h1v1h-1zM217,182h1v1h-1zM224,182h1v1h-1zM232,182h1v1h-1zM239,182h1v1h-1zM246,182h1v1h-1zM254,182h1v1h-1zM261,181h1v1h-1zM268,181h1v1h-1zM276,181h1v1h-1zM283,181h1v1h-1zM290,181h1v1h-1zM297,181h1v1h-1zM305,180h1v1h-1zM312,180h1v1h-1zM319,180h1v1h-1zM327,180h1v1h-1zM334,180h1v1h-1zM341,180h1v1h-1zM348,179h1v1h-1zM166,192h1v1h-1zM174,191h1v1h-1zM181,191h1v1h-1zM188,191h1v1h-1zM195,191h1v1h-1zM203,191h1v1h-1zM210,190h1v1h-1zM217,190h1v1h-1zM225,190h1v1h-1zM232,190h1v1h-1zM239,190h1v1h-1zM247,190h1v1h-1zM254,189h1v1h-1zM261,189h1v1h-1zM268,189h1v1h-1zM276,189h1v1h-1zM283,189h1v1h-1zM290,189h1v1h-1zM298,188h1v1h-1zM305,188h1v1h-1zM312,188h1v1h-1zM319,188h1v1h-1zM327,188h1v1h-1zM334,188h1v1h-1zM341,187h1v1h-1zM349,187h1v1h-1zM400,186h1v1h-1zM152,200h1v1h-1zM159,200h1v1h-1zM166,199h1v1h-1zM174,199h1v1h-1zM181,199h1v1h-1zM188,199h1v1h-1zM196,199h1v1h-1zM203,198h1v1h-1zM210,198h1v1h-1zM218,198h1v1h-1zM225,198h1v1h-1zM232,198h1v1h-1zM239,198h1v1h-1zM247,197h1v1h-1zM254,197h1v1h-1zM261,197h1v1h-1zM269,197h1v1h-1zM276,197h1v1h-1zM283,197h1v1h-1zM290,196h1v1h-1zM298,196h1v1h-1zM305,196h1v1h-1zM312,196h1v1h-1zM320,196h1v1h-1zM327,196h1v1h-1zM334,195h1v1h-1zM342,195h1v1h-1zM349,195h1v1h-1zM145,208h1v1h-1zM159,207h1v1h-1zM167,207h1v1h-1zM174,207h1v1h-1zM181,207h1v1h-1zM189,207h1v1h-1zM196,206h1v1h-1zM203,206h1v1h-1zM210,206h1v1h-1zM218,206h1v1h-1zM225,206h1v1h-1zM232,206h1v1h-1zM240,205h1v1h-1zM247,205h1v1h-1zM254,205h1v1h-1zM261,205h1v1h-1zM269,205h1v1h-1zM276,205h1v1h-1zM283,204h1v1h-1zM291,204h1v1h-1zM298,204h1v1h-1zM305,204h1v1h-1zM313,204h1v1h-1zM320,204h1v1h-1zM327,203h1v1h-1zM334,203h1v1h-1zM342,203h1v1h-1zM145,216h1v1h-1zM152,215h1v1h-1zM160,215h1v1h-1zM167,215h1v1h-1zM174,215h1v1h-1zM181,215h1v1h-1zM189,214h1v1h-1zM196,214h1v1h-1zM203,214h1v1h-1zM211,214h1v1h-1zM218,214h1v1h-1zM225,214h1v1h-1zM232,213h1v1h-1zM240,213h1v1h-1zM247,213h1v1h-1zM254,213h1v1h-1zM262,213h1v1h-1zM269,213h1v1h-1zM276,212h1v1h-1zM284,212h1v1h-1zM291,212h1v1h-1zM298,212h1v1h-1zM305,212h1v1h-1zM313,212h1v1h-1zM320,211h1v1h-1zM327,211h1v1h-1zM335,211h1v1h-1zM342,211h1v1h-1zM160,223h1v1h-1zM167,223h1v1h-1zM174,223h1v1h-1zM182,222h1v1h-1zM189,222h1v1h-1zM196,222h1v1h-1zM204,222h1v1h-1zM211,222h1v1h-1zM218,222h1v1h-1zM225,221h1v1h-1zM233,221h1v1h-1zM240,221h1v1h-1zM247,221h1v1h-1zM255,221h1v1h-1zM262,221h1v1h-1zM269,220h1v1h-1zM276,220h1v1h-1zM284,220h1v1h-1zM291,220h1v1h-1zM298,220h1v1h-1zM306,220h1v1h-1zM313,219h1v1h-1zM320,219h1v1h-1zM327,219h1v1h-1zM335,219h1v1h-1zM342,219h1v1h-1zM160,231h1v1h-1zM167,231h1v1h-1zM175,230h1v1h-1zM182,230h1v1h-1zM189,230h1v1h-1zM196,230h1v1h-1zM204,230h1v1h-1zM211,230h1v1h-1zM218,229h1v1h-1zM226,229h1v1h-1zM233,229h1v1h-1zM240,229h1v1h-1zM247,229h1v1h-1zM255,229h1v1h-1zM262,228h1v1h-1zM269,228h1v1h-1zM277,228h1v1h-1zM284,228h1v1h-1zM291,228h1v1h-1zM298,228h1v1h-1zM306,227h1v1h-1zM313,227h1v1h-1zM320,227h1v1h-1zM328,227h1v1h-1zM335,227h1v1h-1zM160,239h1v1h-1zM175,238h1v1h-1zM182,238h1v1h-1zM189,238h1v1h-1zM197,238h1v1h-1zM204,238h1v1h-1zM211,237h1v1h-1zM219,237h1v1h-1zM226,237h1v1h-1zM233,237h1v1h-1zM240,237h1v1h-1zM248,237h1v1h-1zM255,236h1v1h-1zM262,236h1v1h-1zM269,236h1v1h-1zM277,236h1v1h-1zM284,236h1v1h-1zM291,236h1v1h-1zM299,235h1v1h-1zM306,235h1v1h-1zM313,235h1v1h-1zM320,235h1v1h-1zM328,235h1v1h-1zM175,246h1v1h-1zM182,246h1v1h-1zM197,246h1v1h-1zM204,245h1v1h-1zM211,245h1v1h-1zM219,245h1v1h-1zM226,245h1v1h-1zM233,245h1v1h-1zM241,245h1v1h-1zM248,244h1v1h-1zM255,244h1v1h-1zM262,244h1v1h-1zM270,244h1v1h-1zM277,244h1v1h-1zM284,244h1v1h-1zM292,243h1v1h-1zM299,243h1v1h-1zM306,243h1v1h-1zM313,243h1v1h-1zM321,243h1v1h-1zM328,243h1v1h-1zM408,241h1v1h-1zM197,253h1v1h-1zM212,253h1v1h-1zM219,253h1v1h-1zM226,253h1v1h-1zM233,253h1v1h-1zM241,252h1v1h-1zM248,252h1v1h-1zM255,252h1v1h-1zM263,252h1v1h-1zM270,252h1v1h-1zM277,252h1v1h-1zM284,251h1v1h-1zM292,251h1v1h-1zM299,251h1v1h-1zM306,251h1v1h-1zM314,251h1v1h-1zM321,251h1v1h-1zM415,248h1v1h-1zM226,261h1v1h-1zM234,260h1v1h-1zM241,260h1v1h-1zM248,260h1v1h-1zM255,260h1v1h-1zM263,260h1v1h-1zM270,260h1v1h-1zM277,259h1v1h-1zM285,259h1v1h-1zM292,259h1v1h-1zM299,259h1v1h-1zM306,259h1v1h-1zM314,259h1v1h-1zM248,268h1v1h-1zM256,268h1v1h-1zM263,268h1v1h-1zM270,267h1v1h-1zM277,267h1v1h-1zM285,267h1v1h-1zM292,267h1v1h-1zM299,267h1v1h-1zM307,267h1v1h-1zM314,266h1v1h-1zM263,275h1v1h-1zM270,275h1v1h-1zM278,275h1v1h-1zM285,275h1v1h-1zM292,275h1v1h-1zM299,275h1v1h-1zM307,274h1v1h-1zM314,274h1v1h-1zM271,283h1v1h-1zM278,283h1v1h-1zM285,283h1v1h-1zM292,283h1v1h-1zM300,282h1v1h-1zM307,282h1v1h-1zM314,282h1v1h-1zM321,282h1v1h-1zM285,291h1v1h-1zM293,290h1v1h-1zM300,290h1v1h-1zM307,290h1v1h-1zM314,290h1v1h-1zM285,298h1v1h-1zM293,298h1v1h-1zM300,298h1v1h-1zM307,298h1v1h-1zM315,298h1v1h-1zM322,298h1v1h-1zM329,297h1v1h-1zM286,306h1v1h-1zM293,306h1v1h-1zM300,306h1v1h-1zM307,306h1v1h-1zM315,306h1v1h-1zM322,305h1v1h-1zM329,305h1v1h-1zM336,305h1v1h-1zM279,314h1v1h-1zM286,314h1v1h-1zM293,314h1v1h-1zM300,314h1v1h-1zM308,314h1v1h-1zM315,313h1v1h-1zM322,313h1v1h-1zM329,313h1v1h-1zM337,313h1v1h-1zM286,322h1v1h-1zM293,322h1v1h-1zM301,322h1v1h-1zM308,321h1v1h-1zM315,321h1v1h-1zM322,321h1v1h-1zM330,321h1v1h-1zM337,321h1v1h-1zM279,330h1v1h-1zM286,330h1v1h-1zM293,330h1v1h-1zM301,329h1v1h-1zM308,329h1v1h-1zM315,329h1v1h-1zM322,329h1v1h-1zM330,329h1v1h-1zM337,329h1v1h-1zM344,328h1v1h-1zM286,338h1v1h-1zM294,337h1v1h-1zM301,337h1v1h-1zM308,337h1v1h-1zM315,337h1v1h-1zM323,337h1v1h-1zM330,337h1v1h-1zM337,336h1v1h-1zM344,336h1v1h-1zM287,345h1v1h-1zM294,345h1v1h-1zM301,345h1v1h-1zM308,345h1v1h-1zM316,345h1v1h-1zM323,345h1v1h-1zM330,344h1v1h-1zM337,344h1v1h-1zM345,344h1v1h-1z"/>
<path class="g" d="M101.55,39.4 L111.05,365.5 M147.43,39.4 L156.38,365.5 M193.30,39.4 L201.71,365.5 M239.18,39.4 L247.04,365.5 M285.06,39.4 L292.36,365.5 M330.93,39.4 L337.69,365.5 M376.81,39.4 L383.02,365.5 M422.69,39.4 L428.35,365.5"/>
<path class="g" d="M90.5,78.24 L431.5,70.16 M90.5,117.42 L431.5,109.34 M90.5,156.60 L431.5,148.52 M90.5,195.78 L431.5,187.70 M90.5,234.96 L431.5,226.88 M90.5,274.14 L431.5,266.06 M90.5,313.32 L431.5,305.24 M90.5,352.50 L431.5,344.42"/>
</g>
<rect x="100.5" y="49.4" width="321.00" height="306.10" fill="none" stroke="#000" stroke-width="1.1"/>
<text class="t12" x="277.1" y="-1.2">_p</text>
<text class="t12" x="309.3" y="-1.2">_</text>
<text class="t12" x="331.2" y="-1.2">_</text>
<text class="t12" x="259.6" y="20" text-anchor="middle">2026-03-19T13:00:00Z</text>
<text class="t10" x="101.5" y="39" text-anchor="middle">112.5°E</text>
<text class="t10" x="193.6" y="39" text-anchor="middle">113°E</text>
<text class="t10" x="284.8" y="39" text-anchor="middle">113.5°E</text>
<text class="t10" x="376.6" y="39" text-anchor="middle">114°E</text>
<text class="t10" x="111.0" y="373" text-anchor="middle">112.5°E</text>
<text class="t10" x="201.8" y="373" text-anchor="middle">113°E</text>
<text class="t10" x="292.6" y="373" text-anchor="middle">113.5°E</text>
<text class="t10" x="383.0" y="373" text-anchor="middle">114°E</text>
<text class="t10" x="93" y="81.9" text-anchor="end">21.6°S</text>
<text class="t10" x="93" y="121.2" text-anchor="end">21.8°S</text>
<text class="t10" x="93" y="160.4" text-anchor="end">22°S</text>
<text class="t10" x="93" y="199.7" text-anchor="end">22.2°S</text>
<text class="t10" x="93" y="238.9" text-anchor="end">22.4°S</text>
<text class="t10" x="93" y="278.1" text-anchor="end">22.6°S</text>
<text class="t10" x="93" y="317.4" text-anchor="end">22.8°S</text>
<text class="t10" x="93" y="356.6" text-anchor="end">23°S</text>
<rect x="441.6" y="125.5" width="8" height="153.8" fill="url(#cb)" stroke="#000" stroke-width="1.1"/>
<text class="t10" x="458.3" y="283.6">0.0</text>
<text class="t10" x="458.3" y="252.8">0.2</text>
<text class="t10" x="458.3" y="222.1">0.4</text>
<text class="t10" x="458.3" y="191.3">0.6</text>
<text class="t10" x="458.3" y="160.6">0.8</text>
<text class="t10" x="458.3" y="129.8">1.0</text>
<path d="M449.6,279.30 h4.9 M449.6,248.54 h4.9 M449.6,217.78 h4.9 M449.6,187.02 h4.9 M449.6,156.26 h4.9 M449.6,125.50 h4.9" stroke="#000" stroke-width="1.1" fill="none"/>
<text class="t10" x="546.6" y="32.9">Iterations: 200</text>
<text class="t10" x="546.6" y="65.4">nll: -14742.965447446368</text>
<text class="t10" x="546.6" y="97.9">σ = 5.21e-07</text>
<text class="t10" x="546.6" y="130.3">,η_ψ = 5002.06</text>
<text class="t10" x="546.6" y="162.8">ℓ_ψ = 70767.35</text>
<text class="t10" x="546.6" y="195.3">η_uv = 5.40e-02</text>
<text class="t10" x="546.6" y="227.8">ℓ_uv = 5080.96</text>
<text class="t10" x="546.6" y="260.3">η_q = 2.79e-05</text>
<text class="t10" x="546.6" y="292.7">ℓ_q = 31584.18</text>
</svg></body></html>
